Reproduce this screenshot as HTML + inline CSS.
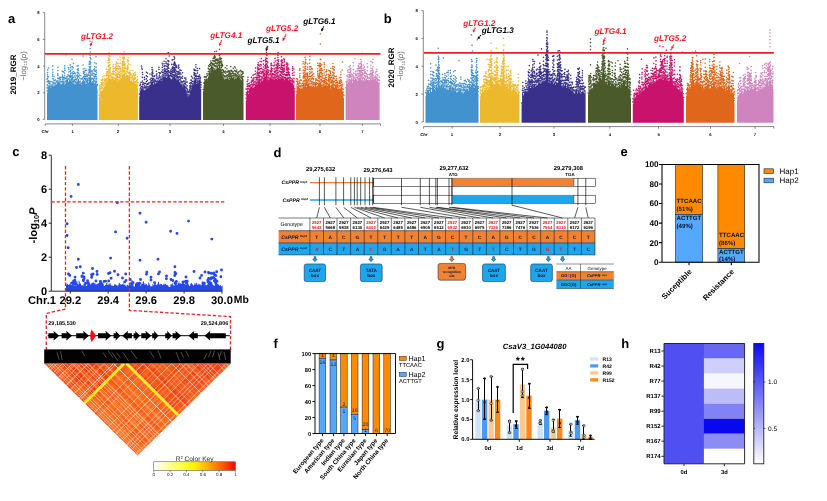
<!DOCTYPE html>
<html lang="en"><head><meta charset="utf-8"><title>Figure</title>
<style>html,body{margin:0;padding:0;background:#fff}svg{display:block;font-family:"Liberation Sans",Arial,Helvetica,sans-serif}text{white-space:pre;text-rendering:geometricPrecision}</style></head>
<body>
<svg width="827" height="501" viewBox="0 0 827 501">
<rect width="827" height="501" fill="#fff"/>
<g>
<path d="M47 120.1V93H47.5V84.5H48V85.6H48.5V86.8H49V82.4H49.5V85.5H50V83.3H50.5V87.6H51V84.5H51.5V87.3H52V86H52.5V83.6H53V81.9H53.5V86.3H54V81.6H54.5V85.6H55V82.4H55.5V85.2H56V84H56.5V84.4H57V82.8H57.5V80.1H58V81.7H58.5V80.3H59V82.3H59.5V80.1H60V82.9H60.5V84.2H61V84.5H61.5V83.3H62V79.5H62.5V83.4H63V78.5H63.5V82.9H64V84.7H64.5V80.5H65V80.5H65.5V83.9H66V80.1H66.5V78.9H67V79.2H67.5V78.1H68V82H68.5V81.2H69V79.4H69.5V77.9H70V80H70.5V80.7H71V78H71.5V81.5H72V83.2H72.5V81H73V78.9H73.5V83H74V81.8H74.5V84.6H75V81H75.5V84.3H76V81.7H76.5V81.8H77V81.5H77.5V80H78V79.1H78.5V78.7H79V80.8H79.5V83.4H80V83.5H80.5V81.4H81V84.9H81.5V82H82V81.3H82.5V80.5H83V80.1H83.5V78.7H84V80.7H84.5V80.7H85V82H85.5V84H86V80.4H86.5V83.4H87V78.7H87.5V77.7H88V81.4H88.5V82.6H89V76.9H89.5V77.4H90V69.1H90.5V75.4H91V77.1H91.5V82.3H92V82H92.5V82.8H93V79.8H93.5V81.9H94V83.8H94.5V80.8H95V77.8H95.5V82.8H96V78.4H96.5V84.5H97V88.8H97.5V120.1Z" fill="#4292d0"/>
<path d="M47.3 90.9h0M47.1 87.9h0M47.3 85.1h0M47.1 81.5h0M47.1 79.2h0M47.8 81.3h0M47.6 78.2h0M47.8 76.6h0M47.6 74.8h0M47.6 72.6h0M47.7 69.9h0M48.2 83h0M48.4 80.8h0M48.4 76.8h0M48.9 85.7h0M48.9 83.1h0M49.1 81.4h0M49.6 83.6h0M50.4 81.6h0M50.9 86.5h0M51.1 81.8h0M51.9 85.8h0M52.2 84.5h0M52.7 82.1h0M52.7 78.7h0M52.6 76.3h0M52.8 74.5h0M52.8 72.3h0M52.7 69.8h0M52.7 65.9h0M53.4 78.8h0M53.6 83.1h0M54.1 80.4h0M54.1 76.5h0M54.7 83.2h0M55.4 80.1h0M55.6 83.8h0M56.3 82.1h0M56.8 81.1h0M57.4 81.8h0M57.8 78h0M57.9 75.6h0M57.8 73.9h0M57.9 70.5h0M58.2 78.6h0M58.9 78.3h0M59.3 80h0M59.3 78.2h0M59.8 78.3h0M60.4 81.8h0M60.2 77.3h0M60.9 81.8h0M60.6 79.6h0M60.8 77.3h0M61.2 82h0M61.9 81.3h0M62.1 77.8h0M62.4 75h0M62.3 71.3h0M62.6 81.8h0M62.8 79.2h0M62.7 76.4h0M63.4 77.5h0M63.3 71.9h0M63.6 81.9h0M64.1 83.2h0M64.2 78.9h0M64.8 77.3h0M64.7 75.2h0M64.6 73.1h0M64.8 70.4h0M64.7 68.4h0M64.8 65.9h0M65.4 78.6h0M65.6 81.2h0M66.3 78.3h0M66.8 76.8h0M67.3 76.7h0M67.8 74.8h0M68.2 79h0M68.6 79.1h0M68.6 75.6h0M68.6 72h0M68.9 69.6h0M68.6 67.7h0M69.4 76.8h0M69.7 75.7h0M70.2 77.7h0M70.4 75.2h0M70.1 71.5h0M70.4 67.8h0M70.3 64.9h0M70.9 79.7h0M70.7 76.9h0M70.8 73.4h0M70.8 70.6h0M70.7 67.2h0M71.2 76.4h0M71.7 78.4h0M72.4 81.9h0M72.1 80.3h0M72.3 78.1h0M72.2 75.8h0M72.1 72.7h0M72.1 69.3h0M72.2 66.5h0M72.8 79h0M72.6 77h0M72.8 73.9h0M73.3 77.4h0M73.4 73.8h0M73.2 71.5h0M73.1 67.6h0M73.4 63.6h0M73.6 81.4h0M74.2 80.6h0M74.9 81.4h0M74.8 79.6h0M74.8 76.1h0M74.6 72.9h0M74.5 72.4h0M75.1 79.7h0M75.4 77.7h0M75.4 73.7h0M75.9 82.3h0M76.1 79.3h0M76.4 76h0M76.6 79.9h0M77.3 78.6h0M77.3 74.9h0M77.3 72.4h0M77.4 69.6h0M77.2 66h0M77.7 77.1h0M78.2 76.3h0M78.1 73h0M78.2 70.6h0M78.2 68.9h0M78.3 65.8h0M78.8 76.2h0M78.7 73.3h0M79.4 78h0M79.4 75.1h0M79.7 82h0M80.3 81.2h0M80.9 78.9h0M80.9 75.8h0M81.2 83.6h0M81.7 78.8h0M82.3 78.8h0M82.6 79h0M83.1 77.3h0M83.4 73.4h0M83.4 71.6h0M83.2 69h0M83.1 65h0M83.9 76.6h0M84.1 78.7h0M84.3 77h0M84.2 75.1h0M84.2 71.9h0M84.9 78.5h0M84.8 74.6h0M84.6 72.4h0M84.9 68.7h0M85.3 79.7h0M85.4 76.6h0M85.1 74.5h0M85.4 70.6h0M85.8 82h0M85.8 80.2h0M85.9 79.1h0M86.1 78.3h0M86.3 75.9h0M86.9 81h0M86.7 78.8h0M86.9 76.6h0M86.8 74.1h0M86.7 70.2h0M87.2 76.8h0M87.7 75.4h0M88.1 80.3h0M88.7 80h0M88.7 78.1h0M88.7 74.7h0M88.8 72.9h0M88.9 69.9h0M89.2 75.2h0M89.4 71.4h0M89.2 69.2h0M89.2 66.7h0M89.2 64.1h0M89.3 62.1h0M89.9 76.1h0M89.7 72.4h0M89.8 70.7h0M89.8 67.8h0M89.8 63.9h0M90.3 67.9h0M90.1 64.2h0M90.1 61h0M90.3 57.6h0M90.1 55.5h0M90.3 52h0M90.8 73.3h0M90.8 70h0M90.7 66.2h0M90.8 62.6h0M90.9 58.9h0M91.3 74.9h0M91.2 71.4h0M91.7 78.9h0M92.1 78.8h0M92.6 81.5h0M92.8 78.8h0M92.6 75h0M92.6 73.1h0M92.6 71h0M93.1 78.2h0M93.7 79.8h0M93.9 76h0M93.8 73.6h0M93.7 69.7h0M94.2 80.9h0M94.6 78.3h0M94.7 76.7h0M94.9 74.2h0M94.8 70.9h0M94.6 68.9h0M94.7 66.5h0M94.8 62.8h0M95.4 76.5h0M95.4 74.9h0M95.4 71.3h0M95.7 81.7h0M96.4 76.8h0M96.4 74.2h0M96.4 72.3h0M96.3 70.2h0M96.1 67.4h0M96.2 63.8h0M96.7 81.8h0M96.6 78.6h0M97.3 85.8h0M97.4 84.5h0M90.2 48.6h0M90.4 44.6h0M90.1 41.3h0M83 56h0M66 54.7h0M72 59.3h0M96 56.7h0M63 54h0M58 67.3h0M48.5 68h0" stroke="#4292d0" stroke-width="1.6" stroke-linecap="round" fill="none"/>
<path d="M98.9 120.1V99.5H99.4V91.9H99.9V91.1H100.4V87.2H100.9V90.9H101.4V86.5H101.9V90.9H102.4V87.9H102.9V85.1H103.4V88H103.9V86.7H104.4V85.7H104.9V85.7H105.4V81.8H105.9V78.1H106.4V78.9H106.9V81.1H107.4V77.9H107.9V75.4H108.4V74.2H108.9V72.3H109.4V77.7H109.9V78.9H110.4V78.2H110.9V75.7H111.4V78.4H111.9V76.1H112.4V76.6H112.9V74.1H113.4V79.1H113.9V79.6H114.4V79.7H114.9V78H115.4V77.7H115.9V78.1H116.4V77.2H116.9V76.1H117.4V81H117.9V78.9H118.4V79.8H118.9V79.5H119.4V78H119.9V74H120.4V79.6H120.9V77.7H121.4V77.7H121.9V74.4H122.4V73.9H122.9V72.2H123.4V73.7H123.9V71.6H124.4V73.4H124.9V73.7H125.4V77.4H125.9V75.5H126.4V73.1H126.9V74.5H127.4V74.9H127.9V75.7H128.4V74.9H128.9V75.5H129.4V75.6H129.9V79.1H130.4V81.1H130.9V76.6H131.4V80.4H131.9V77.1H132.4V82.1H132.9V76.7H133.4V77.8H133.9V80.9H134.4V81.2H134.9V83.4H135.4V81.6H135.9V83.7H136.4V82H136.9V78.6H137.4V87.6H137.9V120.1Z" fill="#ecb92c"/>
<path d="M99.3 98.5h0M99 95h0M99.6 90.3h0M99.7 87.7h0M99.5 85.5h0M100.2 88.8h0M100.7 86h0M101 88.6h0M101 86.4h0M101.1 84.5h0M101.3 82.8h0M101.2 80.1h0M101.6 84.6h0M102.3 87.6h0M102.2 84.4h0M102.1 82.8h0M102.2 80.4h0M102.7 85h0M102.8 83h0M102.7 79.3h0M102.7 76.8h0M103.2 82.9h0M103.5 85.5h0M104.3 85h0M104.1 82.5h0M104.3 80.6h0M104.3 78.7h0M104.2 75.8h0M104.8 82.4h0M105.3 84.1h0M105.7 80.4h0M105.5 79.6h0M106.1 75.6h0M106.5 76h0M106.6 73.9h0M106.6 72h0M106.5 69h0M107 78.6h0M107 75.4h0M107.8 75.3h0M107.6 71.9h0M108.2 73.5h0M108.2 69.7h0M108.1 66.8h0M108.1 63h0M108.4 60.3h0M108.5 71.8h0M108.6 69.9h0M108.6 67.1h0M108.7 65.4h0M108.5 62.5h0M108.6 60.2h0M108.5 58h0M109 69.4h0M109.2 66h0M109 62.2h0M109 58.7h0M109.3 55.8h0M109 52.9h0M109.6 75.8h0M109.5 72.8h0M109.8 71.1h0M109.6 68.8h0M109.8 64.9h0M109.5 62.2h0M109.8 59.9h0M110 76.8h0M110.3 73.1h0M110.2 71h0M110.3 69h0M110.3 67.7h0M110.7 75.2h0M111 73.7h0M111.5 77h0M112.2 74.2h0M112.7 73.5h0M112.7 71.2h0M113 71.9h0M113.1 68.8h0M113.3 66.6h0M113.1 64.8h0M113.8 77.7h0M113.5 73.7h0M113.8 71h0M113.8 68.5h0M114.2 77.8h0M114.2 74.3h0M114.3 71.5h0M114.2 68.2h0M114.7 78.3h0M115.3 75.1h0M115.5 75.6h0M115.7 72.5h0M115.8 69.6h0M115.5 67.5h0M115.6 64.2h0M116.3 77h0M116.2 74h0M116 70.5h0M116.1 68.5h0M116.1 66.8h0M116.2 63.8h0M116.6 75.8h0M116.7 73.8h0M116.8 70.2h0M116.6 68.5h0M116.5 66h0M116.5 62.1h0M117.1 74.8h0M117.6 79.7h0M117.6 77.4h0M117.5 75.6h0M117.8 71.6h0M117.5 68.2h0M117.7 66h0M117.6 63.8h0M118 76.5h0M118.2 73.9h0M118.1 72.2h0M118.3 68.9h0M118.3 65.9h0M118.1 63.2h0M118.1 59.5h0M118.5 77.6h0M119.3 77.5h0M119.3 74.2h0M119.6 76.2h0M119.5 74.6h0M119.6 72.3h0M119.7 68.5h0M119.6 66.3h0M120.3 71.3h0M120.1 69.7h0M120 67.1h0M120.1 63.4h0M120.2 60h0M120 57h0M120.6 78.6h0M120.7 76h0M120.7 74.1h0M120.7 71.8h0M120.5 68.6h0M121.1 75.8h0M121.5 76.7h0M121.7 73.5h0M121.8 70h0M122.2 71.8h0M122.3 67.9h0M122.2 65.7h0M122.1 63.9h0M122.5 72.3h0M122.6 69.8h0M122.7 67.8h0M122.5 65.6h0M122.6 63.2h0M122.7 61.2h0M122.7 57.9h0M123 70.3h0M123.2 67.5h0M123.1 64.8h0M123 62.5h0M123.3 60.1h0M123.1 57.1h0M123 53.9h0M123.8 71.4h0M123.7 68h0M123.6 64.9h0M123.6 62.3h0M124.2 70.4h0M124.1 68h0M124 64.1h0M124 62h0M124 58.8h0M124.2 57.2h0M124 54.6h0M124.2 51.8h0M124.6 70.1h0M124.8 67.7h0M124.7 65.3h0M124.7 62h0M124.8 58.1h0M125.1 71.9h0M125.2 68.5h0M125 66.3h0M125 63.9h0M125.7 76.2h0M126 73.4h0M126.8 70.9h0M126.7 68.4h0M127.3 71.7h0M127.2 68.1h0M127.5 72h0M127.7 69.5h0M127.5 67.3h0M127.7 65.7h0M127.8 61.8h0M127.7 59.9h0M128 72.4h0M128 69.1h0M128.1 67.4h0M128.3 64h0M128.1 62.1h0M128.2 60.5h0M128.1 57.7h0M128.6 73.3h0M129.2 73.6h0M129.8 74.4h0M129.6 72.2h0M130.2 77.8h0M130 75.6h0M130.1 72.8h0M130 70.6h0M130 64.7h0M130.5 77.8h0M130.6 74.1h0M131.2 74.3h0M131.8 77.4h0M132 75.7h0M132.6 79.3h0M132.5 76.5h0M133.3 73.8h0M133.1 70.5h0M133.5 74.5h0M134.3 79.3h0M134 75.4h0M134.6 78.3h0M134.6 75.2h0M134.8 72.9h0M135.2 81.9h0M135.2 79h0M135 77h0M135.1 75.1h0M135 72.4h0M135.5 78.3h0M135.6 74.6h0M136.3 81.8h0M136.6 80.6h0M137.3 76.8h0M137.7 86.1h0M137.8 82.4h0M137.7 79.3h0M108.5 54h0M110 56.7h0M123.3 54h0" stroke="#ecb92c" stroke-width="1.6" stroke-linecap="round" fill="none"/>
<path d="M139.2 120.1V96.6H139.7V87.9H140.2V90.5H140.7V84.1H141.2V88H141.7V89.1H142.2V85.4H142.7V85.4H143.2V87H143.7V90H144.2V89.5H144.7V90.6H145.2V86H145.7V89.5H146.2V83.3H146.7V86.2H147.2V85.4H147.7V88.5H148.2V86.9H148.7V85.9H149.2V87.2H149.7V82.6H150.2V84.7H150.7V80.2H151.2V81.7H151.7V81.6H152.2V80.5H152.7V81.7H153.2V84.6H153.7V83.6H154.2V78.5H154.7V78.5H155.2V83.5H155.7V83.2H156.2V81.1H156.7V78.1H157.2V82.5H157.7V80H158.2V80.9H158.7V75.8H159.2V79.9H159.7V76H160.2V76H160.7V81H161.2V75H161.7V80.9H162.2V74.6H162.7V76.1H163.2V76.5H163.7V74.5H164.2V74.9H164.7V77.3H165.2V74.6H165.7V75.1H166.2V78H166.7V75.2H167.2V76.8H167.7V73H168.2V73.6H168.7V74.5H169.2V74.4H169.7V77.8H170.2V78.6H170.7V72.7H171.2V79.2H171.7V79.2H172.2V73.9H172.7V76H173.2V75.2H173.7V76.9H174.2V74.1H174.7V73.6H175.2V78H175.7V78.4H176.2V73.5H176.7V80.2H177.2V77.8H177.7V78.7H178.2V79.4H178.7V79.2H179.2V81.9H179.7V81.4H180.2V81.7H180.7V84.3H181.2V80.8H181.7V84.5H182.2V83.1H182.7V87.2H183.2V83.5H183.7V86H184.2V85.1H184.7V85H185.2V85.7H185.7V89.8H186.2V90.5H186.7V93.4H187.2V92.3H187.7V96.4H188.2V93.4H188.7V95.5H189.2V94.3H189.7V91.7H190.2V88.6H190.7V90.1H191.2V88.6H191.7V85.4H192.2V84H192.7V84.7H193.2V83.7H193.7V77.9H194.2V80.2H194.7V77.7H195.2V78.6H195.7V77.4H196.2V83.9H196.7V83.5H197.2V79.4H197.7V81.1H198.2V82.5H198.7V79.5H199.2V78.2H199.7V80.1H200.2V78.3H200.7V88.9H201.2V120.1Z" fill="#38308a"/>
<path d="M139.4 94h0M140 85.5h0M140.5 88.1h0M140.3 84.3h0M141 82.4h0M141.6 86.8h0M142.1 86.6h0M142.6 84.3h0M142.4 81h0M142.4 77.4h0M142.6 74.5h0M142.4 72.5h0M142.3 69.3h0M143.1 82.6h0M143.3 84.2h0M144.1 87h0M144.6 87.1h0M144.6 85.3h0M144.5 83.2h0M144.5 79.5h0M144.5 77.4h0M144.9 88.1h0M145.4 83.4h0M145.9 87.1h0M146.4 81.5h0M146.3 78.9h0M146.4 75.8h0M146.4 72.2h0M147 84.5h0M147.6 83.8h0M147.4 80.5h0M147.4 76.7h0M147.5 73.3h0M148.1 86.5h0M148 84.2h0M148.4 83.8h0M149 82.9h0M149.4 86h0M150.1 79.5h0M149.9 74h0M150.5 82.1h0M151.1 78.3h0M151.4 80.6h0M151.9 80.2h0M151.9 78.3h0M151.8 74.9h0M152 72.9h0M152 69.8h0M152.1 67.6h0M152.6 79.5h0M152.6 75.6h0M152.5 71.9h0M153 80.1h0M153 78.2h0M152.8 76.3h0M152.9 73.4h0M152.8 70h0M153.4 82.3h0M153.3 78.7h0M153.9 81.4h0M154.3 76.5h0M154.8 75.8h0M155.5 80.3h0M155.8 81.6h0M156.6 78h0M156.5 75.1h0M156.4 71.3h0M156.9 76.2h0M156.9 73.7h0M157.5 81.4h0M157.9 78.2h0M158.3 78.8h0M158.9 72.5h0M158.9 69.5h0M159 67.2h0M159.3 77.2h0M159.4 75.3h0M159.6 73.1h0M159.8 73.5h0M160.6 73.1h0M161 79.9h0M161.6 71.8h0M162 79h0M162.6 72.6h0M162.4 70.1h0M162.3 67.4h0M162.5 65.1h0M162.3 63.3h0M162.9 74.8h0M163.4 75.1h0M163.8 72.4h0M163.9 69.8h0M164.1 66.5h0M164 63.8h0M164.1 61.2h0M164.4 73.5h0M164.4 71.5h0M164.5 68.5h0M164.5 65.9h0M164.9 74h0M164.8 70.7h0M165.6 73.5h0M165.5 71h0M165.9 72h0M165.8 69.2h0M165.8 65.8h0M166.1 63.4h0M166 61.8h0M166 58.8h0M166.3 75.1h0M166.3 71.6h0M167.1 72.9h0M167 69.1h0M167.1 66.6h0M167.3 75.2h0M167.5 73.6h0M167.4 71.3h0M167.3 69.1h0M167.4 66.4h0M167.4 64.1h0M168 70.6h0M168 67.2h0M168.1 64h0M167.9 60.5h0M167.9 53.1h0M168.6 70.9h0M168.5 68.1h0M168.3 65.7h0M168.3 61.8h0M168.8 72.3h0M168.9 68.3h0M168.8 64.6h0M168.8 61.4h0M169.2 56h0M169.3 72.2h0M169.8 75.7h0M169.9 72.4h0M170.5 75.4h0M170.4 73.4h0M170.5 71h0M171.1 69.5h0M171.5 76.6h0M171.6 73.5h0M171.5 71.7h0M171.8 75.9h0M172.1 74.2h0M172 71h0M172.1 68h0M171.8 64.4h0M172.2 59.9h0M172.3 72.1h0M172.4 68.7h0M173.1 74.5h0M172.8 72.5h0M172.9 70.3h0M172.9 66.8h0M173.3 72.2h0M173.4 70h0M173.5 67.6h0M173.6 64.4h0M173.9 75.5h0M173.9 71.5h0M174.1 69h0M173.9 65.1h0M174.1 63.1h0M173.9 59.6h0M174.6 72.1h0M174.4 70.4h0M174.3 67.9h0M174.3 64.1h0M174.6 62h0M174.6 58.1h0M174.8 72.2h0M175.1 69h0M175.1 65.6h0M174.9 62.9h0M175.4 76.7h0M175.4 74.9h0M175.3 72.9h0M175.5 70h0M175.6 67.1h0M175.6 64.2h0M176 75.3h0M175.9 73.3h0M175.9 70.3h0M176.3 71.5h0M176.6 67.6h0M176.6 65.9h0M176.8 77.5h0M177.1 75.8h0M177.3 76.5h0M177.3 74.1h0M177.5 71.9h0M178.1 76.9h0M177.9 73.9h0M178.6 77.9h0M178.6 74.2h0M178.5 72.2h0M178.4 68.3h0M178.5 66.2h0M178.8 77.5h0M178.9 74.3h0M178.9 71.3h0M179 67.5h0M178.8 65h0M179.3 79.8h0M179.4 77h0M179.6 73.9h0M180.1 79.9h0M179.9 76.3h0M180 72.6h0M180 69.9h0M180.5 78.7h0M181.1 81.4h0M181 77.6h0M181 74.1h0M181.1 70.5h0M181.3 77.6h0M182.1 82.1h0M182.6 81.9h0M182.4 78.2h0M182.5 76.2h0M182.6 72.8h0M183.1 86.2h0M183.6 81.1h0M183.8 85h0M183.8 81.5h0M184.4 83.4h0M184.5 81.3h0M184.6 78.1h0M185.1 83.4h0M185.4 84h0M185.9 87.6h0M185.8 84.2h0M186 82.1h0M185.9 79.9h0M185.9 78.1h0M186.4 88h0M186.9 92.1h0M187.1 88.9h0M187 85.9h0M187.1 82.1h0M187.3 90.1h0M188 94.8h0M187.9 91.5h0M188.4 91.4h0M188.8 92.4h0M189.1 91.9h0M189.5 92h0M189.5 89.5h0M189.8 90.4h0M189.8 87.7h0M189.9 85.9h0M189.8 83.2h0M190.6 86.9h0M190.4 85h0M190.6 82.9h0M191.1 88.5h0M190.9 85.2h0M190.9 82.8h0M190.9 80.1h0M191.4 86.6h0M191.4 82.9h0M191.6 80.4h0M191.6 76.4h0M192 83.8h0M192.3 81.5h0M192.5 78.1h0M192.9 83.7h0M193.6 81.8h0M194.1 75h0M194 72.5h0M194.1 69.2h0M194.5 77.9h0M194.3 73.9h0M194.4 70.4h0M194.9 75.5h0M195 73.5h0M195 69.7h0M195.4 76.3h0M196.1 75.6h0M195.9 73.8h0M196 70.6h0M195.9 67h0M195.9 64.7h0M196.4 82.6h0M196.6 78.9h0M196.3 76.7h0M196.9 80.7h0M197.3 76.4h0M197.5 73.1h0M197.6 70.7h0M197.4 68.5h0M198 78.8h0M198.6 81.2h0M198.4 78.8h0M198.6 76.2h0M198.8 76.9h0M199.5 76.7h0M199.5 75h0M199.5 68.6h0M200.1 78.3h0M200.5 77.3h0M200.9 87.2h0M201 84.9h0M200.9 82.4h0M168.5 52.7h0M174 56.7h0M141.5 66h0M141.7 68h0" stroke="#38308a" stroke-width="1.6" stroke-linecap="round" fill="none"/>
<path d="M203 120.1V91.2H203.5V85.2H204V79.5H204.5V81.6H205V78.5H205.5V79.9H206V78.9H206.5V77.1H207V78.6H207.5V80.2H208V75H208.5V76.7H209V72H209.5V71.1H210V72.5H210.5V69.8H211V65.9H211.5V64.5H212V65.8H212.5V67.1H213V66.4H213.5V69.7H214V69.2H214.5V68.2H215V67.8H215.5V69.7H216V69.1H216.5V63.1H217V65.9H217.5V63H218V67.3H218.5V67.9H219V64.8H219.5V63.7H220V67H220.5V68.7H221V71.7H221.5V68.4H222V71.6H222.5V75.8H223V72.6H223.5V77.5H224V79.5H224.5V75.2H225V79.1H225.5V75.4H226V78.9H226.5V77.6H227V77.3H227.5V74.4H228V75.7H228.5V79.2H229V76.9H229.5V79.8H230V77.9H230.5V76.2H231V73.6H231.5V75.5H232V74.8H232.5V78H233V74.7H233.5V77.2H234V79.2H234.5V77.2H235V78.6H235.5V76.5H236V78.5H236.5V73.8H237V76.7H237.5V74.3H238V73.9H238.5V75.8H239V74.8H239.5V77.4H240V73.5H240.5V79.3H241V74.6H241.5V80.2H242V77.8H242.5V75.7H243V78.8H243.5V120.1Z" fill="#4a5a2a"/>
<path d="M203.3 89.5h0M203.8 83.1h0M204.3 77.1h0M204.7 79.5h0M204.8 76.6h0M205.1 76.9h0M205.9 76.8h0M206.2 76.9h0M206.9 74h0M207 73.7h0M207.3 75.6h0M207.6 79.3h0M208.2 71.8h0M208.3 68.4h0M208.6 74.1h0M208.8 71.4h0M208.8 69h0M208.6 65.9h0M209.2 69.2h0M209.9 69.6h0M209.9 66.2h0M209.6 64.5h0M210.2 71.1h0M210.8 68.4h0M210.9 65.3h0M210.8 63.6h0M210.9 61.1h0M211.1 62.6h0M211.7 63h0M212.2 63.4h0M212.6 64.9h0M212.9 63.2h0M212.7 60.7h0M213.2 64.2h0M213.3 60.8h0M213.1 58.6h0M213.7 68.3h0M213.8 64.7h0M213.9 61.3h0M213.6 58h0M214.2 66.1h0M214.1 64.3h0M214.3 60.7h0M214.1 56.9h0M214.6 65.7h0M214.8 63.7h0M214.6 61.2h0M214.8 58.2h0M214.7 55.7h0M214.6 51.5h0M215.3 65.9h0M215.1 62h0M215.3 59.5h0M215.3 57h0M215.8 66.8h0M215.6 63h0M215.9 60.5h0M216.2 66.1h0M216.4 63h0M216.3 59.3h0M216.6 59.9h0M217.2 63.5h0M217.3 61.1h0M217.2 59h0M217.6 60h0M218.4 65.7h0M218.1 62.5h0M218.7 64.7h0M218.7 62.3h0M218.8 60h0M219.3 63.4h0M219.1 61.4h0M219.1 58.8h0M219.3 55.4h0M219.9 61.7h0M219.8 58.4h0M219.7 54.8h0M220.1 65.7h0M220.1 62.8h0M220.4 59.7h0M220.1 57.3h0M220.3 54.1h0M220.7 65.4h0M220.8 61.9h0M220.6 59.2h0M221.1 70.6h0M221.3 67.6h0M221.4 63.6h0M221.2 61.3h0M221.4 58.5h0M221.9 66.6h0M221.7 64.9h0M221.8 63.1h0M221.6 61.1h0M222.2 70h0M222.1 66.2h0M222.4 64.6h0M222.8 74.7h0M222.7 72.6h0M222.6 69.6h0M222.7 65.7h0M223.4 70.5h0M223.7 75.4h0M223.6 71.6h0M224.3 76.3h0M224.6 72.3h0M225.1 76.1h0M225.2 73.1h0M225.3 71.1h0M225.2 67.7h0M225.6 73.3h0M226.3 76.8h0M226.6 75.2h0M226.8 71.9h0M226.9 68.8h0M226.9 65.7h0M227.2 75.4h0M227.2 72.2h0M227.9 71.8h0M228.4 74.6h0M228.2 70.7h0M228.6 76.2h0M228.9 73.9h0M228.9 71.8h0M229.2 74.9h0M229.6 78.1h0M229.6 76.2h0M229.8 72.7h0M229.7 71.1h0M230.4 76.1h0M230.4 73.6h0M230.8 75h0M230.6 73.2h0M230.6 70.6h0M230.8 66.6h0M231.2 71.1h0M231.8 73.6h0M231.8 70.3h0M232.1 73.6h0M232.5 71.8h0M232.7 75.7h0M232.7 72.2h0M233.4 73.5h0M233.2 71.7h0M233.3 68.3h0M233.7 75.2h0M234.3 77h0M234.5 70.2h0M234.6 74h0M234.9 70.5h0M234.6 66.7h0M235.2 75.5h0M235.2 73.5h0M235.3 71.4h0M235.4 68h0M235.8 74.5h0M235.7 71.2h0M236.1 76.7h0M236.2 74.9h0M236.7 71.9h0M236.8 70h0M237.4 75.7h0M237.6 73.2h0M238.2 72.2h0M238.9 74.2h0M239.1 71.6h0M239.7 76.1h0M240.4 70.4h0M240.9 77.3h0M241.2 71.9h0M241.7 77.9h0M241.7 75h0M241.7 71.4h0M242.2 76.7h0M242.1 74.4h0M242 71.6h0M242.6 73.5h0M242.9 71.7h0M243.4 76.6h0M243.4 73h0M216.5 51.3h0M219.5 49.3h0" stroke="#4a5a2a" stroke-width="1.6" stroke-linecap="round" fill="none"/>
<path d="M245.8 120.1V100.5H246.3V93.6H246.8V90.6H247.3V90.3H247.8V90.6H248.3V94H248.8V87.9H249.3V89H249.8V87.7H250.3V86.6H250.8V84.6H251.3V87H251.8V83.2H252.3V83.4H252.8V87.9H253.3V87.3H253.8V86H254.3V86.9H254.8V84.4H255.3V80.3H255.8V82H256.3V80H256.8V84.6H257.3V78.5H257.8V78.2H258.3V81.1H258.8V78.5H259.3V78.2H259.8V78.6H260.3V82.6H260.8V80.7H261.3V76H261.8V75.5H262.3V81.2H262.8V79H263.3V79.6H263.8V75.5H264.3V76.2H264.8V76.7H265.3V75.2H265.8V70.3H266.3V67.5H266.8V71.2H267.3V76.2H267.8V80.3H268.3V74H268.8V79.6H269.3V77.7H269.8V76H270.3V77.5H270.8V74.4H271.3V73.7H271.8V78.9H272.3V76.4H272.8V75.1H273.3V76.7H273.8V79.9H274.3V73.5H274.8V74.1H275.3V78.9H275.8V73.6H276.3V79H276.8V75.3H277.3V79.4H277.8V74.3H278.3V75.4H278.8V78.3H279.3V73.4H279.8V79.2H280.3V77.1H280.8V77.8H281.3V75.2H281.8V72.8H282.3V76H282.8V78.8H283.3V75.4H283.8V76.2H284.3V80.2H284.8V76.8H285.3V77H285.8V76.8H286.3V77.8H286.8V78.3H287.3V76.5H287.8V76.4H288.3V80.6H288.8V79.2H289.3V76.8H289.8V79.6H290.3V81.4H290.8V80.6H291.3V83H291.8V80.8H292.3V77.6H292.8V82.9H293.3V85.3H293.8V79.6H294.3V90.2H294.8V120.1Z" fill="#c8126c"/>
<path d="M246.1 98.2h0M246.2 94.6h0M246.1 89.1h0M246.5 92.6h0M247.2 89.3h0M247.1 86.5h0M247.2 84.2h0M247.2 81.6h0M247.4 88.7h0M247.9 88.4h0M248 85.6h0M248.2 83.7h0M247.9 79.9h0M248 77.2h0M248.5 91.9h0M248.7 88.9h0M248.9 86.4h0M249.5 85.6h0M249.4 83.2h0M249.9 86.6h0M250.4 85h0M251.1 82.5h0M251.5 84.4h0M251.4 81.3h0M251.4 77.4h0M252.2 80.1h0M252.7 80.7h0M253.2 85.8h0M253 81.8h0M253.1 78.6h0M253 75.3h0M253.7 84.6h0M253.9 83.8h0M254 82.2h0M253.9 80h0M254 77.9h0M254.2 74.6h0M254.6 84.5h0M254.9 81.8h0M255.7 77.4h0M255.7 73.9h0M255.4 71.2h0M255.6 68.1h0M256.2 79.5h0M256.7 78h0M257 82.7h0M256.9 79.5h0M257 77.1h0M257.1 75.2h0M257.2 72.6h0M257.5 77.5h0M257.5 73.8h0M257.6 71h0M257.6 68.8h0M257.5 67h0M257.7 64.7h0M257.9 77.1h0M258.2 73.7h0M258.2 69.7h0M258.1 67.7h0M258.1 64.6h0M258.2 62.7h0M258.6 80h0M258.4 77.7h0M258.6 75.4h0M258.6 73h0M258.7 69.3h0M258.7 65.5h0M259.2 77.3h0M259.1 75.4h0M258.9 72.6h0M258.9 69.1h0M259.4 75.6h0M259.7 72.7h0M259.4 69.5h0M260 76.3h0M260 73.5h0M260.2 71.2h0M260.2 68.7h0M259.9 66.2h0M260.2 64.6h0M260.2 61.2h0M260.6 80.2h0M260.9 79.4h0M261 76.6h0M261.4 73.7h0M261.6 72.1h0M261.4 68.4h0M261.4 65.1h0M261.7 61.8h0M261.4 58.5h0M262.1 72.4h0M262.3 71.3h0M262.5 78.1h0M263.1 76.5h0M263.1 74.7h0M263 73h0M263 69.4h0M263.6 78.7h0M263.6 75.8h0M263.6 71.9h0M263.4 69.8h0M263.5 67h0M263.4 64.1h0M263.5 60.8h0M263.8 60.6h0M264.2 73.6h0M264.4 75.3h0M264.7 73.5h0M264.5 70.4h0M265.2 74.2h0M264.9 70.6h0M264.9 68.3h0M264.9 65.5h0M265.7 72.1h0M265.7 68.5h0M265.5 66.4h0M265.7 64.7h0M265.7 61.9h0M265.5 59.6h0M266 67.2h0M265.9 64.1h0M266.2 60.9h0M265.9 58h0M266.6 64.6h0M266.5 61h0M266.4 58.3h0M266.6 54.8h0M266.4 52.2h0M267.2 69.9h0M267.2 66.8h0M266.9 63.9h0M267.2 61.6h0M267.1 58.6h0M266.9 55.5h0M267.5 73.8h0M267.6 72.1h0M267.7 69.5h0M267.4 67.4h0M267.4 65.8h0M267.7 62.3h0M268.1 77.2h0M268.1 74.9h0M268.2 72.6h0M268.2 70.4h0M268.2 67.2h0M268.4 72.3h0M268.6 70.6h0M269.2 78.3h0M269.7 74.8h0M270.1 73.6h0M270.7 75h0M270.4 71.7h0M270.5 70.5h0M271.1 72h0M271.1 68.7h0M270.9 65.8h0M271 63.9h0M271.5 71.5h0M271.7 69.5h0M271.4 67.7h0M271.4 65.4h0M271.4 63.3h0M272 76.4h0M272 73.4h0M272.1 70.6h0M272.1 68.5h0M272.2 65.5h0M272.5 74.7h0M273.2 73.7h0M273.5 74.3h0M274.2 77.5h0M274.1 74.8h0M274.1 71.8h0M274.1 68.9h0M273.9 65.9h0M274.1 62.7h0M274.5 71.4h0M275.1 72.7h0M274.9 68.7h0M274.9 65.1h0M275.2 61.1h0M275.1 58.4h0M275.6 77.7h0M275.6 75h0M275.6 71.5h0M275.9 70.6h0M276 67.5h0M276.5 76.6h0M276.5 73.5h0M276.7 70h0M276.7 67.8h0M276.5 64.9h0M277 72.3h0M277 68.6h0M277.1 66h0M277.1 63.1h0M277.2 60.2h0M277.7 78.3h0M277.4 76.1h0M277.5 74.1h0M277.4 70.4h0M277.4 68.4h0M277.5 66.7h0M277.7 63.9h0M278 72.8h0M277.9 70h0M278 66.2h0M278 64.1h0M278 60.6h0M277.9 57.6h0M277.9 55.4h0M278.1 52.6h0M278.5 72.1h0M278.5 68.1h0M278.4 65.3h0M278.6 63.5h0M278.4 61.6h0M278.6 59.8h0M278.9 76.3h0M279.6 71.1h0M279.7 67.5h0M279.7 65.3h0M280.2 77.5h0M280.2 74.9h0M280.4 75.2h0M280.7 72h0M280.5 68.7h0M281.1 75.7h0M281.1 73.7h0M281 71.5h0M281.1 69.3h0M281.1 66.7h0M281.2 64.1h0M280.9 61.1h0M281.4 72.5h0M281.4 69.4h0M281.4 67.2h0M281.7 65.6h0M281.5 61.7h0M281.6 60h0M281.4 56.8h0M282.1 71.3h0M282.1 67.8h0M281.9 64.9h0M281.9 63.2h0M282.1 60.3h0M282.6 73h0M282.7 69.3h0M282.7 65.7h0M282.6 62.5h0M282.4 60.3h0M282.9 76.8h0M283.1 74.5h0M283 70.7h0M283 68.4h0M283.1 65.7h0M283.5 72.1h0M284.1 74.3h0M284 71.4h0M284 69.8h0M284.2 67h0M284.2 65.1h0M284.2 61.2h0M283.9 58.9h0M284.7 77.6h0M284.4 74h0M284.4 71.2h0M284.5 68.7h0M284.5 65.1h0M284.4 61.9h0M284.4 59.7h0M285.2 74.8h0M285.5 75.6h0M285.9 74.3h0M286.6 74.8h0M286.5 72.6h0M286.5 69.9h0M286.4 66.9h0M286.4 64.6h0M286.6 63h0M287 75.8h0M287 72h0M286.9 68.4h0M287.5 74.6h0M287.5 72.2h0M287.5 70.2h0M287.7 68.4h0M287.6 65.9h0M287.7 63.3h0M288 73.2h0M287.9 70.2h0M288 67.7h0M287.9 64.6h0M288.4 78.2h0M288.4 75h0M288.5 71.9h0M288.5 68h0M289.1 77.6h0M289.2 74.4h0M289 72.6h0M289 69.3h0M289.5 75.4h0M290.2 77.4h0M290.4 80.3h0M291.1 78.5h0M291.7 81.1h0M292.2 79.7h0M292.5 75.2h0M292.6 73.2h0M292.6 70.5h0M292.5 68.8h0M292.7 66.9h0M293 80.7h0M293.7 82.1h0M294 78.4h0M294 75.3h0M294 72.2h0M293.9 69h0M294.6 88.7h0M266.3 50h0M266.6 47.3h0M283 40h0M283.3 38.6h0" stroke="#c8126c" stroke-width="1.6" stroke-linecap="round" fill="none"/>
<path d="M296 120.1V94.1H296.5V84H297V85.5H297.5V86.1H298V84.5H298.5V86.9H299V88.1H299.5V85.3H300V88.8H300.5V88H301V82.9H301.5V88.6H302V88.4H302.5V85.5H303V83.4H303.5V83.6H304V86.4H304.5V78H305V78H305.5V82.8H306V86.8H306.5V86.5H307V83.7H307.5V83.1H308V83.7H308.5V82H309V86.1H309.5V81.2H310V82.7H310.5V85.9H311V86.2H311.5V81H312V80.7H312.5V86.8H313V82.4H313.5V86.1H314V87.1H314.5V83.9H315V80.8H315.5V82.7H316V86.4H316.5V86.1H317V86H317.5V84.5H318V81.9H318.5V83.7H319V82.9H319.5V78.5H320V78.5H320.5V82.4H321V86.5H321.5V83.4H322V86.7H322.5V83H323V84H323.5V80.9H324V84.2H324.5V85.5H325V85.3H325.5V84.7H326V82H326.5V81.7H327V85.6H327.5V85.8H328V83.8H328.5V83.7H329V83.5H329.5V82.2H330V85.3H330.5V88.5H331V82.7H331.5V85.3H332V83.3H332.5V83.6H333V86.4H333.5V83.8H334V83.6H334.5V88.1H335V83.1H335.5V85H336V84.5H336.5V86.4H337V88.7H337.5V88.3H338V89.3H338.5V88.4H339V86.4H339.5V88.8H340V88.5H340.5V86.6H341V84.7H341.5V86.7H342V87.8H342.5V91.9H343V93.5H343.5V98H344V120.1Z" fill="#e0661c"/>
<path d="M296.3 91.7h0M296.6 81.3h0M296.7 78.5h0M297.3 83.3h0M297.5 79.5h0M297.6 84.2h0M297.9 82.1h0M297.6 79.3h0M298.1 81.3h0M298.6 85.5h0M298.8 83.8h0M299.2 86.2h0M299.7 82.6h0M299.8 80.8h0M299.8 77.4h0M299.8 75.6h0M299.9 73.5h0M299.8 70.4h0M299.9 68.9h0M300.3 85.8h0M300.1 83.6h0M300.4 80h0M300.6 87h0M301.4 80.2h0M301.9 85.3h0M302.4 85.9h0M302.7 83.4h0M303.4 81.8h0M303.2 78.1h0M303.3 76.4h0M303.4 73.4h0M303.3 70.4h0M303.1 67h0M303.2 63.8h0M303.2 61.7h0M303.9 80.8h0M303.9 77.2h0M303.7 75.8h0M304.2 85.5h0M304.1 83.7h0M304.3 80.7h0M304.1 77.8h0M304.3 74.8h0M304.1 72.5h0M304.2 70.5h0M304.8 76.5h0M304.8 74.4h0M304.9 71h0M304.9 68.1h0M304.9 64.2h0M305.3 76.9h0M305.4 74.3h0M305.3 70.8h0M305.2 68.4h0M305.1 66.6h0M305.2 62.9h0M305.4 61.3h0M305.8 80.8h0M305.9 79.1h0M305.8 76.7h0M305.6 74.9h0M305.9 73.1h0M305.9 69.2h0M305.6 66.4h0M305.8 62.9h0M305.8 59.4h0M306.4 85.2h0M306.4 83.5h0M306.1 81.6h0M306.7 84.6h0M306.8 82.6h0M306.8 80.1h0M306.6 76.6h0M306.7 73.9h0M307.3 82.8h0M307.1 81h0M307.3 78.2h0M307.3 76.1h0M307.6 81.1h0M307.8 78.8h0M307.9 77h0M307.7 74.9h0M307.7 73.1h0M307.6 69.2h0M307.8 67.1h0M307.6 64h0M308.4 81.1h0M308.8 79.7h0M308.8 76.5h0M309.1 83.8h0M309.6 78.8h0M309.7 76.3h0M309.6 73.9h0M309.6 71.8h0M309.7 69.1h0M309.9 66.9h0M309.7 63.2h0M309.7 59.7h0M309.9 56.2h0M310.1 80.7h0M310.9 83.5h0M310.8 80.2h0M310.8 76.8h0M310.8 73h0M310.8 69.8h0M310.9 66.9h0M311.1 83.8h0M311.3 81.7h0M311.3 79.1h0M311.1 76.4h0M311.8 78.6h0M311.9 75.7h0M311.7 72h0M311.8 68.5h0M312.4 77.8h0M312.2 75.7h0M312.3 72h0M312.4 69h0M312.9 84.3h0M312.7 82h0M312.9 78.3h0M312.6 74.3h0M313.2 79.7h0M313.6 84.4h0M313.8 82.6h0M313.6 79h0M313.9 76.2h0M313.8 73.7h0M314.3 84.3h0M314.6 82.8h0M315.4 78.7h0M315.8 80.3h0M316.1 84.7h0M316.3 82.9h0M316.3 79h0M316.8 83.2h0M316.9 80.1h0M317.1 83.8h0M317.7 83.3h0M317.6 80.4h0M317.8 77h0M317.8 75.1h0M317.8 73.2h0M317.7 71.4h0M317.8 68.7h0M317.9 65.5h0M317.7 63.1h0M318.2 80.5h0M318.2 76.9h0M318.6 81h0M318.7 78.3h0M318.7 76h0M319.4 81.5h0M319.4 78.3h0M319.1 76.4h0M319.3 74h0M319.4 70.4h0M319.1 66.7h0M319.2 65.4h0M319.7 77h0M319.9 75h0M319.7 73.1h0M319.6 71h0M319.8 67h0M319.7 63.6h0M320.2 76.2h0M320.4 72.6h0M320.1 69h0M320.3 65h0M320.1 63.3h0M320.4 59.4h0M320.8 79.6h0M320.8 76.8h0M320.9 73h0M320.9 70.5h0M320.7 68.5h0M320.6 66.1h0M320.6 63.5h0M320.9 59.6h0M321.2 85.4h0M321.1 82.4h0M321.3 79.9h0M321.2 76.5h0M321.2 72.5h0M321.1 69.1h0M321.6 80.3h0M321.9 76.6h0M321.9 74.1h0M321.8 70.8h0M321.7 68.3h0M321.9 64.7h0M322.1 85.2h0M322.4 81.4h0M322.2 78.1h0M322.4 75.5h0M322.3 73.7h0M322.2 70.3h0M322.7 81.6h0M323.4 80.7h0M323.6 78.2h0M324.1 82.4h0M324.3 80.6h0M324.4 78.2h0M324.2 75h0M324.1 73.1h0M324.3 69.8h0M324.3 67h0M324.4 64.4h0M324.1 62.7h0M324.9 83.8h0M324.8 82h0M324.7 78.7h0M325.3 83.6h0M325.7 81.6h0M325.8 79.5h0M325.6 77.4h0M325.8 75.6h0M325.9 71.9h0M326.2 80.4h0M326.6 79.9h0M326.6 77.5h0M326.8 74.4h0M326.9 71.3h0M326.6 69.7h0M327.4 83.5h0M327.8 84.1h0M328.2 80.5h0M328.4 78.3h0M328.7 81.8h0M328.6 79.5h0M328.6 76.2h0M328.8 74.3h0M328.9 70.4h0M329.1 81.3h0M329.1 79.4h0M329.2 77h0M329.1 74.8h0M329.6 80.9h0M329.6 77.2h0M329.8 75.2h0M329.9 71.3h0M330.4 82.2h0M330.4 78.8h0M330.2 75.5h0M330.4 72.5h0M330.9 86.4h0M330.6 83h0M330.9 79.7h0M330.9 78.1h0M330.9 75.5h0M330.7 73.8h0M330.6 71.5h0M330.9 68.3h0M331.4 80.8h0M331.4 77.4h0M331.8 82.4h0M332.1 82h0M332.6 80.9h0M332.8 78.9h0M332.6 75.8h0M332.6 72h0M332.9 68.4h0M332.8 66.5h0M332.9 63.6h0M333.4 84.7h0M333.4 83h0M333.3 81.4h0M333.2 77.5h0M333.2 74.5h0M333.4 72.7h0M333.4 69.9h0M333.1 68.2h0M333.7 82h0M334.4 81.8h0M334.1 78.6h0M334.2 75.9h0M334.3 73.2h0M334.2 69.9h0M334.4 67.1h0M334.7 84.9h0M335.3 80.4h0M335.3 76.5h0M335.7 82.7h0M336.4 83h0M336.2 80.2h0M336.4 76.3h0M336.7 85.3h0M336.7 82.6h0M336.8 78.7h0M337.2 86.8h0M337.3 84.2h0M337.1 81.2h0M337.9 85.6h0M337.8 82.2h0M338.2 87.9h0M338.9 86.2h0M338.6 83.6h0M339.2 83.2h0M339.3 80.7h0M339.2 77.8h0M339.9 85.7h0M339.8 82.2h0M340.3 85.6h0M340.4 81.6h0M340.6 83.7h0M340.8 79.9h0M340.8 77.4h0M340.8 74.8h0M340.8 72h0M341.3 82h0M341.3 80.2h0M341.7 85.2h0M341.9 82.2h0M342.2 86h0M342.9 88.7h0M342.6 84.4h0M343.3 92.1h0M343.3 89.2h0M343.8 95.4h0M320.4 34h0M320.4 44h0M305 57.3h0M342.5 62h0M342.2 70h0" stroke="#e0661c" stroke-width="1.6" stroke-linecap="round" fill="none"/>
<path d="M345.6 120.1V88.8H346.1V83.5H346.6V78.4H347.1V83.8H347.6V78.2H348.1V81.8H348.6V82.1H349.1V80.9H349.6V78.8H350.1V79.1H350.6V79.9H351.1V78.1H351.6V77.8H352.1V82.7H352.6V75.9H353.1V77.4H353.6V78.4H354.1V80.3H354.6V75.9H355.1V78.2H355.6V76.2H356.1V78.5H356.6V79.6H357.1V75.1H357.6V81.2H358.1V77.7H358.6V77.7H359.1V77.8H359.6V76.4H360.1V79.1H360.6V75.9H361.1V75.8H361.6V80.3H362.1V81.2H362.6V76.5H363.1V79.5H363.6V80.7H364.1V76.4H364.6V80.5H365.1V79.4H365.6V75.3H366.1V78.6H366.6V78.1H367.1V79.9H367.6V80H368.1V79.3H368.6V80.6H369.1V79.8H369.6V79.9H370.1V79H370.6V75.3H371.1V75.8H371.6V79.9H372.1V76.7H372.6V74.9H373.1V76.8H373.6V79.8H374.1V79.1H374.6V78.8H375.1V78.4H375.6V74.4H376.1V79.9H376.6V80.7H377.1V80.3H377.6V78.5H378.1V82.5H378.6V82.2H379.1V81.7H379.6V120.1Z" fill="#cf84bd"/>
<path d="M345.8 87.7h0M346.3 81.9h0M346.8 75.9h0M347.4 81.8h0M347.9 77.1h0M348 74.8h0M348 72.1h0M347.7 70.4h0M348.4 80h0M348.9 80.7h0M348.9 77.7h0M349.3 79.7h0M349.3 77.1h0M349.5 74.9h0M349.4 72.6h0M349.2 69.6h0M349.2 66.9h0M349.7 75.6h0M350.5 76.9h0M350.3 75.2h0M350.5 71.9h0M350.5 69.1h0M350.3 65.7h0M351 76.9h0M351 74.7h0M350.8 73h0M350.9 70.7h0M350.9 68.2h0M351.2 76.6h0M351.3 74.3h0M351.8 76.3h0M352.4 80.3h0M352.7 74.7h0M353.2 76.1h0M353.4 73.1h0M353.3 69.6h0M353.4 65.8h0M353.4 62.6h0M353.8 77.4h0M354.2 77.8h0M355 73.5h0M355.4 75.1h0M355.3 71.7h0M356 74.6h0M355.7 71.5h0M356.3 75.4h0M356.9 77.4h0M357.3 73.3h0M357.3 71h0M357.2 68.8h0M357.8 78.1h0M358.5 76h0M358.2 74.3h0M358.4 70.6h0M358.4 68.4h0M358.4 65.9h0M358.9 76.2h0M359 73.2h0M359 70.5h0M358.8 66.7h0M359 64.1h0M359.4 75.6h0M359.3 73.4h0M359.5 68.3h0M359.8 75.2h0M359.7 71.4h0M360 67.7h0M360.4 78.1h0M360.5 76h0M360.2 73.1h0M360.2 70.6h0M360.5 66.8h0M360.2 63.5h0M360.7 74.7h0M360.7 71.3h0M361 68.8h0M360.7 66.2h0M360.8 63.1h0M360.8 59.6h0M361.5 74.6h0M361.4 72.2h0M361.5 70.4h0M361.4 66.5h0M361.4 64.6h0M361.3 61.8h0M361.9 77.6h0M361.9 75h0M361.9 72.7h0M362 70.1h0M361.8 67.8h0M361.7 66h0M362.5 80.2h0M362.5 78.4h0M362.2 75.9h0M362.3 72.8h0M362.5 70.3h0M362.8 73.8h0M363.3 78h0M363.3 74.2h0M363.4 70.6h0M363.4 68.2h0M363.3 65h0M363.9 78.1h0M364.3 73.3h0M364.4 70h0M364.5 67.1h0M364.8 79.2h0M364.7 75.6h0M364.8 71.9h0M364.9 69.5h0M365.5 76.4h0M365.4 73h0M365.7 72.3h0M366.2 76.2h0M366.4 73.8h0M367 76.3h0M367.3 76.9h0M367.3 74.5h0M367.5 70.8h0M367.5 66.9h0M367.2 63.7h0M367.7 78.2h0M368.4 78h0M369 77.8h0M369.2 78.1h0M369.2 74.6h0M370 77.9h0M369.8 74.5h0M370.4 76.2h0M370.4 73.4h0M370.5 71h0M371 73.2h0M371 70.6h0M370.9 68.2h0M370.9 65.2h0M371 61.6h0M371.5 74.6h0M371.4 70.7h0M371.8 78.8h0M371.8 76.3h0M372.1 74.4h0M372.3 74.9h0M372.4 72.9h0M372.4 69h0M372.8 72.3h0M372.8 70.5h0M372.9 66.9h0M372.6 62.6h0M373.4 75.3h0M373.5 72h0M373.7 78.5h0M374.3 77.3h0M375 76.7h0M375.4 76.3h0M375.5 73h0M376 71.8h0M376.2 77.9h0M377 79.3h0M377 77h0M376.9 74.5h0M376.9 71.3h0M376.9 69.2h0M377.3 79h0M377.8 75.2h0M378.2 80.1h0M378.8 79.7h0M379.2 80.4h0M379.3 77.3h0M362 53.3h0M355 58.7h0M373 59.3h0" stroke="#cf84bd" stroke-width="1.6" stroke-linecap="round" fill="none"/>
<path d="M45 53.9H380.5" stroke="#ee1c25" stroke-width="1.6" fill="none"/>
<g stroke="#555" stroke-width="0.7" fill="none">
<path d="M44.7 12.7V119.4M44.7 12.7h-1.8M44.7 39.4h-1.8M44.7 66.1h-1.8M44.7 92.8h-1.8M44.7 119.4h-1.8"/>
<path d="M45.2 123.9H380.5M45.2 123.9v2M72.4 123.9v2M118.3 123.9v2M170 123.9v2M223.5 123.9v2M270 123.9v2M320 123.9v2M362.3 123.9v2M380.5 123.9v2"/>
</g>
<text x="38.3" y="14.2" font-size="4.2" font-weight="bold" text-anchor="middle">8</text>
<text x="38.3" y="40.9" font-size="4.2" font-weight="bold" text-anchor="middle">6</text>
<text x="38.3" y="67.6" font-size="4.2" font-weight="bold" text-anchor="middle">4</text>
<text x="38.3" y="94.3" font-size="4.2" font-weight="bold" text-anchor="middle">2</text>
<text x="38.3" y="120.9" font-size="4.2" font-weight="bold" text-anchor="middle">0</text>
<text x="45.1" y="133.3" font-size="4.2" font-weight="bold" text-anchor="middle" font-style="italic">Chr</text>
<text x="72.6" y="133.3" font-size="4.2" font-weight="bold" text-anchor="middle">1</text>
<text x="118" y="133.3" font-size="4.2" font-weight="bold" text-anchor="middle">2</text>
<text x="170" y="133.3" font-size="4.2" font-weight="bold" text-anchor="middle">3</text>
<text x="223.5" y="133.3" font-size="4.2" font-weight="bold" text-anchor="middle">4</text>
<text x="270" y="133.3" font-size="4.2" font-weight="bold" text-anchor="middle">5</text>
<text x="320" y="133.3" font-size="4.2" font-weight="bold" text-anchor="middle">6</text>
<text x="362.3" y="133.3" font-size="4.2" font-weight="bold" text-anchor="middle">7</text>
<text x="15.6" y="74.6" font-size="8" font-weight="bold" text-anchor="middle" transform="rotate(-90 15.6 74.6)">2019_RGR</text>
<text x="26" y="66" font-size="7.8" fill="#666" text-anchor="middle" transform="rotate(-90 26 66)">−log<tspan font-size="4.6" dy="1.4">10</tspan><tspan dy="-1.4">(</tspan><tspan font-style="italic">p</tspan>)</text>
<text x="7.9" y="23" font-size="13" font-weight="bold">a</text>
<text x="97" y="39" font-size="8.2" font-weight="bold" text-anchor="middle" fill="#ee1c25" font-style="italic">gLTG1.2</text>
<path d="M92.2 41.5L91.2 43.9" stroke="#ee1c25" stroke-width="1.3" stroke-dasharray="1.2 0.5" fill="none"/>
<path d="M90.2 46.3L89.8 43.3L92.6 44.5Z" fill="#ee1c25"/>
<text x="226.3" y="37.7" font-size="8.2" font-weight="bold" text-anchor="middle" fill="#ee1c25" font-style="italic">gLTG4.1</text>
<path d="M221.5 40.3L220.2 43.6" stroke="#ee1c25" stroke-width="1.3" stroke-dasharray="1.2 0.5" fill="none"/>
<path d="M219.3 46L218.8 43L221.6 44.1Z" fill="#ee1c25"/>
<text x="263.6" y="43.3" font-size="8.2" font-weight="bold" text-anchor="middle" font-style="italic">gLTG5.1</text>
<path d="M267.8 46.3L266.9 48.6" stroke="#000" stroke-width="1.3" stroke-dasharray="1.2 0.5" fill="none"/>
<path d="M266 51L265.5 48L268.3 49.1Z" fill="#000"/>
<text x="282.2" y="31.3" font-size="8.2" font-weight="bold" text-anchor="middle" fill="#ee1c25" font-style="italic">gLTG5.2</text>
<path d="M286 34.3L284.3 38.1" stroke="#ee1c25" stroke-width="1.3" stroke-dasharray="1.2 0.5" fill="none"/>
<path d="M283.2 40.5L282.9 37.5L285.6 38.7Z" fill="#ee1c25"/>
<text x="319.4" y="23.7" font-size="8.2" font-weight="bold" text-anchor="middle" font-style="italic">gLTG6.1</text>
<path d="M323.7 26.5L322.4 29.2" stroke="#000" stroke-width="1.3" stroke-dasharray="1.2 0.5" fill="none"/>
<path d="M321.3 31.5L321.1 28.5L323.8 29.8Z" fill="#000"/>
</g>
<g>
<path d="M425.5 122.7V95.9H426V92.2H426.5V91.7H427V89.5H427.5V90H428V90.1H428.5V88.8H429V92.9H429.5V91.2H430V87.6H430.5V86.4H431V92H431.5V91.5H432V86.3H432.5V86.4H433V87.4H433.5V86.4H434V89H434.5V89.1H435V87.2H435.5V90.3H436V84.5H436.5V85.1H437V87.8H437.5V80.7H438V75.1H438.5V74.9H439V80.5H439.5V85.4H440V82.4H440.5V88H441V83.6H441.5V84.7H442V83.7H442.5V87.4H443V86.6H443.5V84.5H444V88.3H444.5V82.9H445V86H445.5V88H446V89.5H446.5V84.4H447V89.4H447.5V83.6H448V86.7H448.5V89.9H449V84.7H449.5V87.8H450V86.1H450.5V85.1H451V90.3H451.5V85H452V85.9H452.5V87.1H453V85.5H453.5V87.8H454V89.2H454.5V90.4H455V91H455.5V86.9H456V91.5H456.5V92.6H457V88.1H457.5V92.2H458V86.2H458.5V91.4H459V89.3H459.5V89.8H460V87.9H460.5V88.6H461V87.1H461.5V92.3H462V92.7H462.5V90.3H463V87.9H463.5V93.5H464V90.7H464.5V92H465V89.8H465.5V85.6H466V87.1H466.5V89.3H467V89.1H467.5V88.5H468V90.7H468.5V86H469V85.5H469.5V84.4H470V87.3H470.5V84.7H471V84.9H471.5V77.1H472V77.1H472.5V83.2H473V86.2H473.5V87.5H474V85.9H474.5V87.7H475V83.9H475.5V85.8H476V75.3H476.5V75.3H477V85.8H477.5V83.7H478V93.8H478.5V122.7Z" fill="#4292d0"/>
<path d="M425.6 92.7h0M426.2 90.7h0M426.7 89h0M427.3 86.6h0M427.9 88.1h0M428.1 88.3h0M428.6 86.2h0M428.7 84.1h0M428.6 80.4h0M429.4 90.5h0M429.2 88h0M429.7 88.8h0M430.1 84.5h0M430.9 85h0M430.7 83.2h0M430.9 81.4h0M430.9 78h0M430.9 74.4h0M430.9 71.3h0M430.7 67.8h0M430.7 63.7h0M431.4 88.7h0M431.7 88.5h0M431.9 85.8h0M431.7 83h0M432.3 84.3h0M432.3 80.6h0M432.2 78.3h0M432.8 85.1h0M432.8 82.6h0M432.6 78.8h0M432.6 74.8h0M432.8 71.7h0M433.2 86.4h0M433.1 82.7h0M433.1 78.9h0M433.1 75.5h0M433.2 72.7h0M433.8 84h0M433.9 81.6h0M433.9 79.7h0M433.7 75.9h0M433.8 72.2h0M434.2 85.7h0M434.2 83h0M434.2 79.3h0M434.7 87.6h0M435.3 86h0M435.4 83.2h0M435.4 80.8h0M435.4 78.6h0M435.7 88.6h0M436.3 82.6h0M436.1 80.2h0M436.3 76.2h0M436.4 74.1h0M436.1 70.2h0M436 65.1h0M436.9 82.7h0M436.8 79h0M436.7 75.8h0M436.6 73.8h0M436.6 70h0M437.2 84.7h0M437.3 82.1h0M437.4 78.6h0M437.4 76.1h0M437.6 77.7h0M437.8 75h0M437.8 71.4h0M437.7 69.2h0M437.7 67.4h0M438.3 73.3h0M438.1 70.5h0M438.3 66.8h0M438.3 62.7h0M438.2 59.4h0M438.4 56.2h0M438.7 72.9h0M438.6 71.1h0M438.9 68.5h0M438.8 64.9h0M438.7 61.6h0M438.8 59.5h0M438.8 57.7h0M439.3 79.2h0M439.3 76.7h0M439.3 73.2h0M439.1 70.2h0M439.4 67.6h0M439.2 65.3h0M439.6 82h0M439.8 78.3h0M439.6 74.4h0M440.4 81.1h0M440.6 86.9h0M441.3 81.1h0M441.9 82.1h0M442.4 82.5h0M442.9 86.1h0M442.9 84.4h0M442.8 80.8h0M442.9 77.7h0M442.6 74.4h0M443.2 83.3h0M443.1 79.5h0M443.9 83h0M444.2 85.8h0M444.4 82.9h0M444.3 79.9h0M444.8 81.3h0M444.8 77.6h0M444.9 73.5h0M445.4 82.6h0M445.1 80.7h0M445.4 78.1h0M445.1 75.2h0M445.8 85.1h0M445.8 83h0M445.9 79.7h0M446.2 86.6h0M446.2 83h0M446.2 81.1h0M446.8 82.5h0M446.9 80.4h0M446.6 76.4h0M446.9 72.6h0M447.3 86.4h0M447.6 80.3h0M448.3 84.1h0M448.4 80.9h0M448.3 78.2h0M448.2 75h0M448.1 72.5h0M448.2 70.8h0M448.9 86.6h0M449.1 82.2h0M449.6 86.2h0M450.3 82.6h0M450.4 78.5h0M450.3 76.5h0M450.3 72.9h0M450.3 70.4h0M450.9 83.3h0M450.6 81.4h0M451.1 88.5h0M451.2 85.1h0M451.3 82h0M451.3 79.2h0M451.4 76h0M451.8 83.3h0M452.4 82.9h0M452.9 84.3h0M452.7 80.5h0M453.1 84h0M453.9 85.3h0M453.7 81.6h0M453.6 78.7h0M453.7 75.5h0M453.6 71.8h0M454.4 85.8h0M454.4 83.7h0M454.6 88.7h0M455.3 89.9h0M455.3 87.7h0M455.2 86h0M455.1 82.5h0M455.2 79.8h0M455.3 76.9h0M455.1 70.6h0M455.6 85.5h0M456.2 89.2h0M456.4 86.2h0M456.1 84.5h0M456.1 81.1h0M456.3 78.2h0M456.6 90.2h0M456.9 86.6h0M457.4 85h0M457.8 89.1h0M458.4 84.4h0M458.9 90.3h0M459.1 86h0M459.6 88.6h0M459.6 85.5h0M459.7 83.1h0M460.4 86.8h0M460.7 85.2h0M460.7 83.2h0M460.9 79.3h0M460.9 77.3h0M461.3 85.7h0M461.3 83.8h0M461.9 90.1h0M461.8 87h0M462.4 89.8h0M462.9 87.7h0M462.7 83.8h0M463.2 85.2h0M463.8 90.3h0M463.6 88.1h0M463.9 86.3h0M464.3 89.2h0M464.2 86.7h0M464.1 83.3h0M464.3 80.8h0M464.7 90.2h0M464.6 86.5h0M465.1 87.3h0M465.2 84.1h0M465.3 80.4h0M465.8 84.4h0M466.1 84.6h0M466.4 81.8h0M466.9 86.9h0M467.3 86.2h0M467.8 87.3h0M467.7 85.2h0M467.8 79.6h0M468.4 87.2h0M468.6 84.5h0M468.8 81.2h0M469.1 84.2h0M469.2 80.4h0M469.9 82.5h0M470.2 84.6h0M470.8 82h0M470.8 78.2h0M471.2 82.4h0M471.2 78.2h0M471.4 74.6h0M471.3 72h0M471.2 69.7h0M471.3 67h0M471.7 74.9h0M471.8 71h0M471.8 67.7h0M471.7 65h0M471.7 61.6h0M471.5 59.5h0M472.1 75.7h0M472.2 72.9h0M472.2 70.5h0M472.1 67h0M472.2 65.3h0M472.3 61.3h0M472.6 80.1h0M472.9 77.9h0M472.9 75.3h0M472.9 73.4h0M472.7 70.2h0M473.2 84.9h0M473.1 83h0M473.1 80.6h0M473.6 85.9h0M473.7 82.8h0M473.9 81h0M473.6 76.9h0M474.2 84.2h0M474.1 81.4h0M474.4 79.2h0M474.2 75.6h0M474.9 85.9h0M475.4 81h0M475.2 78.9h0M475.1 76.8h0M475.9 83.2h0M475.7 80.7h0M475.6 78h0M475.7 76.3h0M475.6 72.3h0M476.3 73.1h0M476.1 70.2h0M476.1 66.3h0M476.4 62.4h0M476.4 58.5h0M476.7 72.2h0M476.6 69.1h0M476.9 67.3h0M476.7 64.8h0M476.8 60.6h0M476.8 58.5h0M477.3 83.3h0M477.4 79.9h0M477.4 77.8h0M477.1 74.9h0M477.4 72.4h0M477.8 80.9h0M477.9 78.3h0M477.6 75.4h0M477.6 71.6h0M478.3 91.7h0M478.3 88.4h0M478.1 86.6h0M471.5 34.9h0M472 45.4h0M472.5 51h0M438.3 48.2h0M438.6 52.3h0M477.3 39.8h0M459 60.7h0M443.5 57.9h0" stroke="#4292d0" stroke-width="1.6" stroke-linecap="round" fill="none"/>
<path d="M480 122.7V100H480.5V88.3H481V93.2H481.5V93.2H482V88.3H482.5V89.1H483V91.5H483.5V87.3H484V89.9H484.5V87.9H485V89.9H485.5V87.4H486V87.3H486.5V86.8H487V90.3H487.5V84.4H488V87.8H488.5V82.9H489V87.5H489.5V88.7H490V76.8H490.5V73.9H491V73.6H491.5V76.5H492V81.1H492.5V81.6H493V84.2H493.5V83.7H494V83.6H494.5V84.8H495V82.3H495.5V83.5H496V81.1H496.5V72H497V72H497.5V80.4H498V83.4H498.5V81.8H499V83.7H499.5V83.3H500V84.9H500.5V85.7H501V79.2H501.5V82.6H502V79H502.5V74H503V71.2H503.5V71.2H504V74.1H504.5V83.9H505V84.5H505.5V85H506V86.8H506.5V82.1H507V82.9H507.5V84H508V83.8H508.5V88.8H509V84.9H509.5V85.8H510V84.8H510.5V86.6H511V90.7H511.5V88.9H512V90H512.5V88.5H513V87.3H513.5V87.1H514V89.9H514.5V86.9H515V91H515.5V88.1H516V92.1H516.5V90.1H517V86.7H517.5V93.4H518V87.9H518.5V93.2H519V94.4H519.5V122.7Z" fill="#ecb92c"/>
<path d="M480.4 99h0M480.3 96.9h0M480.4 93.1h0M480.1 90h0M480.2 87.6h0M480.6 87.1h0M481.2 90.9h0M481.2 86.9h0M481.6 90.6h0M482.3 86.5h0M482.7 86.2h0M483.1 89.1h0M483.1 87.3h0M483.1 85.1h0M483.6 85.2h0M483.9 81.7h0M483.7 79.6h0M483.8 76.3h0M484.1 86.8h0M484.4 84.2h0M484.1 82.1h0M484.7 85.3h0M484.9 82.5h0M484.7 79.6h0M485.1 88.6h0M485.1 85.9h0M485.1 82.8h0M485.2 79.8h0M485.2 75.7h0M485.8 85.8h0M485.6 82.8h0M485.6 79h0M485.8 76.6h0M485.9 73.8h0M485.8 71.7h0M486.1 86.1h0M486.3 83.9h0M486.4 82.2h0M486.3 80.4h0M486.2 76.7h0M486.1 73h0M486.9 83.9h0M486.6 81.5h0M486.8 79.4h0M486.7 76.5h0M487.2 87.8h0M487.2 84h0M487.4 80.9h0M487.6 82.5h0M488.4 84.9h0M488.2 81.3h0M488.1 77.4h0M488.2 75h0M488.1 71.7h0M488.4 69.9h0M488.2 64.3h0M488.8 80.7h0M489.4 85.1h0M489.1 82.1h0M489.1 80.2h0M489.4 76.1h0M489.2 73.7h0M489.3 69.6h0M489.3 67.1h0M489.3 65h0M489 59.7h0M489.7 87.4h0M489.7 83.5h0M489.7 81.1h0M489.8 77.2h0M489.8 74.3h0M490.4 73.8h0M490.1 70.5h0M490.4 66.8h0M490.1 64.9h0M490.1 62.6h0M490.3 60.6h0M490.8 70.5h0M490.6 67.5h0M490.6 65.1h0M490.8 61.1h0M490.7 59.1h0M490.8 56.3h0M490.7 52.2h0M491.3 70.7h0M491.4 67.2h0M491.2 64.6h0M491.3 61.4h0M491.2 58.2h0M491.3 55.3h0M491.2 52.7h0M491.1 50.8h0M491.8 73.3h0M491.8 69.3h0M491.9 65.2h0M491.6 63.3h0M491.7 59.2h0M492.3 79.3h0M492.1 75.8h0M492.1 72.2h0M492.9 78.4h0M493.2 82.7h0M493.1 79.8h0M493.1 76.7h0M493.1 73.7h0M493.9 80.3h0M494.4 80.2h0M494.3 78.5h0M494.4 75h0M494.2 71h0M494.9 81.9h0M494.9 79.4h0M494.7 77.7h0M494.7 75.3h0M494.6 71.1h0M494.8 67.1h0M494.7 62.9h0M495.3 80.7h0M495.1 78.5h0M495.1 75.1h0M495.1 71.1h0M495.2 67.1h0M495.7 82h0M495.9 77.8h0M495.9 75.2h0M496.2 79.3h0M496.3 77.1h0M496.2 74.8h0M496.2 72.8h0M496.2 69.2h0M496.1 65.1h0M496.3 61.8h0M496.9 70.4h0M496.8 67.8h0M496.9 65.2h0M496.7 62.1h0M496.6 60h0M496.9 57.7h0M497.2 70.7h0M497.2 68.8h0M497.4 66.3h0M497.3 62.1h0M497.3 58.4h0M497.8 78.1h0M497.9 75h0M497.6 72.7h0M497.9 70.3h0M497.9 67.3h0M498.3 81.1h0M498.2 78.3h0M498.7 80.2h0M499.1 80.9h0M499.7 80.9h0M500.1 82.4h0M500.3 78.7h0M500.1 76.4h0M500.9 83.9h0M500.6 81.8h0M500.7 80.1h0M500.9 79.1h0M501.1 75.8h0M501.3 73.8h0M501.3 72h0M501.4 68.2h0M501.3 66.2h0M501.8 81.3h0M501.6 79.4h0M501.7 75.6h0M501.8 72.9h0M501.6 70h0M502.3 76.3h0M502.3 73.3h0M502.3 70.9h0M502.8 72.7h0M502.6 69.5h0M502.6 66.9h0M502.8 63.9h0M502.7 61.5h0M503.2 69.3h0M503.4 67.1h0M503.1 63.2h0M503.2 60.4h0M503.3 58.1h0M503.2 54.3h0M503.3 50.2h0M503.6 69.7h0M503.9 67.1h0M503.7 64.9h0M503.6 61.7h0M503.9 59.1h0M503.8 55.4h0M503.6 52.2h0M503.7 49.9h0M503.8 45.1h0M504.1 71h0M504.1 68.6h0M504.4 66.2h0M504.4 63.3h0M504.2 60.5h0M504.1 57.2h0M504.6 81.3h0M504.7 78.4h0M504.6 75.7h0M504.6 72h0M505.1 82.3h0M505.6 84h0M506.3 84.7h0M506.4 81.6h0M506.3 77.5h0M506.3 74h0M506.2 70.3h0M506.2 67h0M506.8 78.6h0M506.7 76.4h0M506.7 74.5h0M506.6 70.8h0M507.1 80.8h0M507.6 80.8h0M508.2 80.3h0M508.1 77.1h0M508.4 73.8h0M508.2 70.2h0M508.1 66.2h0M508.9 85.6h0M508.6 82.6h0M508.6 79.6h0M509.1 83.2h0M509.4 79.2h0M509.2 76.6h0M509.6 84.9h0M509.9 81.1h0M509.8 78h0M509.7 75.2h0M510.2 82.7h0M510.4 79.1h0M510.3 75h0M510.1 71.8h0M510.3 72h0M510.6 83.9h0M510.8 81.4h0M510.8 78.9h0M510.8 75.6h0M510.9 73.1h0M510.8 70.8h0M511.1 88.7h0M511.1 85.5h0M511.1 82.5h0M511.4 79.1h0M511.6 86.6h0M512.1 87h0M512.6 86.1h0M512.9 84h0M512.9 81.7h0M513.2 84.6h0M513.9 85.8h0M514.1 86.5h0M514.9 84.5h0M515.1 88.9h0M515.3 85.1h0M515.7 86h0M516.3 89.4h0M516.7 87.4h0M517.2 85.1h0M517.7 90.8h0M517.6 87.3h0M517.6 85.5h0M518.4 85.1h0M518.3 81h0M518.4 77.6h0M518.2 74.3h0M518.9 92.1h0M519.3 92.4h0M491 43.3h0M503.5 38.4h0M496.5 48.2h0M487 59.3h0" stroke="#ecb92c" stroke-width="1.6" stroke-linecap="round" fill="none"/>
<path d="M521.6 122.7V104.4H522.1V92.7H522.6V91.4H523.1V95.6H523.6V94H524.1V89.4H524.6V91.6H525.1V90.9H525.6V89.1H526.1V90.6H526.6V91.8H527.1V86.4H527.6V91.2H528.1V86.2H528.6V85.3H529.1V85.5H529.6V84.5H530.1V87.9H530.6V87.9H531.1V86.1H531.6V86.3H532.1V86.9H532.6V82.2H533.1V87.7H533.6V84.1H534.1V84.5H534.6V81.4H535.1V86.8H535.6V85.3H536.1V79.6H536.6V85.7H537.1V85.2H537.6V83.6H538.1V78.7H538.6V82.9H539.1V82.4H539.6V79.3H540.1V80.5H540.6V84.1H541.1V80.1H541.6V82.6H542.1V81.1H542.6V77.4H543.1V78.1H543.6V81.4H544.1V81.1H544.6V77.5H545.1V80.2H545.6V68.8H546.1V68.7H546.6V68.5H547.1V68.4H547.6V68.5H548.1V73H548.6V82.3H549.1V76.7H549.6V83.1H550.1V83.3H550.6V79.1H551.1V81.1H551.6V77.6H552.1V78.9H552.6V81.4H553.1V84H553.6V80.6H554.1V82.7H554.6V83.1H555.1V85H555.6V79H556.1V82.2H556.6V82.4H557.1V82.6H557.6V82.8H558.1V77.7H558.6V73.2H559.1V71.8H559.6V72H560.1V75H560.6V80H561.1V85.6H561.6V85.3H562.1V86H562.6V87.3H563.1V83.8H563.6V81.4H564.1V86.1H564.6V84.6H565.1V81.7H565.6V82.1H566.1V87.4H566.6V88H567.1V84.4H567.6V83.1H568.1V88.3H568.6V83.2H569.1V88H569.6V88.9H570.1V86.9H570.6V90.3H571.1V89.2H571.6V90.6H572.1V90.6H572.6V89.1H573.1V92.8H573.6V89.1H574.1V92.4H574.6V93.8H575.1V89.8H575.6V91H576.1V88.3H576.6V89.2H577.1V93.4H577.6V89.2H578.1V90.3H578.6V84.1H579.1V86.3H579.6V92.4H580.1V93.6H580.6V89.6H581.1V93.6H581.6V92H582.1V90.2H582.6V91.5H583.1V88.7H583.6V92.2H584.1V89.4H584.6V93.4H585.1V90.5H585.6V122.7Z" fill="#38308a"/>
<path d="M521.7 103h0M522.3 90.2h0M523 90.4h0M522.9 88.2h0M522.8 86.1h0M522.9 82.5h0M523.3 92.4h0M523.9 92.2h0M524.4 87.7h0M525 89.6h0M525.3 89.8h0M526 85.9h0M525.8 83.5h0M525.8 81h0M526.3 89.3h0M527 89.4h0M526.8 87.2h0M527.2 83.1h0M527.9 89.2h0M527.7 85.1h0M528.2 85h0M528.2 81.6h0M528.3 78.3h0M528.3 75h0M528.2 71.8h0M528.9 84.1h0M529 81.9h0M528.7 79.9h0M528.9 76h0M528.7 72.8h0M529.2 83.1h0M529.3 80.1h0M529.4 76.4h0M529.5 72.6h0M529.2 69.7h0M529.3 65.6h0M529.9 81.5h0M530.3 84.8h0M530.5 82.7h0M530.9 86.5h0M530.7 84.6h0M530.7 81.1h0M530.7 77.6h0M530.7 75.1h0M531.2 83h0M531.2 79.8h0M531.5 77.3h0M531.2 75h0M531.2 70.9h0M532 85h0M531.7 81.6h0M531.8 79.5h0M532 75.8h0M532 73.7h0M531.7 70.5h0M532.2 85.7h0M532.4 82.7h0M532.4 80.4h0M532.3 76.5h0M532.2 74.6h0M532.4 72.7h0M532.2 68.9h0M532.7 80.8h0M532.8 77h0M532.7 75.2h0M532.9 71.8h0M533 69.7h0M532.7 67.2h0M532.9 64.9h0M533 61.3h0M532.9 59.5h0M533.5 86.5h0M533.3 84.7h0M533.2 82h0M533.2 77.9h0M533.3 76.1h0M534 81.9h0M534.3 82.2h0M534.5 78.6h0M534.2 75.2h0M534.2 73.2h0M534.2 71.4h0M534.3 67.3h0M534.3 63.8h0M534.5 61.6h0M534.9 79.3h0M534.7 76.1h0M534.7 72.3h0M535.5 84.6h0M535.3 80.9h0M535.4 78.4h0M535.3 76.1h0M535.9 82.1h0M536.5 77h0M536.2 74.2h0M536.4 70.1h0M536.8 82.5h0M536.9 80.6h0M536.9 76.8h0M536.8 73.3h0M537.4 82.1h0M537.4 79.1h0M537.2 75.4h0M537.2 73.2h0M537.3 69.1h0M537.8 80.7h0M538.5 75.4h0M538.8 81.7h0M538.8 79h0M539 76h0M538.8 72.7h0M539 69.8h0M539.2 80.5h0M539.2 78.5h0M539.5 75h0M539.2 71.9h0M539.2 69.3h0M539.4 67.4h0M539.8 76.5h0M540 73.9h0M539.9 72.2h0M539.8 69.8h0M539.7 67.5h0M539.8 63.4h0M540.5 78.1h0M540.3 74.2h0M540.2 71.1h0M540.5 69h0M540.4 66.7h0M540.8 80.8h0M540.9 76.9h0M540.8 72.9h0M540.7 71.2h0M540.7 69.3h0M540.8 66h0M541.4 78.9h0M541.2 77h0M541.4 73.4h0M542 79.1h0M541.7 75.2h0M541.8 72.6h0M542.2 79.4h0M542.3 77.6h0M542.8 75.8h0M543.3 75.1h0M543.2 72.1h0M543.2 68.6h0M543.3 64.5h0M543.5 61.3h0M543.5 57.3h0M544 79.6h0M544 76.4h0M543.8 74.4h0M543.8 71.4h0M543.8 68.4h0M543.8 65.8h0M544.4 79h0M544.7 74.5h0M544.7 69.9h0M545.4 78.1h0M545.4 74.8h0M545.3 71.2h0M545.3 69.1h0M545.3 65.4h0M545.9 66h0M545.7 63.3h0M545.9 59.5h0M545.7 55.4h0M546.4 65.6h0M546.5 63.2h0M546.4 61h0M546.4 57.8h0M546.2 53.9h0M546.5 50.1h0M546.5 46.4h0M546.5 43.2h0M546.7 66.5h0M546.9 64.8h0M546.7 63h0M546.7 58.9h0M546.9 56.4h0M547 54.6h0M546.7 51.7h0M546.8 49.8h0M546.9 46.5h0M546.7 44.1h0M546.7 40.6h0M546.8 37.8h0M547 34.7h0M547 31h0M547.5 66.4h0M547.5 63.5h0M547.4 60.6h0M547.2 58.4h0M547.4 55.4h0M547.5 52.4h0M547.3 48.6h0M547.3 46.7h0M547.5 44.7h0M547.4 42.3h0M547.3 38.8h0M547.7 65.8h0M547.8 63.5h0M548 59.5h0M547.7 55.9h0M547.8 52.8h0M547.9 50.9h0M547.8 47.1h0M547.8 44h0M548.3 71.3h0M548.2 67.1h0M548.2 64.2h0M548.5 60.2h0M548.3 57.2h0M548.9 80.4h0M549 78.2h0M548.7 75h0M548.7 72.4h0M548.8 69.5h0M549.4 74.8h0M549.8 81.4h0M549.9 78.1h0M549.7 74.1h0M550 71.6h0M550.3 81.9h0M550.2 79h0M550.8 75.7h0M551 75.1h0M551.2 78.3h0M551.9 74.5h0M552.2 77.9h0M552.2 75.2h0M552.9 80h0M552.8 77h0M553 73.4h0M552.7 69.6h0M552.8 67h0M552.9 63.1h0M552.9 60.5h0M552.7 56.4h0M553.3 80.9h0M554 79.2h0M553.9 75.3h0M553.7 73.4h0M553.7 71.2h0M553.7 67.6h0M553.7 64.9h0M553.8 61.1h0M553.9 59.3h0M553.8 55.9h0M554.3 79.7h0M554.9 82h0M555 78.3h0M554.8 74.1h0M554.7 70.9h0M555.5 82.9h0M555.7 75.7h0M556.5 79.1h0M556.7 80.6h0M556.9 77.3h0M557.4 80.2h0M557.2 78.5h0M557.5 75.9h0M557.5 74.2h0M557.3 71h0M557.5 67.4h0M557.2 63.8h0M557.3 60h0M557.3 56.2h0M557.7 79.8h0M557.7 76.7h0M557.8 73.2h0M557.7 69.8h0M557.9 67.1h0M557.8 65h0M558.4 75.5h0M558.5 73.8h0M558.4 72h0M558.3 69.3h0M558.2 67.4h0M558.2 63.7h0M558.8 71.4h0M558.7 69.6h0M558.8 66.5h0M558.8 64.8h0M558.8 62.5h0M558.8 59.4h0M559 55.6h0M559.2 69.8h0M559.5 67.1h0M559.3 62.9h0M559.2 60.1h0M559.5 57.2h0M559.5 54.9h0M559.4 50.7h0M559.8 69.4h0M560 67.1h0M559.9 65.1h0M559.7 63h0M560 59.1h0M559.8 55.9h0M560.2 73.3h0M560.4 70h0M560.2 65.9h0M560.5 62.1h0M560.4 58.2h0M560.9 76.7h0M560.8 73.9h0M560.8 70.8h0M561 68.1h0M560.8 64.7h0M561.5 83.7h0M561.2 81.5h0M561.5 77.3h0M561.4 75h0M561.4 71.1h0M561.9 83.4h0M561.7 80.9h0M562 79h0M561.9 76.3h0M562.3 83.7h0M562.3 80.8h0M562.2 77h0M562.2 74.6h0M562.3 70.7h0M562.8 86h0M563.4 80.5h0M563.9 80.2h0M563.7 76.6h0M563.9 73.6h0M564.2 83.2h0M564.7 82.8h0M564.8 80.6h0M564.9 76.8h0M564.8 74.6h0M564.7 72.5h0M565 69.4h0M565.2 80h0M566 80.4h0M565.7 78.1h0M566.3 84h0M566.9 86.7h0M566.7 83.1h0M566.8 79.6h0M566.8 76.9h0M567 74.7h0M566.9 71.5h0M567.2 83.3h0M567.4 80h0M567.5 77.4h0M567.3 75.6h0M568 80.4h0M567.8 78.5h0M568 75.8h0M568 71.7h0M568.5 87.2h0M568.4 84.8h0M568.2 80.8h0M568.4 77.3h0M568.5 73.9h0M568.4 70.2h0M568.8 80h0M568.7 77.9h0M569 74.1h0M569.2 85.7h0M569.2 82.3h0M570 87.9h0M570.3 84.7h0M571 88.9h0M571 85.6h0M570.9 82h0M570.9 78.7h0M570.7 75.4h0M571.3 87.3h0M571.9 89h0M572.4 87.7h0M572.2 84.1h0M572.2 82.4h0M572.7 87.9h0M573.2 89.7h0M573.7 87.1h0M574.2 90.9h0M574.8 90.4h0M575.3 87.2h0M576 90h0M576.3 87h0M576.3 84.2h0M576.2 81.4h0M576.5 77.6h0M576.9 86h0M576.7 84.3h0M577 82.3h0M576.8 79.6h0M577.3 90.2h0M577.3 86.3h0M577.5 83.9h0M577.5 81.7h0M577.9 88.2h0M577.7 86.4h0M578 84.2h0M577.9 82.3h0M577.9 78.9h0M577.8 76h0M577.8 72.8h0M577.7 68.7h0M578.2 86.9h0M578.4 84.9h0M578.5 82.4h0M578.4 79h0M578.2 74.9h0M578.5 69.5h0M579 81.9h0M578.8 80.2h0M578.8 76.6h0M578.7 72.6h0M578.9 68.7h0M579.2 83h0M579.2 79.7h0M579.5 77.2h0M579.4 73.7h0M579.5 71.7h0M579.4 68.1h0M580 90.3h0M579.9 87.6h0M579.7 83.4h0M579.7 80.8h0M579.7 76.8h0M580.3 91.3h0M580.2 89.2h0M580.4 86.1h0M580.3 83.5h0M580.2 80.9h0M580.4 77.7h0M580.7 88.2h0M581.5 92.6h0M581.4 89h0M581.4 86.8h0M581.7 89.4h0M582 87h0M581.8 83.6h0M582 79.7h0M581.9 77.7h0M582.5 88.6h0M582.4 86h0M582.3 83.7h0M582.3 80.5h0M582.5 77.3h0M582.3 75.3h0M582.4 73h0M582.5 70.7h0M582.8 89h0M583.5 86.3h0M583.5 83.1h0M583.8 88.9h0M583.8 86.1h0M584.5 87.6h0M584.7 90.8h0M584.7 90.7h0M585.4 87.1h0M547 32.2h0M541.5 48.9h0M558 51h0M560.5 52.3h0M538 55.1h0" stroke="#38308a" stroke-width="1.6" stroke-linecap="round" fill="none"/>
<path d="M588 122.7V94.6H588.5V87.8H589V85.7H589.5V89.5H590V85.7H590.5V89.5H591V85.2H591.5V88.6H592V88.2H592.5V87.5H593V82.6H593.5V82.9H594V82.9H594.5V82.2H595V82.1H595.5V83.4H596V83.6H596.5V81.4H597V81H597.5V80.4H598V77.9H598.5V81.9H599V77H599.5V74.5H600V78H600.5V73.8H601V77.7H601.5V79.4H602V73.2H602.5V67.2H603V67.1H603.5V67.4H604V67.8H604.5V73.9H605V80.4H605.5V82.3H606V77.4H606.5V81.7H607V80H607.5V84.4H608V80.4H608.5V76.1H609V76.1H609.5V80.7H610V80.8H610.5V85.9H611V83.6H611.5V79.9H612V80.9H612.5V83.6H613V84.6H613.5V82.9H614V82.9H614.5V86H615V82.5H615.5V84.2H616V87.4H616.5V82.4H617V83.7H617.5V86.9H618V86H618.5V87.8H619V84.4H619.5V84.3H620V81.9H620.5V87.2H621V83.8H621.5V81H622V83H622.5V84.7H623V80.5H623.5V80H624V79.7H624.5V80.7H625V85.9H625.5V79.7H626V85.8H626.5V80.5H627V72.7H627.5V73.2H628V81.2H628.5V88.4H629V83.9H629.5V89H630V87.1H630.5V97.7H631V122.7Z" fill="#4a5a2a"/>
<path d="M588.2 93.1h0M588.8 86.7h0M588.8 84.7h0M588.8 81.9h0M588.6 80h0M588.7 78h0M588.7 75.7h0M589.4 83.5h0M589.4 80.1h0M589.4 77.5h0M589.3 75.6h0M589.9 87.4h0M589.7 84.1h0M589.7 80.2h0M589.9 76.8h0M590.1 83.6h0M590.3 80.9h0M590.2 78.9h0M590.3 75.6h0M590.9 86.2h0M590.7 82.5h0M590.6 80.7h0M590.8 76.9h0M590.8 73.5h0M591.2 84h0M591.1 81.1h0M591.4 77.3h0M591.8 85.8h0M592.1 85.4h0M592.4 79.3h0M592.7 84h0M593.3 80.8h0M593.4 77.5h0M593.6 80.7h0M593.7 78.8h0M593.6 75.5h0M594.1 79.9h0M594.7 79.4h0M594.8 75.5h0M595.1 79.6h0M595.9 81.7h0M595.8 78.7h0M595.6 75.4h0M595.8 72h0M596.4 81.6h0M596.2 79.8h0M596.1 76.6h0M596.4 73.8h0M596.2 70.8h0M596.2 68.4h0M596.6 78.4h0M596.7 76.6h0M596.6 73.8h0M596.7 70.9h0M597.1 78.8h0M597.1 74.7h0M597.4 70.6h0M597.2 67.7h0M597.2 64.9h0M597.9 77.2h0M597.8 74.8h0M597.6 72.2h0M597.6 68.5h0M597.9 66.1h0M597.7 62h0M598.4 75h0M598.4 71.8h0M598.2 69.6h0M598.8 79.5h0M598.9 75.8h0M598.6 73.9h0M598.6 69.9h0M598.8 67.4h0M599.3 75.6h0M599.4 73.4h0M599.4 70.2h0M599.8 71.2h0M600.1 76.5h0M600.9 72.5h0M601.1 74.6h0M601.2 70.5h0M601.6 76.7h0M601.8 72.9h0M601.9 69.3h0M601.8 67.1h0M601.9 64.1h0M602.3 69.8h0M602.1 67.7h0M602.1 64.2h0M602.1 61.8h0M602.4 58h0M602.1 55.6h0M602.8 65.9h0M602.9 63h0M602.9 60.1h0M602.6 56.2h0M602.8 54.1h0M602.9 50h0M603.1 64.3h0M603.3 61.2h0M603.2 58.8h0M603.4 57h0M603.4 53h0M603.2 50.8h0M603.3 48h0M603.1 44.2h0M603.6 66.1h0M603.9 63.2h0M603.7 60.4h0M603.9 58.2h0M603.8 55.9h0M603.7 53.1h0M603.9 49.7h0M603.7 47.5h0M603.9 43.5h0M604.4 64.9h0M604.3 62.8h0M604.2 60.7h0M604.3 58.3h0M604.4 56.2h0M604.2 53.4h0M604.3 50.6h0M604.9 71.2h0M604.7 68.6h0M604.7 65.7h0M604.6 63h0M604.7 60.6h0M604.6 56.9h0M605.2 77.2h0M605.1 75.1h0M605.1 71.3h0M605.2 67.4h0M605.1 63.3h0M605.7 79.5h0M605.8 76.1h0M605.6 73.4h0M606.4 75.5h0M606.9 79.4h0M607.2 78.6h0M607.4 74.5h0M607.9 82.5h0M607.9 80.2h0M607.6 76.8h0M607.9 74.6h0M607.6 70.7h0M607.9 68.5h0M608.4 78.1h0M608.4 76.2h0M608.2 73.3h0M608.4 69.3h0M608.3 65.7h0M608.3 61.7h0M608.8 73.9h0M608.7 71.2h0M608.6 68.4h0M608.8 64.5h0M608.6 60.5h0M609.2 73.5h0M609.2 71.7h0M609.1 68.5h0M609.1 66.3h0M609.2 63.9h0M609.2 61.6h0M609.9 78.1h0M609.9 74.6h0M609.9 71.4h0M609.8 69.3h0M609.7 65.3h0M610.2 78.1h0M610.4 73.9h0M610.6 83.9h0M610.8 82.1h0M610.7 79.6h0M611.1 81.7h0M611.7 78.7h0M612.3 78.9h0M612.3 75.4h0M612.2 72.6h0M612.4 70.5h0M612.1 66.6h0M612.4 63h0M612.7 81.9h0M613.3 81.9h0M613.6 79.7h0M614.2 80h0M614.3 76.7h0M614.1 73.2h0M614.9 84h0M614.6 80h0M614.7 77.1h0M614.7 74h0M615.3 79.3h0M615.3 75.5h0M615.1 73.2h0M615.3 69.9h0M615.3 66.1h0M615.4 63h0M615.7 81.9h0M615.7 77.9h0M616.4 84.6h0M616.6 79h0M617.4 80.8h0M617.9 84.3h0M618.2 83h0M618.1 79h0M618.9 86.7h0M618.7 84.2h0M618.9 80.7h0M618.6 77h0M619.1 82.7h0M619.4 79.9h0M619.8 83.1h0M619.6 79.2h0M619.7 76.2h0M620.3 80.4h0M620.2 77.7h0M620.4 74.9h0M620.3 71.3h0M620.2 69.4h0M620.2 67.7h0M620.1 64.4h0M620.8 85.7h0M620.7 83h0M620.6 80h0M620.7 78.1h0M620.6 75.2h0M621.1 80.9h0M621.8 79.5h0M621.9 75.9h0M621.7 72.4h0M621.8 69.2h0M622.4 81.3h0M622.8 83.4h0M622.7 79.7h0M622.9 77.7h0M622.6 74.3h0M623.1 78.2h0M623.1 74.1h0M623.6 76.9h0M623.9 73.9h0M623.7 71.6h0M623.7 68.4h0M624.2 76.4h0M624.9 77.6h0M624.7 74.2h0M624.7 70.3h0M624.6 66.6h0M624.8 63.3h0M624.7 61.4h0M625.2 82.5h0M625.3 80.2h0M625.3 76.9h0M625.3 73.9h0M625.3 69.9h0M625.3 66.2h0M625.4 63.5h0M625.6 77.5h0M625.9 74.7h0M625.7 72.5h0M625.9 70.4h0M625.7 67.3h0M626.1 83.8h0M626.3 81.7h0M626.2 78.4h0M626.2 75h0M626.9 79.4h0M626.6 77.2h0M626.8 75.2h0M626.7 72.4h0M626.8 70.6h0M626.8 66.8h0M627.4 70.2h0M627.2 66.7h0M627.1 63.2h0M627.2 60h0M627.3 57.6h0M627.1 53.4h0M627.8 70.3h0M627.6 67.2h0M627.8 64.3h0M627.6 60.3h0M627.7 58.1h0M627.7 54h0M628.2 79.2h0M628.2 76.4h0M628.3 73.6h0M628.3 71.9h0M628.2 70.2h0M628.2 67.6h0M628.3 64.4h0M628.8 86.2h0M628.7 82.1h0M628.9 79.8h0M628.9 77.8h0M629.3 82.1h0M629.2 78.9h0M629.1 75.2h0M629.8 87.6h0M629.9 83.8h0M629.8 81.7h0M630.1 85.1h0M630.4 82.8h0M630.2 78.9h0M630.7 94.8h0M630.6 91.7h0M590.5 49.6h0M590.5 46.1h0M590.5 42.6h0M590.5 39.1h0M590.5 64.9h0M603.5 41.9h0M606 48.2h0M627.5 48.9h0M618 60.7h0M611 62.1h0" stroke="#4a5a2a" stroke-width="1.6" stroke-linecap="round" fill="none"/>
<path d="M632.8 122.7V103.9H633.3V93.5H633.8V98.6H634.3V95.5H634.8V96.3H635.3V97.6H635.8V93.3H636.3V91.6H636.8V94.1H637.3V92.2H637.8V94.9H638.3V89.7H638.8V88.3H639.3V88.6H639.8V93.5H640.3V90.7H640.8V92.3H641.3V90.5H641.8V87.3H642.3V87.8H642.8V91.2H643.3V86.3H643.8V90H644.3V86.4H644.8V84.1H645.3V83.7H645.8V83.9H646.3V86.2H646.8V85.2H647.3V87.4H647.8V85.1H648.3V85.1H648.8V82.3H649.3V84.3H649.8V81.2H650.3V81.6H650.8V82.7H651.3V79.9H651.8V84.1H652.3V80.3H652.8V78.9H653.3V78.2H653.8V82.9H654.3V81.1H654.8V81.3H655.3V81.5H655.8V75.9H656.3V78H656.8V80.4H657.3V78H657.8V79.5H658.3V75.6H658.8V78.5H659.3V78.6H659.8V77.5H660.3V75.5H660.8V78.5H661.3V73.4H661.8V73.9H662.3V74.2H662.8V79.9H663.3V75.6H663.8V76.4H664.3V74.8H664.8V77.6H665.3V76.1H665.8V76.8H666.3V78.8H666.8V80.6H667.3V76.7H667.8V79.2H668.3V81.1H668.8V76.9H669.3V80.5H669.8V75.3H670.3V69.7H670.8V68.3H671.3V70.8H671.8V77H672.3V78.5H672.8V82.8H673.3V85H673.8V85.7H674.3V80.7H674.8V83.1H675.3V80.9H675.8V84.8H676.3V83.7H676.8V88.5H677.3V84.6H677.8V89.2H678.3V88.8H678.8V89.9H679.3V88.2H679.8V84.6H680.3V89.1H680.8V91.5H681.3V89.2H681.8V88.8H682.3V90.2H682.8V95H683.3V98.9H683.8V122.7Z" fill="#c8126c"/>
<path d="M632.9 101.9h0M632.9 98.8h0M633.6 90.2h0M634.2 95.6h0M634.4 93.7h0M634.9 93h0M635.5 94.4h0M636 90.2h0M636.4 89h0M636.9 93.1h0M637.7 90.3h0M638 93.5h0M638.5 88.4h0M638.6 86h0M638.6 82h0M639 86.6h0M639.7 86.5h0M639.5 82.9h0M639.5 80.7h0M639.7 77.9h0M639.6 74.6h0M640.1 91.9h0M640.1 88.7h0M640.3 86.3h0M640.6 88.1h0M640.7 87.7h0M640.9 90.9h0M641.7 89.4h0M642.1 84.4h0M642 82.3h0M641.9 79.1h0M641.9 77.3h0M642 74.3h0M642.1 72.5h0M642.1 68.8h0M642.4 84.8h0M643 88.5h0M643.2 85.2h0M643 82.6h0M642.8 82.6h0M643.6 84.6h0M644.1 87.2h0M644.6 83.8h0M645 81.9h0M645.2 80h0M645 76.9h0M645 74.9h0M644.9 71.5h0M645.2 69.8h0M645.4 82.6h0M645.6 78.9h0M645.5 75.8h0M645.4 73.1h0M646 81.2h0M646.7 83.9h0M646.7 81.9h0M646.5 78.4h0M646.7 74.5h0M646.6 70.5h0M646.4 67.8h0M646.5 65.3h0M647.2 83.8h0M647.1 80.8h0M647.1 78.5h0M647 74.7h0M647 71.5h0M647.1 68h0M646.9 65.6h0M647.6 84h0M647.7 81.8h0M647.4 79.2h0M647.5 75.1h0M647.4 71.1h0M647.5 67.3h0M648.1 83.3h0M648 80h0M648.5 82.1h0M648.5 79.4h0M648.7 77.4h0M648.6 73.7h0M649 80.1h0M649.1 77.6h0M649.5 83.3h0M649.7 80h0M649.6 77.6h0M650.1 77.9h0M650.7 79h0M651.1 80h0M651.2 76.4h0M651.2 73.2h0M651.1 70.2h0M651.6 77.2h0M652 82.6h0M652.4 78.8h0M652.5 76.6h0M652.5 73.5h0M652.7 70.8h0M652.4 68.2h0M653.1 76.7h0M653 74.7h0M653.7 76.4h0M653.7 73.7h0M653.9 81.5h0M654 78.7h0M653.9 76.9h0M654.1 75.2h0M654.2 72.7h0M654 68.9h0M653.8 63.5h0M654.7 78.8h0M654.5 75.1h0M654.5 72.6h0M654.5 68.6h0M655.2 78h0M655.2 74.8h0M654.9 72h0M655 68.3h0M655.7 78.3h0M655.5 76.5h0M655.4 72.5h0M655.5 68.4h0M655.6 66.6h0M656.1 74.7h0M656 71.4h0M656.2 68.5h0M655.9 64.5h0M656 60.9h0M655.9 57.1h0M656.4 76.2h0M656.7 73.1h0M656.6 69.9h0M657.1 77.6h0M656.9 70.4h0M657.6 77h0M658.2 77.4h0M658.2 74.9h0M658.2 70.8h0M658.5 74.4h0M659 76.3h0M659.2 73.1h0M659.1 71.1h0M659.2 69.2h0M659.4 77h0M659.5 74.7h0M659.6 71.9h0M659.7 69.7h0M660.1 75.6h0M660.2 72.5h0M660.1 70.8h0M660.4 72.3h0M660.4 68.7h0M660.5 65.6h0M660.6 61.4h0M660.6 59.3h0M660.5 55.7h0M660.5 54h0M661.1 76h0M660.9 72h0M660.9 70.2h0M661.1 67.7h0M661.2 64.3h0M661.4 70.3h0M661.7 68.6h0M661.6 65.1h0M661.5 62.9h0M661.9 72.4h0M661.9 68.4h0M661.9 66.7h0M662.1 63.8h0M661.9 61.8h0M662.7 72.1h0M662.7 68.9h0M662.5 67.2h0M662.7 65h0M662.4 63.2h0M662.7 60.6h0M663.2 77.8h0M663.2 75.6h0M663 72.2h0M662.9 69h0M663.2 65.8h0M662.9 61.7h0M663.2 59.5h0M663.4 73.6h0M663.5 71.9h0M663.7 67.8h0M664.1 73.9h0M664.1 69.8h0M664 66.6h0M664.7 73h0M664.7 69.4h0M664.6 66.2h0M664.5 63.1h0M664.7 60.9h0M664.4 58.9h0M664.7 55.7h0M664.7 53.2h0M664.9 75.9h0M664.9 72.4h0M664.9 70.1h0M665.2 66.1h0M665.1 63.5h0M664.9 60.2h0M665 58.5h0M665.4 74.9h0M665.6 71.4h0M666 75.2h0M666.4 77.4h0M667.1 79.1h0M667 76.4h0M667.1 72.2h0M667 69h0M667 66.1h0M667.2 63.4h0M667.2 61.1h0M667.1 57.5h0M667.2 56.3h0M667.6 75h0M667.9 76.2h0M668.5 78.9h0M669.2 75.1h0M669.2 73.2h0M669 69.5h0M669.4 78.6h0M669.6 75.7h0M669.6 72.9h0M669.5 69.7h0M669.4 67.5h0M669.5 65.6h0M669.9 73.1h0M670 69h0M670.1 65.1h0M670.1 62.6h0M670 59.2h0M669.8 56.9h0M670.7 67.1h0M670.6 63.5h0M670.4 60.8h0M670.5 58.3h0M670.4 56.1h0M670.7 53.6h0M671 66.2h0M670.9 63.7h0M671 60.6h0M671.1 58.4h0M670.9 56.3h0M671.1 52.9h0M671.1 49.7h0M671.6 69.1h0M671.7 65.2h0M671.6 63.1h0M671.5 60.2h0M671.7 56.2h0M672.1 75.2h0M671.9 73.4h0M672.1 69.4h0M672.2 67.5h0M671.9 64.9h0M671.9 62.8h0M672.2 60.2h0M672.5 75.2h0M672.7 72h0M672.7 70.3h0M672.9 81.6h0M673.1 78.6h0M673.1 74.7h0M673.7 82.6h0M674.1 82.9h0M674.4 77.9h0M674.7 74.4h0M674.4 70.3h0M674.4 66.1h0M674.5 62.7h0M674.5 59.8h0M675 82h0M675.7 79.5h0M676.2 81.4h0M676.7 80.4h0M677.2 87.1h0M677.1 84.6h0M677 82.3h0M677.2 80.3h0M677.4 83h0M677.5 78.9h0M677.3 74.3h0M677.9 86.2h0M678.6 86.9h0M678.6 84h0M679.1 87.2h0M679.2 85.1h0M678.9 81.6h0M679 79.8h0M679.7 85.2h0M679.5 82.3h0M679.4 79.7h0M679.6 77.9h0M679.6 74.6h0M679.7 70.4h0M680.1 82.5h0M680.1 78.4h0M679.9 74.9h0M680 70.7h0M680 66.9h0M680.7 85.9h0M680.7 84.1h0M680.5 81h0M680.7 77.1h0M680.5 75.4h0M681.1 88.9h0M681 85h0M680.9 81.1h0M681.7 87.5h0M681.4 84.1h0M681.6 81.3h0M681.5 79.4h0M682 85.4h0M682.7 88.9h0M683.2 93.7h0M683.6 97.6h0M660 46.1h0M663 46.8h0M666.5 50.3h0M661 56.5h0M641.5 59.3h0M682.5 52.3h0M654 57.9h0" stroke="#c8126c" stroke-width="1.6" stroke-linecap="round" fill="none"/>
<path d="M686 122.7V96.1H686.5V92.2H687V86.8H687.5V86.8H688V85.6H688.5V88.6H689V87.1H689.5V86.9H690V88.8H690.5V86.2H691V81.4H691.5V79.2H692V73.6H692.5V73.5H693V78.7H693.5V80.1H694V82.1H694.5V85.3H695V82.4H695.5V81.2H696V79.8H696.5V81.3H697V81.4H697.5V81.1H698V83.3H698.5V81.5H699V84.1H699.5V82.4H700V81.8H700.5V84H701V86.7H701.5V84.3H702V83.1H702.5V85H703V84.8H703.5V88.2H704V86.6H704.5V88.4H705V81.9H705.5V86.6H706V82.3H706.5V86.2H707V83.8H707.5V84.4H708V83.7H708.5V82.9H709V88.5H709.5V82.7H710V88.2H710.5V87.9H711V85.9H711.5V84.2H712V86.4H712.5V85.8H713V81.7H713.5V75.8H714V75.8H714.5V83.7H715V87.3H715.5V85.3H716V84.2H716.5V88.5H717V87.1H717.5V86.3H718V84.8H718.5V86.6H719V85.4H719.5V85.1H720V86.5H720.5V85.9H721V86.2H721.5V84.2H722V84.2H722.5V88H723V85.4H723.5V88.7H724V85.6H724.5V85.6H725V90.8H725.5V87.5H726V87.5H726.5V85.6H727V90.1H727.5V85.2H728V85.5H728.5V82.4H729V82.5H729.5V86.6H730V89.7H730.5V93.5H731V88.5H731.5V89.8H732V90.1H732.5V92.9H733V91.4H733.5V94.6H734V102.5H734.5V122.7Z" fill="#e0661c"/>
<path d="M686.1 93.6h0M686.7 89.4h0M687.4 83.5h0M687.6 85.4h0M688.1 83.9h0M688.7 85.4h0M689.4 86h0M689.7 85.5h0M690.4 87.8h0M690.2 84.8h0M690.3 81.9h0M690.3 79.4h0M690.3 76h0M690.9 84.7h0M690.6 80.9h0M690.8 77.6h0M690.6 74.7h0M690.7 72.6h0M690.7 70.5h0M690.7 68.3h0M691.4 79.2h0M691.1 77.4h0M691.3 73.2h0M691.4 70.3h0M691.1 67.8h0M691.4 65.4h0M691.4 62.5h0M691.6 75.9h0M691.9 73.8h0M691.9 71.5h0M691.6 68.4h0M691.9 66.4h0M691.8 63.3h0M692.3 71.5h0M692.4 69.8h0M692.2 68h0M692.4 66h0M692.1 63.1h0M692.3 60.1h0M692.3 57.6h0M692.9 70.1h0M692.9 66.4h0M692.6 64.2h0M692.9 61.7h0M692.9 57.9h0M693.2 77.3h0M693.4 73.6h0M693.2 71.3h0M693.4 67.9h0M693.1 64.1h0M693.6 77.5h0M693.7 75.1h0M693.9 71.4h0M694.3 80.5h0M694.4 77.6h0M694.9 84h0M695.4 79.4h0M695.3 76.1h0M695.1 74h0M695.2 70.3h0M695.6 79.1h0M695.6 76.6h0M695.6 72.8h0M696.3 76.6h0M696.4 73.1h0M696.2 69.1h0M696.8 79.6h0M696.7 75.6h0M696.9 71.6h0M696.7 68.9h0M696.9 66.1h0M696.6 64.4h0M696.9 60.8h0M696.5 55.8h0M697.4 80.2h0M697.2 77.2h0M697.2 74.5h0M697.4 71.1h0M697.4 67.1h0M697.1 65h0M697.1 61.1h0M697.7 78.7h0M697.9 76.2h0M697.7 72.2h0M697.6 68.6h0M697.8 64.8h0M697.8 61.6h0M698.1 80.3h0M698.1 77.2h0M698.1 74h0M698.2 70h0M698.8 78.7h0M699.1 82.3h0M699.3 79.9h0M699.9 79.4h0M700.1 78.6h0M700.4 74.5h0M700.3 70.3h0M700.2 68.2h0M700.7 81.6h0M700.7 78.6h0M700.7 75.6h0M700.6 71.6h0M700.9 68.7h0M700.9 65h0M700.7 62.6h0M700.6 60.7h0M701.1 85.2h0M701.1 82.1h0M701.2 79.6h0M701.1 77.8h0M701.3 75.8h0M701.2 73.5h0M701.3 69.3h0M701.8 81.7h0M701.9 76.8h0M702.1 82.1h0M702.8 82.4h0M703.4 81.6h0M703.7 85h0M703.7 81.1h0M703.9 77.6h0M703.8 74.4h0M703.9 70.9h0M704.3 84.8h0M704.3 81.3h0M704.9 87.3h0M704.8 84.4h0M704.8 81.8h0M704.6 78.5h0M705.3 79.5h0M705.1 77.2h0M705.1 74.8h0M705.4 71h0M705.3 67.3h0M705.1 63.3h0M705.2 59.1h0M705.8 84.2h0M705.6 80.1h0M705.6 76.9h0M705.7 73.6h0M705.6 71.7h0M706.4 79.7h0M706.1 76.4h0M706.1 74h0M706.3 71.1h0M706.7 83.6h0M706.9 80.4h0M706.8 78.6h0M706.9 74.9h0M706.6 71.7h0M707.3 81.7h0M707.2 79.8h0M707.1 77.6h0M707.9 82.5h0M707.8 79.4h0M708.4 82h0M708.6 80.9h0M709.1 85.5h0M709.1 81.8h0M709.3 77.8h0M709.3 75.5h0M709.1 72.1h0M709.6 81.5h0M709.7 78.7h0M709.9 76.5h0M709.6 74.4h0M709.8 71.1h0M709.6 67.9h0M709.6 65.5h0M709.6 61.8h0M709.8 59.6h0M710.2 85.7h0M710.2 82.3h0M710.7 85.6h0M710.7 83.3h0M710.7 79.2h0M710.7 75.9h0M710.9 73.5h0M710.9 70.3h0M710.6 68.2h0M711.1 84.7h0M711.1 82.9h0M711.2 78.8h0M711.4 75h0M711.4 71.9h0M711.6 81.9h0M712.3 84.4h0M712.2 81.2h0M712.4 78.9h0M712.2 76.9h0M712.4 73h0M712.1 70.9h0M712.1 68.5h0M712.2 65.4h0M712.4 61.8h0M712.8 83.9h0M712.9 80.6h0M712.8 77.7h0M713.3 79.4h0M713.2 76.9h0M713.4 74.8h0M713.2 72.1h0M713.3 68.5h0M713.2 66.8h0M713.7 72.3h0M713.8 69.7h0M713.7 67.8h0M713.7 64.2h0M713.7 61.2h0M713.8 57.6h0M714.4 74.7h0M714.3 71.8h0M714.3 67.9h0M714.1 64.7h0M714.4 60.7h0M714.1 57.2h0M714.7 82.5h0M714.8 78.7h0M714.8 75.1h0M714.9 72.9h0M714.8 70.9h0M714.9 66.9h0M715.2 84h0M715.4 80.1h0M715.1 78.1h0M715.4 74.4h0M715.7 82.9h0M716.1 80.9h0M716.6 86.3h0M716.7 83.1h0M716.6 80.3h0M716.6 77.6h0M716.9 75.6h0M716.6 72.8h0M716.8 69.2h0M716.9 66.4h0M717.2 85.3h0M717.1 81.2h0M717.3 77.8h0M717.9 83.8h0M718.1 82.8h0M718.1 80.1h0M718.4 77h0M718.1 73.7h0M718.7 84.7h0M718.6 81.5h0M718.9 77.5h0M719.4 83.3h0M719.6 83.4h0M719.6 80.1h0M719.7 77.8h0M719.9 74.8h0M719.9 71h0M719.8 67.8h0M719.7 65.4h0M719.9 62h0M720.3 84.1h0M720.2 82.2h0M720.1 79.5h0M720.3 77.7h0M720.4 75.6h0M720.4 73.8h0M720.1 71.5h0M720.8 83.1h0M720.7 80h0M720.9 75.9h0M720.8 72.9h0M721.2 84.1h0M721.4 81.5h0M721.4 78.3h0M721.2 74.9h0M721.4 72.5h0M721.1 68.6h0M721.7 81h0M721.9 79.3h0M721.6 76.6h0M721.9 74.5h0M721.9 70.4h0M721.9 67.2h0M722.3 82.4h0M722.1 78.9h0M722.2 75.8h0M722.2 72.1h0M722.2 68.5h0M722.9 85.9h0M722.8 82.4h0M722.8 79.7h0M722.7 76.7h0M722.9 73.3h0M723.3 84.1h0M723.4 81h0M723.4 78.7h0M723.2 76.4h0M723.7 86.7h0M723.7 82.8h0M724.3 83.5h0M724.3 80h0M724.9 82.9h0M724.6 80.1h0M724.6 76.2h0M725.2 89.3h0M725.3 85.8h0M725.8 84.5h0M726.3 86.3h0M726.7 83.5h0M726.8 81.1h0M726.9 79.4h0M726.6 77.3h0M726.6 73.2h0M726.8 70.2h0M727.4 87.9h0M727.6 82.3h0M727.6 78.7h0M728.4 82.2h0M728.3 78.7h0M728.2 75.5h0M728.2 73.2h0M728.4 69.3h0M728.1 66.1h0M728.7 80h0M728.8 78h0M728.7 75h0M728.9 71.9h0M728.9 69.8h0M728.8 67.2h0M729.1 79.5h0M729.4 76.4h0M729.4 74.5h0M729.4 71.7h0M729.3 67.8h0M729.8 83.1h0M729.9 81.4h0M729.8 79.1h0M729.6 77.3h0M729.6 74.8h0M730.4 86.3h0M730.1 82.9h0M730.7 91.9h0M730.9 89.9h0M731.3 85.8h0M731.7 86.6h0M731.9 83.7h0M731.9 80.4h0M731.9 76.4h0M732.3 87.9h0M732.6 89.5h0M733.3 88.6h0M733.3 85.6h0M733.1 83.5h0M733.2 80.9h0M733.1 77.1h0M733.5 72.5h0M733.9 93.1h0M734.1 100.5h0M734.4 98.3h0M734.4 94.8h0M734.4 91.6h0M734.1 89h0M692.5 52.3h0M695.5 51h0M714 54.4h0M703 59.3h0" stroke="#e0661c" stroke-width="1.6" stroke-linecap="round" fill="none"/>
<path d="M737 122.7V100.1H737.5V91.3H738V95.1H738.5V95.5H739V92.5H739.5V94.2H740V93.1H740.5V92.8H741V91H741.5V91.7H742V93.7H742.5V92.3H743V88.2H743.5V92.5H744V88.9H744.5V86.8H745V89.5H745.5V89H746V90.3H746.5V90.6H747V86.3H747.5V86.6H748V86.8H748.5V89.4H749V84.8H749.5V90.5H750V87.7H750.5V88.9H751V86.4H751.5V84.9H752V89.1H752.5V87.7H753V86.9H753.5V89.3H754V85.4H754.5V86.7H755V87H755.5V85.7H756V91.1H756.5V86.8H757V90.6H757.5V90.8H758V87.6H758.5V84.8H759V84.7H759.5V90.6H760V89.6H760.5V86H761V86.8H761.5V88.8H762V89.2H762.5V85.3H763V83.3H763.5V87.2H764V82.4H764.5V86.9H765V81.6H765.5V86.8H766V80.9H766.5V83.3H767V82.1H767.5V79.1H768V81.1H768.5V85.5H769V80.7H769.5V76.1H770V76.1H770.5V80.7H771V81.6H771.5V84.4H772V84.4H772.5V84.8H773V90.9H773.5V122.7Z" fill="#cf84bd"/>
<path d="M737.4 98.2h0M737.6 90.1h0M738.2 93.3h0M738.1 89.7h0M738.4 87.1h0M738.3 84.8h0M738.6 93.4h0M738.6 89.8h0M738.6 87.1h0M738.6 83.3h0M739.4 89.4h0M739.8 91h0M739.6 88.5h0M739.8 85.2h0M739.8 81.4h0M739.6 77.8h0M740.1 91.7h0M740.6 90.8h0M740.8 87.6h0M740.8 83.6h0M740.7 80.6h0M740.8 77.7h0M741.3 89.1h0M741.2 86.5h0M741.8 89.9h0M742.4 91.9h0M742.8 89.2h0M742.9 86.2h0M743.3 85.1h0M743.1 81.9h0M743.2 78.8h0M743.4 75.3h0M743.9 89.2h0M743.8 85.8h0M743.8 83.8h0M743.8 80.1h0M744.2 86h0M744.1 84.2h0M744.2 80.3h0M744.3 77.8h0M744.8 84.5h0M744.7 82.3h0M744.8 79h0M745.2 86.2h0M745.4 82.1h0M745.3 78.4h0M745.2 76.4h0M745.1 74.2h0M745.7 87.2h0M746.2 88.8h0M746.1 87.3h0M746.8 87.3h0M747.2 83.8h0M747.2 80.9h0M747.4 78.9h0M747.4 75.4h0M747.4 72.7h0M747.3 69.4h0M747.2 67.2h0M747.9 84h0M748.4 83.4h0M748.3 79.9h0M748.4 76.2h0M748.3 72.3h0M748.3 68.6h0M748.6 87.4h0M748.6 83.9h0M748.7 80.5h0M748.8 78.4h0M748.9 76.5h0M748.9 74.3h0M749.2 82.7h0M749.1 79.8h0M749.3 77.1h0M749.4 73.2h0M749.8 88.2h0M749.9 85.8h0M749.7 83.7h0M749.7 81.9h0M749.8 79.6h0M749.7 77.8h0M749.8 75.9h0M749.9 74.2h0M750.2 86.5h0M750.3 82.5h0M750.3 80.2h0M750.3 77h0M750.1 75.2h0M750.7 85.8h0M750.9 83.8h0M750.6 79.7h0M750.9 75.8h0M751.3 83.9h0M751.4 80.6h0M751.3 78.8h0M751.2 76.8h0M751.1 73.4h0M751.1 70.4h0M751.2 66.5h0M751.9 83.4h0M752.1 87.5h0M752.4 85.5h0M752.2 83.5h0M752.7 85.4h0M753.1 85.1h0M753.7 86.3h0M754.1 82.2h0M754.9 84.2h0M754.6 81.4h0M754.8 78.8h0M755.1 85.1h0M755.4 82.1h0M755.1 82.1h0M755.9 82.6h0M755.7 80.2h0M755.8 77.1h0M755.6 72.5h0M756.4 89h0M756.1 85.7h0M756.1 82.8h0M756.1 80.8h0M756.4 77h0M756.2 75.6h0M756.8 84.5h0M757.4 88.9h0M757.9 87.5h0M758.3 84.6h0M758.7 83.4h0M758.7 80.9h0M759.3 82.4h0M759.9 89.6h0M759.6 85.6h0M759.9 81.5h0M760.4 87.6h0M760.4 85.4h0M760.2 82.8h0M760.2 79.4h0M760.3 76.1h0M760.8 82.8h0M760.8 80.4h0M760.8 76.9h0M761.3 85.7h0M761.4 83.3h0M761.2 80.4h0M761.3 76.9h0M761.3 74.1h0M761.1 73.1h0M761.6 85.4h0M761.9 83.6h0M761.6 80.7h0M761.7 77h0M762.3 88h0M762.4 83.9h0M762.3 79.7h0M762.6 83.4h0M762.8 81.7h0M762.9 79h0M762.8 75h0M762.6 72.5h0M762.9 68.4h0M762.6 65.6h0M763.4 82.3h0M763.7 84h0M764.2 80.9h0M764.8 84.4h0M764.6 80.3h0M764.6 76.4h0M764.7 72.7h0M764.6 71h0M764.8 67.5h0M764.7 64.4h0M765.1 80.6h0M765.2 78.6h0M765.9 85.7h0M766 79.4h0M766.4 79.7h0M766.2 76h0M766.4 72.5h0M766.1 68.8h0M766.3 65.8h0M766.1 63.4h0M766.9 81.6h0M766.7 79.1h0M767.4 80.9h0M767.8 76.3h0M767.8 74.2h0M767.8 71.1h0M767.6 69.4h0M767.7 67.3h0M767.9 64h0M768.3 78.5h0M768.1 74.7h0M768.3 71h0M768.3 68.1h0M768.4 64.9h0M768.7 83.1h0M768.6 79.2h0M768.8 75.4h0M768.6 73.5h0M768.6 71.5h0M768.9 69.8h0M768.7 68h0M768.7 64.8h0M769.4 77.8h0M769.1 74.8h0M769.2 71.7h0M769.1 68.8h0M769.1 66.7h0M769.1 63.1h0M769.8 73.9h0M769.9 69.8h0M769.7 67.3h0M769.6 63.8h0M770.1 75h0M770.2 71.9h0M770.1 70.2h0M770.3 66.1h0M770.4 62.1h0M770.7 78.9h0M770.6 74.7h0M770.6 72.7h0M770.7 69.2h0M770.6 65.2h0M771.1 78.8h0M771.1 75.1h0M771.2 73.1h0M771.2 70.5h0M771.8 80.9h0M771.6 76.9h0M772.4 82.2h0M772.6 82.9h0M772.8 80.3h0M772.7 76.7h0M772.8 73.9h0M772.9 72h0M772.7 68.9h0M772.8 66.6h0M773.1 89.8h0M770 46.8h0M770 43.3h0M770 39.8h0M770 36.3h0M770 32.8h0M770 30.1h0M749.5 56.5h0M739.5 63.5h0" stroke="#cf84bd" stroke-width="1.6" stroke-linecap="round" fill="none"/>
<path d="M424 52.9H773.8" stroke="#ee1c25" stroke-width="1.6" fill="none"/>
<g stroke="#555" stroke-width="0.7" fill="none">
<path d="M423.3 10.6V122M423.3 10.6h-1.8M423.3 38.4h-1.8M423.3 66.3h-1.8M423.3 94.1h-1.8M423.3 122h-1.8"/>
<path d="M423.6 126.6H773.8M423.6 126.6v2M452.2 126.6v2M500 126.6v2M554 126.6v2M609.8 126.6v2M658.6 126.6v2M710.5 126.6v2M755 126.6v2M773.8 126.6v2"/>
</g>
<text x="416.6" y="12.1" font-size="4.2" font-weight="bold" text-anchor="middle">8</text>
<text x="416.6" y="39.9" font-size="4.2" font-weight="bold" text-anchor="middle">6</text>
<text x="416.6" y="67.8" font-size="4.2" font-weight="bold" text-anchor="middle">4</text>
<text x="416.6" y="95.6" font-size="4.2" font-weight="bold" text-anchor="middle">2</text>
<text x="416.6" y="123.5" font-size="4.2" font-weight="bold" text-anchor="middle">0</text>
<text x="423.8" y="136.3" font-size="4.2" font-weight="bold" text-anchor="middle" font-style="italic">Chr</text>
<text x="452" y="136.3" font-size="4.2" font-weight="bold" text-anchor="middle">1</text>
<text x="500" y="136.3" font-size="4.2" font-weight="bold" text-anchor="middle">2</text>
<text x="554" y="136.3" font-size="4.2" font-weight="bold" text-anchor="middle">3</text>
<text x="609.8" y="136.3" font-size="4.2" font-weight="bold" text-anchor="middle">4</text>
<text x="658.6" y="136.3" font-size="4.2" font-weight="bold" text-anchor="middle">5</text>
<text x="710.5" y="136.3" font-size="4.2" font-weight="bold" text-anchor="middle">6</text>
<text x="755" y="136.3" font-size="4.2" font-weight="bold" text-anchor="middle">7</text>
<text x="393.6" y="67.4" font-size="8" font-weight="bold" text-anchor="middle" transform="rotate(-90 393.6 67.4)">2020_RGR</text>
<text x="403.2" y="66" font-size="7.8" fill="#666" text-anchor="middle" transform="rotate(-90 403.2 66)">−log<tspan font-size="4.6" dy="1.4">10</tspan><tspan dy="-1.4">(</tspan><tspan font-style="italic">p</tspan>)</text>
<text x="383.7" y="23" font-size="13" font-weight="bold">b</text>
<text x="479.3" y="25.7" font-size="8.2" font-weight="bold" text-anchor="middle" fill="#ee1c25" font-style="italic">gLTG1.2</text>
<path d="M475.2 27.6L474.1 30" stroke="#ee1c25" stroke-width="1.3" stroke-dasharray="1.2 0.5" fill="none"/>
<path d="M473 32.4L472.7 29.4L475.4 30.7Z" fill="#ee1c25"/>
<text x="497.8" y="32.7" font-size="8.2" font-weight="bold" text-anchor="middle" font-style="italic">gLTG1.3</text>
<path d="M480.8 35.2L479.2 37.3" stroke="#000" stroke-width="1.3" stroke-dasharray="1.2 0.5" fill="none"/>
<path d="M477.6 39.3L478 36.3L480.4 38.2Z" fill="#000"/>
<text x="610.5" y="34.2" font-size="8.2" font-weight="bold" text-anchor="middle" fill="#ee1c25" font-style="italic">gLTG4.1</text>
<path d="M605.2 37.6L604.2 39.8" stroke="#ee1c25" stroke-width="1.3" stroke-dasharray="1.2 0.5" fill="none"/>
<path d="M603.2 42.2L602.9 39.2L605.6 40.4Z" fill="#ee1c25"/>
<text x="670.2" y="41.3" font-size="8.2" font-weight="bold" text-anchor="middle" fill="#ee1c25" font-style="italic">gLTG5.2</text>
<path d="M673.7 44.6L672.6 46.9" stroke="#ee1c25" stroke-width="1.3" stroke-dasharray="1.2 0.5" fill="none"/>
<path d="M671.5 49.3L671.2 46.3L674 47.6Z" fill="#ee1c25"/>
</g>
<g>
<path d="M66 291.2V284.7h0.6V282.8h0.6V283.9h0.6V284.7h0.6V284.8h0.6V284.4h0.6V284h0.6V282.4h0.6V285h0.6V284.9h0.6V285.3h0.6V281.5h0.6V282.1h0.6V284.2h0.6V285.8h0.6V285.2h0.6V284.5h0.6V285.5h0.6V280.9h0.6V284h0.6V284.7h0.6V280.4h0.6V281.6h0.6V283.9h0.6V283.1h0.6V285.5h0.6V284.9h0.6V285.2h0.6V286h0.6V283.4h0.6V281.8h0.6V283.5h0.6V283.4h0.6V285.8h0.6V286h0.6V284.6h0.6V283.2h0.6V283.2h0.6V281.7h0.6V283h0.6V284.2h0.6V284.4h0.6V283.3h0.6V283.2h0.6V282.5h0.6V282.6h0.6V282.7h0.6V283.8h0.6V283.1h0.6V284.4h0.6V284.3h0.6V284.4h0.6V283.6h0.6V283.8h0.6V283.1h0.6V282.5h0.6V280.4h0.6V282.4h0.6V280.5h0.6V282.1h0.6V282.3h0.6V282.9h0.6V284.3h0.6V285.9h0.6V285.8h0.6V284.8h0.6V285h0.6V282.9h0.6V281.9h0.6V284.9h0.6V284.7h0.6V283.5h0.6V283.6h0.6V284.8h0.6V283.3h0.6V285.3h0.6V285.7h0.6V285.4h0.6V285.9h0.6V286.1h0.6V283.9h0.6V285h0.6V284.3h0.6V284.7h0.6V285.6h0.6V285.2h0.6V286.3h0.6V284.7h0.6V282.7h0.6V283.3h0.6V284.5h0.6V283.9h0.6V284.7h0.6V284.5h0.6V283.8h0.6V283h0.6V284.9h0.6V284.5h0.6V285h0.6V285.7h0.6V286.5h0.6V284.9h0.6V284.7h0.6V285.4h0.6V285.8h0.6V285.9h0.6V285.5h0.6V281.8h0.6V282.6h0.6V280.1h0.6V280.3h0.6V283.5h0.6V285.7h0.6V286.8h0.6V286.3h0.6V283.5h0.6V283.2h0.6V282.9h0.6V282.9h0.6V284.2h0.6V284h0.6V283.9h0.6V281.4h0.6V284.6h0.6V286h0.6V284.6h0.6V282.5h0.6V284.1h0.6V281.9h0.6V280.9h0.6V283.3h0.6V285.1h0.6V283.5h0.6V284.4h0.6V284h0.6V285.1h0.6V285.9h0.6V282.6h0.6V283.5h0.6V284.7h0.6V285.7h0.6V286.4h0.6V286.2h0.6V286.6h0.6V284.1h0.6V285.3h0.6V284.3h0.6V284.2h0.6V283.1h0.6V284.4h0.6V284.8h0.6V285.2h0.6V283.9h0.6V282.3h0.6V281.4h0.6V283.8h0.6V285.2h0.6V283.8h0.6V284h0.6V284h0.6V285.3h0.6V284.8h0.6V284.6h0.6V283.6h0.6V284.5h0.6V283.7h0.6V284.2h0.6V284.9h0.6V284.5h0.6V285.4h0.6V285.8h0.6V286.9h0.6V286.8h0.6V286.9h0.6V284.5h0.6V284.2h0.6V284.4h0.6V283h0.6V284.7h0.6V285.4h0.6V285.4h0.6V285.2h0.6V284.2h0.6V283.7h0.6V284.8h0.6V285.1h0.6V283.4h0.6V282.8h0.6V281.4h0.6V283.4h0.6V283.3h0.6V283.4h0.6V284h0.6V281.3h0.6V282.5h0.6V282.8h0.6V283.4h0.6V284.1h0.6V283.7h0.6V285h0.6V285.1h0.6V281.8h0.6V282.6h0.6V283.8h0.6V284.8h0.6V286h0.6V285.9h0.6V284h0.6V283.2h0.6V283.1h0.6V284h0.6V285.1h0.6V285.7h0.6V284.9h0.6V283.3h0.6V284.6h0.6V283.1h0.6V282.8h0.6V283.8h0.6V284.9h0.6V284.5h0.6V283.6h0.6V284.6h0.6V283.9h0.6V285.2h0.6V285.3h0.6V281.6h0.6V281.6h0.6V282.3h0.6V283.1h0.6V284.3h0.6V283.7h0.6V284.7h0.6V285.2h0.6V285.3h0.6V284.4h0.6V284.8h0.6V283.3h0.6V283.8h0.6V285.3h0.6V282.2h0.6V282.3h0.6V282.1h0.6V282.5h0.6V284.4h0.6V284.9h0.6V285.4h0.6V286.1h0.6V284.2h0.6V280.6h0.6V282h0.6V283h0.6V284.1h0.6V284h0.6V284.8h0.6V286.1h0.6V285h0.6V284.9h0.6V285.9h0.6V286.6h0.6V285.8h0.6V291.2Z" fill="#2547ee"/>
<path d="M78.3 184.5h0M71.1 196.4h0M117.4 202.8h0M67.1 223.7h0M67.1 235.5h0M68.2 247.7h0M115.6 231.9h0M127.1 238.2h0M140 213.2h0M146.1 222.2h0M170.6 231.2h0M177 233.4h0M188.5 221.1h0M211.8 239.1h0M78.3 259.2h0M110.6 258.1h0M140 260.3h0M158 259.2h0M174.9 266.7h0M76.5 267.5h0M80.3 266.8h0M92.5 268.5h0M97 271.5h0M97.2 274.5h0M92 275.5h0M108.5 273.5h0M114.5 271.2h0M118 274.8h0M122.5 278h0M68.5 274h0M146.5 274.2h0M159.5 272h0M166.5 276h0M175 272.5h0M194 271.5h0M205 272h0M208.5 272.5h0M130.2 279.5h0M133 283h0M96 281h0M104 281.5h0M84 277h0M221.5 270h0M186 277h0M200 278h0M151 280h0M213.5 277.5h0M171 279.5h0M105.6 281.1h0M126 280.4h0M75.2 283h0M217 281.2h0M139.7 283.5h0M110 272.7h0M172.8 280.5h0M75.2 281.7h0M186.9 281.3h0M158.4 273.9h0M166.4 278.7h0M72.6 283.5h0M185.5 281.5h0M201.6 275.4h0M208 281.8h0M220.9 276.7h0M204.3 283.3h0M187.3 281.4h0M216.7 271.8h0M100.4 281.4h0M108.7 280.9h0M111.1 278.3h0M86 283.2h0M137.5 283.5h0M125.7 274h0M203.3 283.1h0M69.8 275.4h0M215 279.3h0M88 282.9h0M208.7 273.1h0M71.8 283.1h0M133.1 282.7h0M183.1 281.9h0M186.4 283.3h0M146.8 272.2h0M175.1 283.5h0M84.1 278.6h0M124.7 281.9h0M140.6 279.5h0M215.7 282.9h0M154.6 282.7h0M151 277.2h0M87.6 280.8h0M175.7 283.5h0M185.8 281.5h0M75 277.1h0M75.9 283.7h0M75 283.9h0M74.7 280.3h0M73.6 280.9h0M81.9 276.6h0M83.3 280h0M82.1 275.9h0M83.3 273.1h0M83.5 280.8h0M211 273.3h0M210.7 279.1h0M212.7 278.1h0M211.7 273.4h0M211.4 277.8h0M210 282.8h0M208.6 278.5h0M209.2 281.9h0M208.9 283.7h0M207.8 280.3h0M213.9 272.9h0M214.3 281.1h0M215.9 275.6h0M214.3 274.5h0M215.4 279.8h0M176.4 281.5h0M175.3 274h0M175.8 273.7h0M175 282.8h0M174.7 275.6h0M93.2 284.3h0M91.6 274.6h0M93 274h0M91.6 277.4h0M91.9 275.8h0" stroke="#2547ee" stroke-width="2.9" stroke-linecap="round" fill="none"/>
<g stroke="#222" stroke-width="0.95" fill="none">
<path d="M51.3 155.2V291.2H222M51.3 155.2h-2.6M51.3 189.2h-2.6M51.3 223.2h-2.6M51.3 257.2h-2.6M51.3 291.2h-2.6M70.3 291.2v2.4M108.2 291.2v2.4M146.1 291.2v2.4M184.1 291.2v2.4M222 291.2v2.4"/>
</g>
<text x="47" y="159.1" font-size="11" font-weight="bold" text-anchor="end">8</text>
<text x="47" y="193.1" font-size="11" font-weight="bold" text-anchor="end">6</text>
<text x="47" y="227.1" font-size="11" font-weight="bold" text-anchor="end">4</text>
<text x="47" y="261.1" font-size="11" font-weight="bold" text-anchor="end">2</text>
<text x="47" y="295.1" font-size="11" font-weight="bold" text-anchor="end">0</text>
<text x="28" y="304.2" font-size="11.2" font-weight="bold">Chr.1</text>
<text x="70.3" y="304.2" font-size="11.2" font-weight="bold" text-anchor="middle">29.2</text>
<text x="108.2" y="304.2" font-size="11.2" font-weight="bold" text-anchor="middle">29.4</text>
<text x="146.1" y="304.2" font-size="11.2" font-weight="bold" text-anchor="middle">29.6</text>
<text x="184.1" y="304.2" font-size="11.2" font-weight="bold" text-anchor="middle">29.8</text>
<text x="222" y="304.2" font-size="11.2" font-weight="bold" text-anchor="middle">30.0</text>
<text x="233.8" y="302.6" font-size="10.4" font-weight="bold">Mb</text>
<text x="36.6" y="225.5" font-size="11.2" font-weight="bold" text-anchor="middle" transform="rotate(-90 36.6 225.5)">-log<tspan font-size="7.2" dy="2.2">10</tspan><tspan dy="-2.2" font-style="italic">P</tspan></text>
<text x="12.3" y="156.3" font-size="13" font-weight="bold">c</text>
<g stroke="#e8232a" stroke-width="1.3" stroke-dasharray="3.4 1.9" fill="none">
<path d="M65.5 166V309L46.3 313.4V350"/>
<path d="M129.4 166V310.4L230.5 316.6V350"/>
<path d="M51.3 201.8H224.5"/>
</g>
<path d="M47.7 335.7H229.8" stroke="#000" stroke-width="1" fill="none"/>
<path d="M48.4 333.2H54L53.4 330.7L59.3 335.7L53.4 340.7L54 338.2H48.4Z" fill="#000"/>
<path d="M61.6 333.2H66.7L66.1 330.7L72 335.7L66.1 340.7L66.7 338.2H61.6Z" fill="#000"/>
<path d="M76.2 333.2H83.7L83.1 330.7L89 335.7L83.1 340.7L83.7 338.2H76.2Z" fill="#000"/>
<path d="M90.4 333.09999999999997L91.6 329.4L96.2 335.7L91.6 342.0L90.4 338.3Z" fill="#ff0a0a"/>
<path d="M98 333.2H106L105.4 330.7L111.3 335.7L105.4 340.7L106 338.2H98Z" fill="#000"/>
<path d="M113.6 333.2H116L115.4 330.7L120.4 335.7L115.4 340.7L116 338.2H113.6Z" fill="#000"/>
<path d="M131.9 333.2H127.5L128.1 330.7L122.2 335.7L128.1 340.7L127.5 338.2H131.9Z" fill="#000"/>
<path d="M133.6 333.2H135.6L135 330.7L140 335.7L135 340.7L135.6 338.2H133.6Z" fill="#000"/>
<path d="M141.3 333.2H146L145.4 330.7L151.3 335.7L145.4 340.7L146 338.2H141.3Z" fill="#000"/>
<path d="M152.2 333.2H154.4L153.8 330.7L158.6 335.7L153.8 340.7L154.4 338.2H152.2Z" fill="#000"/>
<path d="M165.2 333.2H167.5L166.9 330.7L171.9 335.7L166.9 340.7L167.5 338.2H165.2Z" fill="#000"/>
<path d="M172.6 333.2H175.9L175.3 330.7L181.2 335.7L175.3 340.7L175.9 338.2H172.6Z" fill="#000"/>
<path d="M197.8 333.2H193.8L194.4 330.7L188.5 335.7L194.4 340.7L193.8 338.2H197.8Z" fill="#000"/>
<path d="M225.8 333.2H209.8L210.4 330.7L204.5 335.7L210.4 340.7L209.8 338.2H225.8Z" fill="#000"/>
<text x="48.3" y="325.3" font-size="5.5" font-weight="bold">29,185,530</text>
<text x="228.3" y="325.3" font-size="5.5" font-weight="bold" text-anchor="end">29,524,806</text>
<rect x="44.2" y="349.4" width="186.5" height="14.2" fill="#000"/>
<path d="M57 352.3L59.2 359.8M60.5 351.2L62.3 360M82 350.8L84.6 356.1M103 352.6L106.5 357.9M108 350.7L113 357.5M112 352.4L118 361M116.5 352.7L120.5 357.9M123 352.4L128.5 360.8M131 350.9L137 358.9M150 351.3L154 357.5M158 350.5L161.2 358.5M176 352L179.5 360.7M181 351.9L183.6 357.5M186 351.1L189 357.2M207 353.3L204 359.2M211 350.8L208.5 357.2M214.5 350.7L212.5 357.4M218 352.4L220 360M221.5 351L219.5 356.6M224 352L225.6 359.7" stroke="#ddd" stroke-width="0.35" fill="none"/>
<defs><clipPath id="tri"><path d="M44.4 363.6H230.6L137.5 455.3Z"/></clipPath><linearGradient id="ldg" x1="0" y1="0" x2="0" y2="1"><stop offset="0" stop-color="#f0451a"/><stop offset="0.5" stop-color="#f65a1c"/><stop offset="1" stop-color="#f35018"/></linearGradient><linearGradient id="key" x1="0" y1="0" x2="1" y2="0"><stop offset="0" stop-color="#ffffff"/><stop offset="0.15" stop-color="#ffffb4"/><stop offset="0.35" stop-color="#ffff3c"/><stop offset="0.5" stop-color="#fff000"/><stop offset="0.65" stop-color="#ffb400"/><stop offset="0.82" stop-color="#ff6400"/><stop offset="1" stop-color="#f00800"/></linearGradient></defs>
<g clip-path="url(#tri)">
<rect x="44.4" y="363.6" width="186.2" height="95" fill="url(#ldg)"/>
<path d="M127.7 363.6l100 100" stroke="#fb7426" stroke-width="1.2" stroke-opacity="0.5" fill="none"/>
<path d="M94.3 363.6l-100 100M94.3 363.6l100 100" stroke="#ee4012" stroke-width="0.8" stroke-opacity="0.5" fill="none"/>
<path d="M122.5 363.6l-100 100M122.5 363.6l100 100" stroke="#ff6a20" stroke-width="1.2" stroke-opacity="0.5" fill="none"/>
<path d="M92.7 363.6l-100 100M92.7 363.6l100 100" stroke="#ff6a20" stroke-width="1.2" stroke-opacity="0.5" fill="none"/>
<path d="M60.5 363.6l-100 100M60.5 363.6l100 100" stroke="#ff7a28" stroke-width="0.5" stroke-opacity="0.5" fill="none"/>
<path d="M162.1 363.6l-100 100" stroke="#fb7426" stroke-width="0.8" stroke-opacity="0.5" fill="none"/>
<path d="M115.9 363.6l-100 100" stroke="#ff6a20" stroke-width="1.2" stroke-opacity="0.5" fill="none"/>
<path d="M208.7 363.6l-100 100M208.7 363.6l100 100" stroke="#ff6a20" stroke-width="0.5" stroke-opacity="0.5" fill="none"/>
<path d="M230.4 363.6l-100 100M230.4 363.6l100 100" stroke="#ee4012" stroke-width="0.5" stroke-opacity="0.5" fill="none"/>
<path d="M51.7 363.6l-100 100M51.7 363.6l100 100" stroke="#ff7a28" stroke-width="1.8" stroke-opacity="0.5" fill="none"/>
<path d="M86.5 363.6l-100 100M86.5 363.6l100 100" stroke="#ff7a28" stroke-width="1.2" stroke-opacity="0.5" fill="none"/>
<path d="M104.6 363.6l-100 100M104.6 363.6l100 100" stroke="#ff6a20" stroke-width="0.5" stroke-opacity="0.5" fill="none"/>
<path d="M187.5 363.6l-100 100" stroke="#ff7a28" stroke-width="0.5" stroke-opacity="0.5" fill="none"/>
<path d="M145.5 363.6l-100 100M145.5 363.6l100 100" stroke="#ee4012" stroke-width="0.5" stroke-opacity="0.5" fill="none"/>
<path d="M225.6 363.6l-100 100M225.6 363.6l100 100" stroke="#ee4012" stroke-width="0.5" stroke-opacity="0.5" fill="none"/>
<path d="M215.4 363.6l100 100" stroke="#ee4012" stroke-width="0.8" stroke-opacity="0.5" fill="none"/>
<path d="M195.4 363.6l-100 100M195.4 363.6l100 100" stroke="#fb7426" stroke-width="0.5" stroke-opacity="0.5" fill="none"/>
<path d="M219.2 363.6l-100 100" stroke="#ee4012" stroke-width="1.2" stroke-opacity="0.5" fill="none"/>
<path d="M151.3 363.6l-100 100M151.3 363.6l100 100" stroke="#fb7426" stroke-width="1.2" stroke-opacity="0.5" fill="none"/>
<path d="M92.1 363.6l-100 100M92.1 363.6l100 100" stroke="#ee4012" stroke-width="1.8" stroke-opacity="0.5" fill="none"/>
<path d="M69.4 363.6l-100 100M69.4 363.6l100 100" stroke="#e8360f" stroke-width="1.8" stroke-opacity="0.5" fill="none"/>
<path d="M63.5 363.6l-100 100M63.5 363.6l100 100" stroke="#e8360f" stroke-width="0.8" stroke-opacity="0.5" fill="none"/>
<path d="M178.3 363.6l100 100" stroke="#ff6a20" stroke-width="1.8" stroke-opacity="0.5" fill="none"/>
<path d="M174.5 363.6l-100 100M174.5 363.6l100 100" stroke="#ff7a28" stroke-width="1.2" stroke-opacity="0.5" fill="none"/>
<path d="M110.7 363.6l-100 100M110.7 363.6l100 100" stroke="#ff7a28" stroke-width="0.5" stroke-opacity="0.5" fill="none"/>
<path d="M152 363.6l100 100" stroke="#ee4012" stroke-width="1.8" stroke-opacity="0.5" fill="none"/>
<path d="M156.8 363.6l-100 100M156.8 363.6l100 100" stroke="#fb7426" stroke-width="1.2" stroke-opacity="0.5" fill="none"/>
<path d="M142 363.6l-100 100M142 363.6l100 100" stroke="#ff6a20" stroke-width="1.8" stroke-opacity="0.5" fill="none"/>
<path d="M98.4 363.6l-100 100" stroke="#e8360f" stroke-width="0.5" stroke-opacity="0.5" fill="none"/>
<path d="M102.6 363.6l-100 100" stroke="#ee4012" stroke-width="1.2" stroke-opacity="0.5" fill="none"/>
<path d="M170.2 363.6l-100 100M170.2 363.6l100 100" stroke="#ff6a20" stroke-width="1.2" stroke-opacity="0.5" fill="none"/>
<path d="M192.6 363.6l-100 100M192.6 363.6l100 100" stroke="#e8360f" stroke-width="1.8" stroke-opacity="0.5" fill="none"/>
<path d="M134.3 363.6l-100 100M134.3 363.6l100 100" stroke="#ee4012" stroke-width="1.2" stroke-opacity="0.5" fill="none"/>
<path d="M133.5 363.6l-100 100M133.5 363.6l100 100" stroke="#ff7a28" stroke-width="0.8" stroke-opacity="0.5" fill="none"/>
<path d="M138.9 363.6l-100 100M138.9 363.6l100 100" stroke="#ee4012" stroke-width="0.5" stroke-opacity="0.5" fill="none"/>
<path d="M87 363.6l-100 100M87 363.6l100 100" stroke="#ff6a20" stroke-width="0.5" stroke-opacity="0.5" fill="none"/>
<path d="M56.9 363.6l-100 100M56.9 363.6l100 100" stroke="#fb7426" stroke-width="1.2" stroke-opacity="0.5" fill="none"/>
<path d="M181.3 363.6l-100 100M181.3 363.6l100 100" stroke="#ff6a20" stroke-width="1.8" stroke-opacity="0.5" fill="none"/>
<path d="M210.5 363.6l-100 100M210.5 363.6l100 100" stroke="#fb7426" stroke-width="0.5" stroke-opacity="0.5" fill="none"/>
<path d="M47.1 363.6l-100 100" stroke="#e8360f" stroke-width="0.5" stroke-opacity="0.5" fill="none"/>
<path d="M211.8 363.6l-100 100M211.8 363.6l100 100" stroke="#ee4012" stroke-width="1.8" stroke-opacity="0.5" fill="none"/>
<path d="M187.6 363.6l100 100" stroke="#fb7426" stroke-width="1.8" stroke-opacity="0.5" fill="none"/>
<path d="M177.7 363.6l-100 100" stroke="#fb7426" stroke-width="0.8" stroke-opacity="0.5" fill="none"/>
<path d="M228.6 363.6l-100 100M228.6 363.6l100 100" stroke="#e8360f" stroke-width="0.5" stroke-opacity="0.5" fill="none"/>
<path d="M143.8 363.6l-100 100M143.8 363.6l100 100" stroke="#ff7a28" stroke-width="0.8" stroke-opacity="0.5" fill="none"/>
<path d="M124.2 363.6l-100 100M124.2 363.6l100 100" stroke="#ff6a20" stroke-width="0.8" stroke-opacity="0.5" fill="none"/>
<path d="M75.3 363.6l-100 100M75.3 363.6l100 100" stroke="#ff7a28" stroke-width="1.8" stroke-opacity="0.5" fill="none"/>
<path d="M119.4 363.6l-100 100M119.4 363.6l100 100" stroke="#ee4012" stroke-width="0.8" stroke-opacity="0.5" fill="none"/>
<path d="M129.3 363.6l-100 100" stroke="#e8360f" stroke-width="1.2" stroke-opacity="0.5" fill="none"/>
<path d="M215.2 363.6l-100 100M215.2 363.6l100 100" stroke="#ee4012" stroke-width="1.8" stroke-opacity="0.5" fill="none"/>
<path d="" stroke="#ff7a28" stroke-width="0.8" stroke-opacity="0.5" fill="none"/>
<path d="M74.4 363.6l-100 100M74.4 363.6l100 100" stroke="#ff7a28" stroke-width="1.8" stroke-opacity="0.5" fill="none"/>
<path d="M98 363.6l-100 100" stroke="#ff7a28" stroke-width="0.8" stroke-opacity="0.5" fill="none"/>
<path d="" stroke="#fb7426" stroke-width="1.8" stroke-opacity="0.5" fill="none"/>
<path d="M105.1 363.6l-100 100M105.1 363.6l100 100" stroke="#ff7a28" stroke-width="1.8" stroke-opacity="0.5" fill="none"/>
<path d="M55.3 363.6l-100 100M55.3 363.6l100 100" stroke="#fb7426" stroke-width="1.2" stroke-opacity="0.5" fill="none"/>
<path d="M194 363.6l-100 100M194 363.6l100 100" stroke="#ee4012" stroke-width="1.2" stroke-opacity="0.5" fill="none"/>
<path d="M76.2 363.6l100 100" stroke="#ee4012" stroke-width="1.8" stroke-opacity="0.5" fill="none"/>
<path d="M133.8 363.6l-100 100M133.8 363.6l100 100" stroke="#ff7a28" stroke-width="0.5" stroke-opacity="0.5" fill="none"/>
<path d="M59.9 363.6l-100 100M59.9 363.6l100 100" stroke="#fb7426" stroke-width="1.2" stroke-opacity="0.5" fill="none"/>
<path d="M120.2 363.6l100 100" stroke="#ff6a20" stroke-width="1.2" stroke-opacity="0.5" fill="none"/>
<path d="M102 363.6l-100 100" stroke="#ff7a28" stroke-width="0.5" stroke-opacity="0.5" fill="none"/>
<path d="M171.3 363.6l-100 100" stroke="#ff7a28" stroke-width="0.5" stroke-opacity="0.5" fill="none"/>
<path d="M84.7 363.6l-100 100M84.7 363.6l100 100" stroke="#ff6a20" stroke-width="0.8" stroke-opacity="0.5" fill="none"/>
<path d="" stroke="#fb7426" stroke-width="0.8" stroke-opacity="0.5" fill="none"/>
<path d="M154.3 363.6l-100 100M154.3 363.6l100 100" stroke="#ff7a28" stroke-width="1.8" stroke-opacity="0.5" fill="none"/>
<path d="" stroke="#ee4012" stroke-width="0.5" stroke-opacity="0.5" fill="none"/>
<path d="M110.7 363.6l-100 100" stroke="#ff7a28" stroke-width="1.8" stroke-opacity="0.5" fill="none"/>
<path d="M136.9 363.6l-100 100" stroke="#ff7a28" stroke-width="1.8" stroke-opacity="0.5" fill="none"/>
<path d="M155.2 363.6l-100 100" stroke="#ff6a20" stroke-width="1.2" stroke-opacity="0.5" fill="none"/>
<path d="M138 363.6l100 100" stroke="#ff6a20" stroke-width="0.5" stroke-opacity="0.5" fill="none"/>
<path d="M128.5 363.6l100 100" stroke="#e8360f" stroke-width="1.8" stroke-opacity="0.5" fill="none"/>
<path d="M56.2 363.6l-100 100M56.2 363.6l100 100" stroke="#ff6a20" stroke-width="0.5" stroke-opacity="0.5" fill="none"/>
<path d="M156.7 363.6l-100 100M156.7 363.6l100 100" stroke="#fb7426" stroke-width="0.5" stroke-opacity="0.5" fill="none"/>
<path d="M181.1 363.6l-100 100M181.1 363.6l100 100" stroke="#ff7a28" stroke-width="0.5" stroke-opacity="0.5" fill="none"/>
<path d="M53.3 363.6l-100 100M53.3 363.6l100 100" stroke="#ff7a28" stroke-width="1.2" stroke-opacity="0.5" fill="none"/>
<path d="M166.6 363.6l-100 100M166.6 363.6l100 100" stroke="#ff7a28" stroke-width="1.8" stroke-opacity="0.5" fill="none"/>
<path d="M106.3 363.6l100 100" stroke="#fb7426" stroke-width="1.8" stroke-opacity="0.5" fill="none"/>
<path d="M202.2 363.6l-100 100M202.2 363.6l100 100" stroke="#e8360f" stroke-width="1.2" stroke-opacity="0.5" fill="none"/>
<path d="M160.8 363.6l100 100" stroke="#ff7a28" stroke-width="1.8" stroke-opacity="0.5" fill="none"/>
<path d="M190.3 363.6l-100 100M190.3 363.6l100 100" stroke="#ff7a28" stroke-width="1.8" stroke-opacity="0.5" fill="none"/>
<path d="M93.7 363.6l-100 100M93.7 363.6l100 100" stroke="#e8360f" stroke-width="1.8" stroke-opacity="0.5" fill="none"/>
<path d="M227.6 363.6l-100 100M227.6 363.6l100 100" stroke="#ff7a28" stroke-width="1.8" stroke-opacity="0.5" fill="none"/>
<path d="M73.4 363.6l-100 100M73.4 363.6l100 100" stroke="#fb7426" stroke-width="1.8" stroke-opacity="0.5" fill="none"/>
<path d="M80.5 363.6l-100 100M80.5 363.6l100 100" stroke="#e8360f" stroke-width="1.8" stroke-opacity="0.5" fill="none"/>
<path d="M152.6 363.6l100 100" stroke="#fb7426" stroke-width="0.5" stroke-opacity="0.5" fill="none"/>
<path d="M101.5 363.6l-100 100M101.5 363.6l100 100" stroke="#ff6a20" stroke-width="1.2" stroke-opacity="0.5" fill="none"/>
<path d="M218.3 363.6l-100 100M218.3 363.6l100 100" stroke="#ff7a28" stroke-width="0.8" stroke-opacity="0.5" fill="none"/>
<path d="M142.4 363.6l100 100" stroke="#ff7a28" stroke-width="0.8" stroke-opacity="0.5" fill="none"/>
<path d="M102.9 363.6l-100 100M102.9 363.6l100 100" stroke="#ff6a20" stroke-width="1.8" stroke-opacity="0.5" fill="none"/>
<path d="M185.7 363.6l-100 100" stroke="#ff7a28" stroke-width="1.2" stroke-opacity="0.5" fill="none"/>
<path d="M162.5 363.6l-100 100M162.5 363.6l100 100" stroke="#fb7426" stroke-width="1.2" stroke-opacity="0.5" fill="none"/>
<path d="M75.9 363.6l-100 100M75.9 363.6l100 100" stroke="#ff6a20" stroke-width="1.2" stroke-opacity="0.5" fill="none"/>
<path d="M178.4 363.6l-100 100M178.4 363.6l100 100" stroke="#ee4012" stroke-width="0.5" stroke-opacity="0.5" fill="none"/>
<path d="M87.6 363.6l-100 100M87.6 363.6l100 100" stroke="#ff7a28" stroke-width="0.8" stroke-opacity="0.5" fill="none"/>
<path d="M97 363.6l-100 100M97 363.6l100 100" stroke="#ff7a28" stroke-width="1.2" stroke-opacity="0.5" fill="none"/>
<path d="M182.4 363.6l-100 100" stroke="#e8360f" stroke-width="1.2" stroke-opacity="0.5" fill="none"/>
<path d="M135.1 363.6l-100 100M135.1 363.6l100 100" stroke="#ff7a28" stroke-width="1.2" stroke-opacity="0.5" fill="none"/>
<path d="M94.3 363.6l-100 100M94.3 363.6l100 100" stroke="#e8360f" stroke-width="1.2" stroke-opacity="0.5" fill="none"/>
<path d="M154.6 363.6l100 100" stroke="#e8360f" stroke-width="0.8" stroke-opacity="0.5" fill="none"/>
<path d="M61 363.6l-100 100M61 363.6l100 100" stroke="#e8360f" stroke-width="0.8" stroke-opacity="0.5" fill="none"/>
<path d="M84.9 363.6l-100 100M84.9 363.6l100 100" stroke="#e8360f" stroke-width="0.8" stroke-opacity="0.5" fill="none"/>
<path d="M157.2 363.6l-100 100M157.2 363.6l100 100" stroke="#fb7426" stroke-width="1.8" stroke-opacity="0.5" fill="none"/>
<path d="M101.4 363.6l-100 100M101.4 363.6l100 100" stroke="#ff6a20" stroke-width="0.5" stroke-opacity="0.5" fill="none"/>
<path d="M193.5 363.6l-100 100" stroke="#ff7a28" stroke-width="1.2" stroke-opacity="0.5" fill="none"/>
<path d="M229 363.6l-100 100M229 363.6l100 100" stroke="#ff7a28" stroke-width="1.2" stroke-opacity="0.5" fill="none"/>
<path d="M74.1 363.6l-100 100M74.1 363.6l100 100" stroke="#ff6a20" stroke-width="1.8" stroke-opacity="0.5" fill="none"/>
<path d="M156.3 363.6l-100 100M156.3 363.6l100 100" stroke="#ff6a20" stroke-width="0.8" stroke-opacity="0.5" fill="none"/>
<path d="M161.9 363.6l100 100" stroke="#ff7a28" stroke-width="0.5" stroke-opacity="0.5" fill="none"/>
<path d="M146.1 363.6l-100 100M146.1 363.6l100 100" stroke="#e8360f" stroke-width="1.2" stroke-opacity="0.5" fill="none"/>
<path d="M124.5 363.6L86 402.1L137.5 455.3L177 414.1L126.5 363.6Z" fill="#ff8a2a" fill-opacity="0.35"/>
<path d="M47.5 363.6l-100 100M47.5 363.6l100 100" stroke="#fff" stroke-width="0.5" stroke-opacity="0.75" fill="none"/>
<path d="M50 363.6l-100 100M50 363.6l100 100" stroke="#fff" stroke-width="0.4" stroke-opacity="1.0" fill="none"/>
<path d="M53.5 363.6l-100 100M53.5 363.6l100 100" stroke="#fff" stroke-width="0.5" stroke-opacity="0.9" fill="none"/>
<path d="M57 363.6l-100 100M57 363.6l100 100" stroke="#fff" stroke-width="0.5" stroke-opacity="0.9" fill="none"/>
<path d="" stroke="#fff" stroke-width="0.6" stroke-opacity="1.0" fill="none"/>
<path d="M66 363.6l-100 100M66 363.6l100 100" stroke="#fff" stroke-width="0.4" stroke-opacity="0.9" fill="none"/>
<path d="M72.2 363.6l-100 100M72.2 363.6l100 100" stroke="#fff" stroke-width="0.6" stroke-opacity="1.0" fill="none"/>
<path d="M76.5 363.6l-100 100M76.5 363.6l100 100" stroke="#fff" stroke-width="0.4" stroke-opacity="0.9" fill="none"/>
<path d="M80.9 363.6l-100 100M80.9 363.6l100 100" stroke="#fff" stroke-width="0.6" stroke-opacity="1.0" fill="none"/>
<path d="M84.5 363.6l100 100" stroke="#fff" stroke-width="0.6" stroke-opacity="1.0" fill="none"/>
<path d="M88.1 363.6l-100 100M88.1 363.6l100 100" stroke="#fff" stroke-width="0.6" stroke-opacity="1.0" fill="none"/>
<path d="M96.1 363.6l-100 100M96.1 363.6l100 100" stroke="#fff" stroke-width="0.4" stroke-opacity="0.9" fill="none"/>
<path d="M104.1 363.6l-100 100M104.1 363.6l100 100" stroke="#fff" stroke-width="0.6" stroke-opacity="0.75" fill="none"/>
<path d="M143.3 363.6l-100 100M143.3 363.6l100 100" stroke="#fff" stroke-width="0.5" stroke-opacity="0.9" fill="none"/>
<path d="M151.3 363.6l-100 100M151.3 363.6l100 100" stroke="#fff" stroke-width="0.4" stroke-opacity="0.9" fill="none"/>
<path d="M162.9 363.6l-100 100M162.9 363.6l100 100" stroke="#fff" stroke-width="0.4" stroke-opacity="0.75" fill="none"/>
<path d="M171.6 363.6l-100 100M171.6 363.6l100 100" stroke="#fff" stroke-width="0.5" stroke-opacity="1.0" fill="none"/>
<path d="M180.3 363.6l-100 100M180.3 363.6l100 100" stroke="#fff" stroke-width="0.6" stroke-opacity="0.75" fill="none"/>
<path d="M186.1 363.6l-100 100M186.1 363.6l100 100" stroke="#fff" stroke-width="0.6" stroke-opacity="1.0" fill="none"/>
<path d="M192 363.6l-100 100M192 363.6l100 100" stroke="#fff" stroke-width="0.4" stroke-opacity="0.75" fill="none"/>
<path d="M197 363.6l-100 100M197 363.6l100 100" stroke="#fff" stroke-width="0.4" stroke-opacity="0.75" fill="none"/>
<path d="M203 363.6l100 100" stroke="#fff" stroke-width="0.5" stroke-opacity="1.0" fill="none"/>
<path d="M208 363.6l-100 100M208 363.6l100 100" stroke="#fff" stroke-width="0.5" stroke-opacity="1.0" fill="none"/>
<path d="M213 363.6l-100 100" stroke="#fff" stroke-width="0.6" stroke-opacity="0.9" fill="none"/>
<path d="M217.5 363.6l-100 100M217.5 363.6l100 100" stroke="#fff" stroke-width="0.5" stroke-opacity="0.75" fill="none"/>
<path d="M222 363.6l100 100" stroke="#fff" stroke-width="0.4" stroke-opacity="0.9" fill="none"/>
<path d="M226 363.6l-100 100M226 363.6l100 100" stroke="#fff" stroke-width="0.6" stroke-opacity="0.9" fill="none"/>
<path d="M113.5 363.6l-100 100M113.5 363.6l100 100" stroke="#fff" stroke-width="0.8" stroke-opacity="1.0" fill="none"/>
<path d="M116.5 363.6l-100 100" stroke="#ffd9a0" stroke-width="0.7" stroke-opacity="0.8" fill="none"/>
<path d="M62.5 363.6l-100 100M62.5 363.6l100 100" stroke="#ffe9a0" stroke-width="0.8" stroke-opacity="0.9" fill="none"/>
<path d="M199.5 363.6l-100 100M199.5 363.6l100 100" stroke="#ffe08a" stroke-width="0.7" stroke-opacity="0.8" fill="none"/>
<path d="M124.3 363.6l-100 100" stroke="#fff01e" stroke-width="2.5" fill="none"/>
<path d="M126.4 363.6l100 100" stroke="#fff01e" stroke-width="2.5" fill="none"/>
<path d="M122.4 363.6l-100 100M128.4 363.6l100 100" stroke="#fff" stroke-width="0.5" fill="none"/>
</g>
<rect x="153.8" y="461.8" width="81.6" height="8.6" fill="url(#key)" stroke="#444" stroke-width="0.5"/>
<text x="194.6" y="461.2" font-size="6.6" text-anchor="middle" fill="#222">R<tspan font-size="4.2" dy="-2.6">2</tspan><tspan dy="2.6"> Color Key</tspan></text>
<text x="153.8" y="476.4" font-size="4.5" text-anchor="middle" fill="#222">0</text>
<text x="170.1" y="476.4" font-size="4.5" text-anchor="middle" fill="#222">0.2</text>
<text x="186.4" y="476.4" font-size="4.5" text-anchor="middle" fill="#222">0.4</text>
<text x="202.8" y="476.4" font-size="4.5" text-anchor="middle" fill="#222">0.6</text>
<text x="219.1" y="476.4" font-size="4.5" text-anchor="middle" fill="#222">0.8</text>
<text x="235.4" y="476.4" font-size="4.5" text-anchor="middle" fill="#222">1</text>
<path d="M153.8 470.4v2M170.1 470.4v2M186.4 470.4v2M202.8 470.4v2M219.1 470.4v2M235.4 470.4v2" stroke="#000" stroke-width="0.4" fill="none"/>
</g>
<g>
<text x="273.6" y="156.5" font-size="13" font-weight="bold">d</text>
<text x="320.6" y="170.6" font-size="5.85" font-weight="bold" text-anchor="middle">29,275,632</text>
<text x="378" y="171.5" font-size="5.85" font-weight="bold" text-anchor="middle">29,276,643</text>
<text x="454" y="170.2" font-size="5.85" font-weight="bold" text-anchor="middle">29,277,632</text>
<text x="453.3" y="175.8" font-size="4.4" font-weight="bold" text-anchor="middle">ATG</text>
<text x="568.3" y="170.2" font-size="5.85" font-weight="bold" text-anchor="middle">29,279,308</text>
<text x="570" y="175.8" font-size="4.4" font-weight="bold" text-anchor="middle">TGA</text>
<text x="281.6" y="184.4" font-size="5.2" font-weight="bold" font-style="italic" text-anchor="start" fill="#000">CsPPR <tspan font-size="2.9" dy="-1.6">Hap1</tspan></text>
<text x="282.4" y="201.8" font-size="5.2" font-weight="bold" font-style="italic" text-anchor="start" fill="#000">CsPPR <tspan font-size="2.9" dy="-1.6">Hap2</tspan></text>
<path d="M310 182.7H374" stroke="#f08232" stroke-width="1.3"/>
<path d="M310 200H374" stroke="#1ca7ec" stroke-width="1.7"/>
<rect x="373.6" y="178.2" width="222.0" height="8.2" fill="#fff" stroke="#000" stroke-width="0.5"/>
<rect x="373.6" y="195.2" width="222.0" height="8.3" fill="#fff" stroke="#000" stroke-width="0.5"/>
<rect x="452.4" y="178.5" width="121.2" height="7.6" fill="#f08232"/>
<rect x="452.4" y="195.5" width="121.2" height="7.7" fill="#1ca7ec"/>
<path d="M373.6 178.2V203.5M452.2 178.2V203.5M573.8 178.2V186.4M573.8 195.2V203.5" stroke="#000" stroke-width="0.5" fill="none"/>
<path d="M319.4 177.3V205.2M319.4 207.3L316.7 218M324.4 177.3V205.2M324.4 207.3L330.3 218M335.9 177.3V205.2M335.9 207.3L343.8 218M343.6 177.3V205.2M343.6 207.3L357.4 218M350.8 177.3V205.2M350.8 207.3L371 218M354.4 177.3V205.2M354.4 207.3L384.6 218M357.2 177.3V205.2M357.2 207.3L398.1 218M360.7 177.3V205.2M360.7 207.3L411.7 218M365 177.3V205.2M365 207.3L425.3 218M369.6 177.3V205.2M369.6 207.3L438.9 218M372.6 177.3V205.2M372.6 207.3L452.4 218M401.5 178.2V205.2M401.5 207.3L466 218M420.3 178.2V205.2M420.3 207.3L479.6 218M429.4 178.2V205.2M429.4 207.3L493.2 218M435.8 178.2V205.2M435.8 207.3L506.7 218M437.4 178.2V205.2M437.4 207.3L520.3 218M449 178.2V205.2M449 207.3L533.9 218M451.8 178.2V205.2M451.8 207.3L547.5 218M512 178.2V205.2L562.5 218M577.9 178.2V205.2M577.9 207.3L574.6 218M585.8 178.2V205.2M585.8 207.3L588.2 218" stroke="#000" stroke-width="0.65" fill="none"/>
<rect x="278.6" y="230.7" width="316.4" height="12.2" fill="#f08232"/>
<rect x="278.6" y="242.9" width="316.4" height="12" fill="#1ca7ec"/>
<path d="M278.6 218H595M278.6 230.7H595M278.6 242.9H595M278.6 254.9H595M309.9 218V254.9M323.5 218V254.9M337 218V254.9M350.6 218V254.9M364.2 218V254.9M377.8 218V254.9M391.3 218V254.9M404.9 218V254.9M418.5 218V254.9M432.1 218V254.9M445.6 218V254.9M459.2 218V254.9M472.8 218V254.9M486.4 218V254.9M499.9 218V254.9M513.5 218V254.9M527.1 218V254.9M540.7 218V254.9M554.2 218V254.9M567.8 218V254.9M581.4 218V254.9M595 218V254.9" stroke="#222" stroke-width="0.6" fill="none"/>
<text x="291.7" y="226.4" font-size="5.2" text-anchor="middle">Genotype</text>
<text x="281.2" y="238.6" font-size="5.2" font-weight="bold" font-style="italic" text-anchor="start" fill="#06183c">CsPPR <tspan font-size="2.9" dy="-1.6">Hap1</tspan></text>
<text x="281.2" y="250.7" font-size="5.2" font-weight="bold" font-style="italic" text-anchor="start" fill="#06183c">CsPPR <tspan font-size="2.9" dy="-1.6">Hap2</tspan></text>
<text x="316.7" y="223.8" font-size="4.3" font-weight="bold" text-anchor="middle" fill="#f01414">2927</text>
<text x="316.7" y="229" font-size="4.3" font-weight="bold" text-anchor="middle" fill="#f01414">5643</text>
<text x="316.7" y="238.6" font-size="4.8" font-weight="bold" text-anchor="middle" fill="#06183c">T</text>
<text x="316.7" y="250.7" font-size="4.8" font-weight="bold" text-anchor="middle" fill="#f01414">A</text>
<text x="330.3" y="223.8" font-size="4.3" font-weight="bold" text-anchor="middle">2927</text>
<text x="330.3" y="229" font-size="4.3" font-weight="bold" text-anchor="middle">5668</text>
<text x="330.3" y="238.6" font-size="4.8" font-weight="bold" text-anchor="middle" fill="#06183c">A</text>
<text x="330.3" y="250.7" font-size="4.8" font-weight="bold" text-anchor="middle" fill="#06183c">C</text>
<text x="343.8" y="223.8" font-size="4.3" font-weight="bold" text-anchor="middle">2927</text>
<text x="343.8" y="229" font-size="4.3" font-weight="bold" text-anchor="middle">5838</text>
<text x="343.8" y="238.6" font-size="4.8" font-weight="bold" text-anchor="middle" fill="#06183c">C</text>
<text x="343.8" y="250.7" font-size="4.8" font-weight="bold" text-anchor="middle" fill="#06183c">T</text>
<text x="357.4" y="223.8" font-size="4.3" font-weight="bold" text-anchor="middle">2927</text>
<text x="357.4" y="229" font-size="4.3" font-weight="bold" text-anchor="middle">6130</text>
<text x="357.4" y="238.6" font-size="4.8" font-weight="bold" text-anchor="middle" fill="#06183c">G</text>
<text x="357.4" y="250.7" font-size="4.8" font-weight="bold" text-anchor="middle" fill="#06183c">A</text>
<text x="371" y="223.8" font-size="4.3" font-weight="bold" text-anchor="middle" fill="#f01414">2927</text>
<text x="371" y="229" font-size="4.3" font-weight="bold" text-anchor="middle" fill="#f01414">6402</text>
<text x="371" y="238.6" font-size="4.8" font-weight="bold" text-anchor="middle" fill="#06183c">T</text>
<text x="371" y="250.7" font-size="4.8" font-weight="bold" text-anchor="middle" fill="#f01414">C</text>
<text x="384.6" y="223.8" font-size="4.3" font-weight="bold" text-anchor="middle">2927</text>
<text x="384.6" y="229" font-size="4.3" font-weight="bold" text-anchor="middle">6425</text>
<text x="384.6" y="238.6" font-size="4.8" font-weight="bold" text-anchor="middle" fill="#06183c">T</text>
<text x="384.6" y="250.7" font-size="4.8" font-weight="bold" text-anchor="middle" fill="#06183c">G</text>
<text x="398.1" y="223.8" font-size="4.3" font-weight="bold" text-anchor="middle">2927</text>
<text x="398.1" y="229" font-size="4.3" font-weight="bold" text-anchor="middle">6485</text>
<text x="398.1" y="238.6" font-size="4.8" font-weight="bold" text-anchor="middle" fill="#06183c">T</text>
<text x="398.1" y="250.7" font-size="4.8" font-weight="bold" text-anchor="middle" fill="#06183c">A</text>
<text x="411.7" y="223.8" font-size="4.3" font-weight="bold" text-anchor="middle">2927</text>
<text x="411.7" y="229" font-size="4.3" font-weight="bold" text-anchor="middle">6486</text>
<text x="411.7" y="238.6" font-size="4.8" font-weight="bold" text-anchor="middle" fill="#06183c">T</text>
<text x="411.7" y="250.7" font-size="4.8" font-weight="bold" text-anchor="middle" fill="#06183c">A</text>
<text x="425.3" y="223.8" font-size="4.3" font-weight="bold" text-anchor="middle">2927</text>
<text x="425.3" y="229" font-size="4.3" font-weight="bold" text-anchor="middle">6505</text>
<text x="425.3" y="238.6" font-size="4.8" font-weight="bold" text-anchor="middle" fill="#06183c">A</text>
<text x="425.3" y="250.7" font-size="4.8" font-weight="bold" text-anchor="middle" fill="#06183c">T</text>
<text x="438.9" y="223.8" font-size="4.3" font-weight="bold" text-anchor="middle">2927</text>
<text x="438.9" y="229" font-size="4.3" font-weight="bold" text-anchor="middle">6512</text>
<text x="438.9" y="238.6" font-size="4.8" font-weight="bold" text-anchor="middle" fill="#06183c">G</text>
<text x="438.9" y="250.7" font-size="4.8" font-weight="bold" text-anchor="middle" fill="#06183c">A</text>
<text x="452.4" y="223.8" font-size="4.3" font-weight="bold" text-anchor="middle" fill="#f01414">2927</text>
<text x="452.4" y="229" font-size="4.3" font-weight="bold" text-anchor="middle" fill="#f01414">6532</text>
<text x="452.4" y="238.6" font-size="4.8" font-weight="bold" text-anchor="middle" fill="#06183c">C</text>
<text x="452.4" y="250.7" font-size="4.8" font-weight="bold" text-anchor="middle" fill="#f01414">T</text>
<text x="466" y="223.8" font-size="4.3" font-weight="bold" text-anchor="middle">2927</text>
<text x="466" y="229" font-size="4.3" font-weight="bold" text-anchor="middle">6930</text>
<text x="466" y="238.6" font-size="4.8" font-weight="bold" text-anchor="middle" fill="#06183c">T</text>
<text x="466" y="250.7" font-size="4.8" font-weight="bold" text-anchor="middle" fill="#06183c">G</text>
<text x="479.6" y="223.8" font-size="4.3" font-weight="bold" text-anchor="middle">2927</text>
<text x="479.6" y="229" font-size="4.3" font-weight="bold" text-anchor="middle">6975</text>
<text x="479.6" y="238.6" font-size="4.8" font-weight="bold" text-anchor="middle" fill="#06183c">C</text>
<text x="479.6" y="250.7" font-size="4.8" font-weight="bold" text-anchor="middle" fill="#06183c">T</text>
<text x="493.2" y="223.8" font-size="4.3" font-weight="bold" text-anchor="middle" fill="#f01414">2927</text>
<text x="493.2" y="229" font-size="4.3" font-weight="bold" text-anchor="middle" fill="#f01414">7326</text>
<text x="493.2" y="238.6" font-size="4.8" font-weight="bold" text-anchor="middle" fill="#06183c">A</text>
<text x="493.2" y="250.7" font-size="4.8" font-weight="bold" text-anchor="middle" fill="#f01414">T</text>
<text x="506.7" y="223.8" font-size="4.3" font-weight="bold" text-anchor="middle">2927</text>
<text x="506.7" y="229" font-size="4.3" font-weight="bold" text-anchor="middle">7386</text>
<text x="506.7" y="238.6" font-size="4.8" font-weight="bold" text-anchor="middle" fill="#06183c">G</text>
<text x="506.7" y="250.7" font-size="4.8" font-weight="bold" text-anchor="middle" fill="#06183c">C</text>
<text x="520.3" y="223.8" font-size="4.3" font-weight="bold" text-anchor="middle">2927</text>
<text x="520.3" y="229" font-size="4.3" font-weight="bold" text-anchor="middle">7476</text>
<text x="520.3" y="238.6" font-size="4.8" font-weight="bold" text-anchor="middle" fill="#06183c">C</text>
<text x="520.3" y="250.7" font-size="4.8" font-weight="bold" text-anchor="middle" fill="#06183c">T</text>
<text x="533.9" y="223.8" font-size="4.3" font-weight="bold" text-anchor="middle">2927</text>
<text x="533.9" y="229" font-size="4.3" font-weight="bold" text-anchor="middle">7536</text>
<text x="533.9" y="238.6" font-size="4.8" font-weight="bold" text-anchor="middle" fill="#06183c">C</text>
<text x="533.9" y="250.7" font-size="4.8" font-weight="bold" text-anchor="middle" fill="#06183c">G</text>
<text x="547.5" y="223.8" font-size="4.3" font-weight="bold" text-anchor="middle" fill="#f01414">2927</text>
<text x="547.5" y="229" font-size="4.3" font-weight="bold" text-anchor="middle" fill="#f01414">7564</text>
<text x="547.5" y="238.6" font-size="4.8" font-weight="bold" text-anchor="middle" fill="#06183c">A</text>
<text x="547.5" y="250.7" font-size="4.8" font-weight="bold" text-anchor="middle" fill="#f01414">G</text>
<text x="561" y="223.8" font-size="4.3" font-weight="bold" text-anchor="middle" fill="#f01414">2927</text>
<text x="561" y="229" font-size="4.3" font-weight="bold" text-anchor="middle" fill="#f01414">8310</text>
<text x="561" y="238.6" font-size="4.8" font-weight="bold" text-anchor="middle" fill="#06183c">C</text>
<text x="561" y="250.7" font-size="4.8" font-weight="bold" text-anchor="middle" fill="#f01414">T</text>
<text x="574.6" y="223.8" font-size="4.3" font-weight="bold" text-anchor="middle">2927</text>
<text x="574.6" y="229" font-size="4.3" font-weight="bold" text-anchor="middle">9172</text>
<text x="574.6" y="238.6" font-size="4.8" font-weight="bold" text-anchor="middle" fill="#06183c">C</text>
<text x="574.6" y="250.7" font-size="4.8" font-weight="bold" text-anchor="middle" fill="#06183c">T</text>
<text x="588.2" y="223.8" font-size="4.3" font-weight="bold" text-anchor="middle">2927</text>
<text x="588.2" y="229" font-size="4.3" font-weight="bold" text-anchor="middle">9199</text>
<text x="588.2" y="238.6" font-size="4.8" font-weight="bold" text-anchor="middle" fill="#06183c">T</text>
<text x="588.2" y="250.7" font-size="4.8" font-weight="bold" text-anchor="middle" fill="#06183c">C</text>
<path d="M314 256.6h1.8v2.4h1.4l-2.3 2.8l-2.3 -2.8h1.4z" fill="#1ca7ec" stroke="#06183c" stroke-width="0.4" stroke-linejoin="round"/>
<rect x="304.2" y="263.9" width="21.4" height="17.7" rx="2.2" fill="#1ca7ec" stroke="#06183c" stroke-width="0.5"/>
<text x="314.9" y="271.8" font-size="4.6" font-weight="bold" text-anchor="middle" fill="#06183c">CAAT</text>
<text x="314.9" y="277" font-size="4.6" font-weight="bold" text-anchor="middle" fill="#06183c">box</text>
<path d="M370.1 256.6h1.8v2.4h1.4l-2.3 2.8l-2.3 -2.8h1.4z" fill="#1ca7ec" stroke="#06183c" stroke-width="0.4" stroke-linejoin="round"/>
<rect x="360.4" y="263.9" width="21.8" height="17.7" rx="2.2" fill="#1ca7ec" stroke="#06183c" stroke-width="0.5"/>
<text x="371.3" y="271.8" font-size="4.6" font-weight="bold" text-anchor="middle" fill="#06183c">TATA</text>
<text x="371.3" y="277" font-size="4.6" font-weight="bold" text-anchor="middle" fill="#06183c">box</text>
<path d="M450.9 256.6h1.8v2.4h1.4l-2.3 2.8l-2.3 -2.8h1.4z" fill="#f08232" stroke="#06183c" stroke-width="0.4" stroke-linejoin="round"/>
<rect x="438" y="263.4" width="27.6" height="16.8" rx="2.2" fill="#f08232" stroke="#06183c" stroke-width="0.5"/>
<text x="451.8" y="269.3" font-size="3.3" font-weight="bold" text-anchor="middle" fill="#06183c">MYB</text>
<text x="451.8" y="273" font-size="3.3" font-weight="bold" text-anchor="middle" fill="#06183c">recognition</text>
<text x="451.8" y="276.7" font-size="3.3" font-weight="bold" text-anchor="middle" fill="#06183c">site</text>
<path d="M492.7 256.6h1.8v2.4h1.4l-2.3 2.8l-2.3 -2.8h1.4z" fill="#1ca7ec" stroke="#06183c" stroke-width="0.4" stroke-linejoin="round"/>
<rect x="482.5" y="263.9" width="22.9" height="17.7" rx="2.2" fill="#1ca7ec" stroke="#06183c" stroke-width="0.5"/>
<text x="493.9" y="271.8" font-size="4.6" font-weight="bold" text-anchor="middle" fill="#06183c">CAAT</text>
<text x="493.9" y="277" font-size="4.6" font-weight="bold" text-anchor="middle" fill="#06183c">box</text>
<path d="M547.4 256.6h1.8v2.4h1.4l-2.3 2.8l-2.3 -2.8h1.4z" fill="#1ca7ec" stroke="#06183c" stroke-width="0.4" stroke-linejoin="round"/>
<rect x="530.7" y="263.9" width="21.7" height="17.7" rx="2.2" fill="#1ca7ec" stroke="#06183c" stroke-width="0.5"/>
<text x="541.5" y="271.8" font-size="4.6" font-weight="bold" text-anchor="middle" fill="#06183c">CAAT</text>
<text x="541.5" y="277" font-size="4.6" font-weight="bold" text-anchor="middle" fill="#06183c">box</text>
<path d="M561.7 256.6h1.8v2.4h1.4l-2.3 2.8l-2.3 -2.8h1.4z" fill="#1ca7ec" stroke="#06183c" stroke-width="0.4" stroke-linejoin="round"/>
<rect x="556.4" y="271.7" width="57.4" height="8.4" fill="#f08232"/>
<rect x="556.4" y="280.1" width="57.4" height="8.5" fill="#1ca7ec"/>
<path d="M556.4 264H613.8M556.4 271.7H613.8M556.4 280.1H613.8M556.4 288.6H613.8M580.5 264V288.6" stroke="#222" stroke-width="0.5" fill="none"/>
<text x="568.5" y="269.5" font-size="4.4" text-anchor="middle">AA</text>
<text x="597.1" y="269.5" font-size="4.4" text-anchor="middle">Genotype</text>
<text x="568.5" y="277.4" font-size="4.2" font-weight="bold" text-anchor="middle" fill="#06183c">GG<tspan fill="#f01414">T</tspan>(G)</text>
<text x="568.5" y="285.9" font-size="4.2" font-weight="bold" text-anchor="middle" fill="#06183c">GGC(G)</text>
<text x="597.1" y="277.4" font-size="4.1" font-weight="bold" font-style="italic" text-anchor="middle" fill="#06183c">CsPPR <tspan font-size="2.3" dy="-1.2">Hap1</tspan></text>
<text x="597.1" y="285.9" font-size="4.1" font-weight="bold" font-style="italic" text-anchor="middle" fill="#06183c">CsPPR <tspan font-size="2.3" dy="-1.2">Hap2</tspan></text>
</g>
<g>
<text x="620.6" y="156.2" font-size="13" font-weight="bold">e</text>
<rect x="675.5" y="164.4" width="27.1" height="49.9" fill="#ff8a00" stroke="#222" stroke-width="0.6"/>
<rect x="675.5" y="214.3" width="27.1" height="47.9" fill="#55a8ff" stroke="#222" stroke-width="0.6"/>
<rect x="717.9" y="164.4" width="26.8" height="84.1" fill="#ff8a00" stroke="#222" stroke-width="0.6"/>
<rect x="717.9" y="248.5" width="26.8" height="13.7" fill="#55a8ff" stroke="#222" stroke-width="0.6"/>
<path d="M662 164.4H759V262.2H662ZM662 262.2h-3M662 242.6h-3M662 223.1h-3M662 203.5h-3M662 184h-3M662 164.4h-3M689 262.2v3M731.3 262.2v3" stroke="#000" stroke-width="1.05" fill="none"/>
<text x="658.6" y="265.1" font-size="8.2" font-weight="bold" text-anchor="end">0</text>
<text x="658.6" y="245.5" font-size="8.2" font-weight="bold" text-anchor="end">20</text>
<text x="658.6" y="226" font-size="8.2" font-weight="bold" text-anchor="end">40</text>
<text x="658.6" y="206.4" font-size="8.2" font-weight="bold" text-anchor="end">60</text>
<text x="658.6" y="186.9" font-size="8.2" font-weight="bold" text-anchor="end">80</text>
<text x="658.6" y="167.3" font-size="8.2" font-weight="bold" text-anchor="end">100</text>
<text x="676.6" y="203" font-size="6.1" font-weight="bold" fill="#0a1020">TTCAAC</text>
<text x="676.6" y="210.6" font-size="6.1" font-weight="bold" fill="#0a1020">(51%)</text>
<text x="676.6" y="220.3" font-size="6.1" font-weight="bold" fill="#0a1020">ACTTGT</text>
<text x="676.6" y="227.8" font-size="6.1" font-weight="bold" fill="#0a1020">(49%)</text>
<text x="719.1" y="237.4" font-size="6.1" font-weight="bold" fill="#0a1020">TTCAAC</text>
<text x="719.1" y="244.9" font-size="6.1" font-weight="bold" fill="#0a1020">(86%)</text>
<text x="719.1" y="254.3" font-size="6.1" font-weight="bold" fill="#0a1020">ACTTGT</text>
<text x="719.1" y="261.3" font-size="6.1" font-weight="bold" fill="#0a1020">(14%)</text>
<text x="692.3" y="272.3" font-size="7.7" font-weight="bold" text-anchor="end" transform="rotate(-45 692.3 272.3)">Suceptible</text>
<text x="734.6" y="272.3" font-size="7.7" font-weight="bold" text-anchor="end" transform="rotate(-45 734.6 272.3)">Resistance</text>
<rect x="764" y="168.8" width="9.4" height="4.6" fill="#ff8a00" stroke="#222" stroke-width="0.6"/>
<rect x="764" y="178.2" width="9.4" height="4.6" fill="#55a8ff" stroke="#222" stroke-width="0.6"/>
<text x="779.6" y="174" font-size="8">Hap1</text>
<text x="779.6" y="183.4" font-size="8">Hap2</text>
</g>
<g>
<text x="273.5" y="348.3" font-size="13" font-weight="bold">f</text>
<rect x="319.1" y="353.6" width="6.7" height="4.8" fill="#ff8a00" stroke="#222" stroke-width="0.5"/>
<rect x="319.1" y="358.4" width="6.7" height="75.1" fill="#55a8ff" stroke="#222" stroke-width="0.5"/>
<rect x="330" y="353.6" width="6.7" height="6.4" fill="#ff8a00" stroke="#222" stroke-width="0.5"/>
<rect x="330" y="360" width="6.7" height="73.5" fill="#55a8ff" stroke="#222" stroke-width="0.5"/>
<rect x="340.5" y="353.6" width="6.7" height="53.5" fill="#ff8a00" stroke="#222" stroke-width="0.5"/>
<rect x="340.5" y="407.1" width="6.7" height="26.4" fill="#55a8ff" stroke="#222" stroke-width="0.5"/>
<rect x="351.3" y="353.6" width="6.7" height="60.7" fill="#ff8a00" stroke="#222" stroke-width="0.5"/>
<rect x="351.3" y="414.3" width="6.7" height="19.2" fill="#55a8ff" stroke="#222" stroke-width="0.5"/>
<rect x="362.1" y="353.6" width="6.7" height="75.9" fill="#ff8a00" stroke="#222" stroke-width="0.5"/>
<rect x="362.1" y="429.5" width="6.7" height="4" fill="#55a8ff" stroke="#222" stroke-width="0.5"/>
<rect x="373" y="353.6" width="6.7" height="79.9" fill="#ff8a00" stroke="#222" stroke-width="0.5"/>
<rect x="383.8" y="353.6" width="6.7" height="79.9" fill="#ff8a00" stroke="#222" stroke-width="0.5"/>
<path d="M315 353.6H395.5V433.5H315ZM315 433.5h-2.6M315 417.5h-2.6M315 401.5h-2.6M315 385.6h-2.6M315 369.6h-2.6M315 353.6h-2.6M322.5 433.5v2.6M333.4 433.5v2.6M343.9 433.5v2.6M354.7 433.5v2.6M365.5 433.5v2.6M376.4 433.5v2.6M387.2 433.5v2.6" stroke="#000" stroke-width="0.95" fill="none"/>
<text x="311.2" y="435.6" font-size="5.8" font-weight="bold" text-anchor="end">0</text>
<text x="311.2" y="419.6" font-size="5.8" font-weight="bold" text-anchor="end">20</text>
<text x="311.2" y="403.6" font-size="5.8" font-weight="bold" text-anchor="end">40</text>
<text x="311.2" y="387.7" font-size="5.8" font-weight="bold" text-anchor="end">60</text>
<text x="311.2" y="371.7" font-size="5.8" font-weight="bold" text-anchor="end">80</text>
<text x="311.2" y="355.7" font-size="5.8" font-weight="bold" text-anchor="end">100</text>
<text x="322.5" y="357.4" font-size="5.2" text-anchor="middle" fill="#0a1a40">1</text>
<text x="322.5" y="364.4" font-size="5.2" text-anchor="middle" fill="#0a1a40">16</text>
<text x="333.4" y="357.4" font-size="5.2" text-anchor="middle" fill="#0a1a40">1</text>
<text x="333.4" y="365.6" font-size="5.2" text-anchor="middle" fill="#0a1a40">12</text>
<text x="343.9" y="406.2" font-size="5.2" text-anchor="middle" fill="#0a1a40">2</text>
<text x="343.9" y="413.2" font-size="5.2" text-anchor="middle" fill="#0a1a40">1</text>
<text x="354.7" y="412.4" font-size="5.2" text-anchor="middle" fill="#0a1a40">16</text>
<text x="354.7" y="419.8" font-size="5.2" text-anchor="middle" fill="#0a1a40">5</text>
<text x="365.5" y="426.4" font-size="5.2" text-anchor="middle" fill="#0a1a40">20</text>
<text x="365.5" y="432.4" font-size="5.2" text-anchor="middle" fill="#0a1a40">1</text>
<text x="376.4" y="431.8" font-size="5.2" text-anchor="middle" fill="#0a1a40">6</text>
<text x="387.2" y="431.8" font-size="5.2" text-anchor="middle" fill="#0a1a40">70</text>
<text x="323.9" y="440.6" font-size="6.3" font-weight="bold" text-anchor="end" transform="rotate(-50 323.9 440.6)">European type</text>
<text x="334.8" y="440.6" font-size="6.3" font-weight="bold" text-anchor="end" transform="rotate(-50 334.8 440.6)">American type</text>
<text x="345.3" y="440.6" font-size="6.3" font-weight="bold" text-anchor="end" transform="rotate(-50 345.3 440.6)">Indian type</text>
<text x="356.1" y="440.6" font-size="6.3" font-weight="bold" text-anchor="end" transform="rotate(-50 356.1 440.6)">South China type</text>
<text x="366.9" y="440.6" font-size="6.3" font-weight="bold" text-anchor="end" transform="rotate(-50 366.9 440.6)">Eurasian type</text>
<text x="377.8" y="440.6" font-size="6.3" font-weight="bold" text-anchor="end" transform="rotate(-50 377.8 440.6)">Japan type</text>
<text x="388.6" y="440.6" font-size="6.3" font-weight="bold" text-anchor="end" transform="rotate(-50 388.6 440.6)">North China type</text>
<rect x="399.4" y="356.4" width="6.8" height="4" fill="#ff8a00" stroke="#222" stroke-width="0.5"/>
<rect x="399.4" y="372.4" width="6.8" height="4" fill="#55a8ff" stroke="#222" stroke-width="0.5"/>
<text x="408.4" y="361" font-size="7.2">Hap1</text>
<text x="399" y="367.2" font-size="5.7">TTCAAC</text>
<text x="408.4" y="377" font-size="7.2">Hap2</text>
<text x="399" y="382.8" font-size="5.7">ACTTGT</text>
</g>
<g>
<text x="436.5" y="348" font-size="13" font-weight="bold">g</text>
<text x="534.6" y="349.4" font-size="7.7" font-weight="bold" text-anchor="middle" font-style="italic">CsaV3_1G044080</text>
<rect x="475.4" y="399.6" width="5.4" height="39.8" fill="#cfe2f8"/>
<rect x="481.9" y="399.6" width="5.4" height="39.8" fill="#4a9af0"/>
<rect x="488.4" y="399.6" width="5.4" height="39.8" fill="#fbc88e"/>
<rect x="494.9" y="399.6" width="5.4" height="39.8" fill="#f58a1e"/>
<rect x="506.8" y="425.4" width="5.4" height="13.9" fill="#cfe2f8"/>
<rect x="513.3" y="424.2" width="5.4" height="15.1" fill="#4a9af0"/>
<rect x="519.8" y="384.4" width="5.4" height="54.9" fill="#fbc88e"/>
<rect x="526.3" y="395.6" width="5.4" height="43.7" fill="#f58a1e"/>
<rect x="537.5" y="422.2" width="5.4" height="17.1" fill="#cfe2f8"/>
<rect x="544" y="410.7" width="5.4" height="28.6" fill="#4a9af0"/>
<rect x="550.5" y="427.4" width="5.4" height="11.9" fill="#fbc88e"/>
<rect x="557" y="418.6" width="5.4" height="20.7" fill="#f58a1e"/>
<rect x="568.2" y="430.6" width="5.4" height="8.7" fill="#cfe2f8"/>
<rect x="574.8" y="420.2" width="5.4" height="19.1" fill="#4a9af0"/>
<rect x="581.2" y="434.1" width="5.4" height="5.2" fill="#fbc88e"/>
<rect x="587.8" y="437.3" width="5.4" height="2" fill="#f58a1e"/>
<path d="M478.5 410.7V388.4M477.1 388.4h2.8M477.1 410.7h2.8M484.5 419.4V378.5M483.1 378.5h2.8M483.1 419.4h2.8M491.5 420.6V376.5M490.1 376.5h2.8M490.1 420.6h2.8M497.5 412.3V386.8M496.1 386.8h2.8M496.1 412.3h2.8M509.5 432.9V420.6M508.1 420.6h2.8M508.1 432.9h2.8M516.5 428.2V421M515.1 421h2.8M515.1 428.2h2.8M522.5 397.6V368.9M521.1 368.9h2.8M521.1 397.6h2.8M529.5 408.3V383.7M528.1 383.7h2.8M528.1 408.3h2.8M540.5 424.6V420.2M539.1 420.2h2.8M539.1 424.6h2.8M546.5 414.7V407.5M545.1 407.5h2.8M545.1 414.7h2.8M553.5 432.1V419.4M552.1 419.4h2.8M552.1 432.1h2.8M559.5 427.4V409.5M558.1 409.5h2.8M558.1 427.4h2.8M570.5 436.1V424.2M569.1 424.2h2.8M569.1 436.1h2.8M577.5 424.2V416.6M576.1 416.6h2.8M576.1 424.2h2.8M583.5 439.3V425.4M582.1 425.4h2.8M582.1 439.3h2.8M590.5 439.3V435.3M589.1 435.3h2.8M589.1 439.3h2.8" stroke="#000" stroke-width="1" fill="none"/>
<circle cx="478.1" cy="400.3" r="1.25" fill="#fff" fill-opacity="0.6" stroke="#000" stroke-width="0.5"/>
<circle cx="478.1" cy="410.7" r="1.25" fill="#fff" fill-opacity="0.6" stroke="#000" stroke-width="0.5"/>
<circle cx="478.1" cy="388.4" r="1.25" fill="#fff" fill-opacity="0.6" stroke="#000" stroke-width="0.5"/>
<circle cx="484.6" cy="402.3" r="1.15" fill="#111"/>
<circle cx="484.6" cy="418.6" r="1.15" fill="#111"/>
<circle cx="484.6" cy="378.5" r="1.15" fill="#111"/>
<circle cx="491.1" cy="403.5" r="1.25" fill="#fff" fill-opacity="0.6" stroke="#000" stroke-width="0.5"/>
<circle cx="491.1" cy="420.2" r="1.25" fill="#fff" fill-opacity="0.6" stroke="#000" stroke-width="0.5"/>
<circle cx="491.1" cy="376.5" r="1.25" fill="#fff" fill-opacity="0.6" stroke="#000" stroke-width="0.5"/>
<path d="M497.6 398.9l1.3 2.3h-2.6z" fill="#111"/>
<path d="M497.6 410.1l1.3 2.3h-2.6z" fill="#111"/>
<path d="M497.6 385.4l1.3 2.3h-2.6z" fill="#111"/>
<circle cx="509.5" cy="422.2" r="1.25" fill="#fff" fill-opacity="0.6" stroke="#000" stroke-width="0.5"/>
<circle cx="509.5" cy="432.5" r="1.25" fill="#fff" fill-opacity="0.6" stroke="#000" stroke-width="0.5"/>
<circle cx="509.5" cy="421" r="1.25" fill="#fff" fill-opacity="0.6" stroke="#000" stroke-width="0.5"/>
<circle cx="516" cy="425.4" r="1.15" fill="#111"/>
<circle cx="516" cy="426.6" r="1.15" fill="#111"/>
<circle cx="516" cy="421.4" r="1.15" fill="#111"/>
<circle cx="522.5" cy="391.6" r="1.25" fill="#fff" fill-opacity="0.6" stroke="#000" stroke-width="0.5"/>
<circle cx="522.5" cy="395.6" r="1.25" fill="#fff" fill-opacity="0.6" stroke="#000" stroke-width="0.5"/>
<circle cx="522.5" cy="369.3" r="1.25" fill="#fff" fill-opacity="0.6" stroke="#000" stroke-width="0.5"/>
<path d="M529 396.2l1.3 2.3h-2.6z" fill="#111"/>
<path d="M529 406.1l1.3 2.3h-2.6z" fill="#111"/>
<path d="M529 382.3l1.3 2.3h-2.6z" fill="#111"/>
<circle cx="540.2" cy="422.6" r="1.25" fill="#fff" fill-opacity="0.6" stroke="#000" stroke-width="0.5"/>
<circle cx="540.2" cy="423.4" r="1.25" fill="#fff" fill-opacity="0.6" stroke="#000" stroke-width="0.5"/>
<circle cx="540.2" cy="420.6" r="1.25" fill="#fff" fill-opacity="0.6" stroke="#000" stroke-width="0.5"/>
<circle cx="546.8" cy="411.5" r="1.15" fill="#111"/>
<circle cx="546.8" cy="413.1" r="1.15" fill="#111"/>
<circle cx="546.8" cy="407.5" r="1.15" fill="#111"/>
<circle cx="553.2" cy="430.6" r="1.25" fill="#fff" fill-opacity="0.6" stroke="#000" stroke-width="0.5"/>
<circle cx="553.2" cy="431.4" r="1.25" fill="#fff" fill-opacity="0.6" stroke="#000" stroke-width="0.5"/>
<circle cx="553.2" cy="420.2" r="1.25" fill="#fff" fill-opacity="0.6" stroke="#000" stroke-width="0.5"/>
<path d="M559.8 421.2l1.3 2.3h-2.6z" fill="#111"/>
<path d="M559.8 422l1.3 2.3h-2.6z" fill="#111"/>
<path d="M559.8 408.5l1.3 2.3h-2.6z" fill="#111"/>
<circle cx="571" cy="432.1" r="1.25" fill="#fff" fill-opacity="0.6" stroke="#000" stroke-width="0.5"/>
<circle cx="571" cy="433.3" r="1.25" fill="#fff" fill-opacity="0.6" stroke="#000" stroke-width="0.5"/>
<circle cx="571" cy="424.2" r="1.25" fill="#fff" fill-opacity="0.6" stroke="#000" stroke-width="0.5"/>
<circle cx="577.5" cy="421.4" r="1.15" fill="#111"/>
<circle cx="577.5" cy="422.6" r="1.15" fill="#111"/>
<circle cx="577.5" cy="417" r="1.15" fill="#111"/>
<circle cx="584" cy="435.3" r="1.25" fill="#fff" fill-opacity="0.6" stroke="#000" stroke-width="0.5"/>
<circle cx="584" cy="437.3" r="1.25" fill="#fff" fill-opacity="0.6" stroke="#000" stroke-width="0.5"/>
<circle cx="584" cy="425.8" r="1.25" fill="#fff" fill-opacity="0.6" stroke="#000" stroke-width="0.5"/>
<path d="M590.5 435.9l1.3 2.3h-2.6z" fill="#111"/>
<path d="M590.5 436.7l1.3 2.3h-2.6z" fill="#111"/>
<path d="M590.5 434.3l1.3 2.3h-2.6z" fill="#111"/>
<path d="M472.6 359.8V439.3H594.6M472.6 439.3h-2.4M472.6 419.4h-2.4M472.6 399.6h-2.4M472.6 379.7h-2.4M472.6 359.8h-2.4M487.8 439.3v2.4M519.3 439.3v2.4M550 439.3v2.4M580.7 439.3v2.4" stroke="#000" stroke-width="0.95" fill="none"/>
<text x="469.4" y="441.3" font-size="5.8" font-weight="bold" text-anchor="end">0.0</text>
<text x="469.4" y="421.4" font-size="5.8" font-weight="bold" text-anchor="end">0.5</text>
<text x="469.4" y="401.6" font-size="5.8" font-weight="bold" text-anchor="end">1.0</text>
<text x="469.4" y="381.7" font-size="5.8" font-weight="bold" text-anchor="end">1.5</text>
<text x="469.4" y="361.8" font-size="5.8" font-weight="bold" text-anchor="end">2.0</text>
<text x="487.8" y="450.4" font-size="5.8" font-weight="bold" text-anchor="middle">0d</text>
<text x="519.3" y="450.4" font-size="5.8" font-weight="bold" text-anchor="middle">1d</text>
<text x="550" y="450.4" font-size="5.8" font-weight="bold" text-anchor="middle">3d</text>
<text x="580.7" y="450.4" font-size="5.8" font-weight="bold" text-anchor="middle">7d</text>
<text x="458.2" y="399.6" font-size="6.7" font-weight="bold" text-anchor="middle" transform="rotate(-90 458.2 399.6)">Relative expression level</text>
<path d="M513.2 413V364.3H527.6V369" stroke="#000" stroke-width="1.2" fill="none"/>
<text x="520.8" y="364.2" font-size="10.5" font-weight="bold" text-anchor="middle" letter-spacing="1">**</text>
<rect x="590.2" y="357.4" width="8" height="3.2" fill="#cfe2f8"/>
<text x="602.6" y="360.8" font-size="5" font-weight="bold">R13</text>
<rect x="590.2" y="364.3" width="8" height="3.2" fill="#4a9af0"/>
<text x="602.6" y="367.8" font-size="5" font-weight="bold">R42</text>
<rect x="590.2" y="371.3" width="8" height="3.2" fill="#fbc88e"/>
<text x="602.6" y="374.7" font-size="5" font-weight="bold">R99</text>
<rect x="590.2" y="378.2" width="8" height="3.2" fill="#f58a1e"/>
<text x="602.6" y="381.7" font-size="5" font-weight="bold">R152</text>
</g>
<g>
<text x="621.3" y="348.3" font-size="13" font-weight="bold">h</text>
<rect x="664" y="343.5" width="40.2" height="120.3" fill="#5050f2"/>
<rect x="703.9000000000001" y="343.5" width="40.7" height="15.1" fill="#6868f3"/>
<rect x="703.9000000000001" y="358.5" width="40.7" height="15.1" fill="#cfcffb"/>
<rect x="703.9000000000001" y="373.6" width="40.7" height="15.1" fill="#f6f6ff"/>
<rect x="703.9000000000001" y="388.6" width="40.7" height="15.1" fill="#bcbcf9"/>
<rect x="703.9000000000001" y="403.6" width="40.7" height="15.1" fill="#8282f4"/>
<rect x="703.9000000000001" y="418.7" width="40.7" height="15.1" fill="#0808f0"/>
<rect x="703.9000000000001" y="433.7" width="40.7" height="15.1" fill="#8c8cf5"/>
<rect x="703.9000000000001" y="448.8" width="40.7" height="15.1" fill="#ffffff"/>
<path d="M664 343.5H744.6V463.8H664ZM664 351h-2.6M664 366.1h-2.6M664 381.1h-2.6M664 396.1h-2.6M664 411.2h-2.6M664 426.2h-2.6M664 441.2h-2.6M664 456.3h-2.6M684 463.8v2.2M724.4 463.8v2.2" stroke="#222" stroke-width="0.95" fill="none"/>
<text x="660.6" y="353.1" font-size="6" font-weight="bold" text-anchor="end">R13</text>
<text x="660.6" y="368.2" font-size="6" font-weight="bold" text-anchor="end">R42</text>
<text x="660.6" y="383.2" font-size="6" font-weight="bold" text-anchor="end">R77</text>
<text x="660.6" y="398.2" font-size="6" font-weight="bold" text-anchor="end">R137</text>
<text x="660.6" y="413.3" font-size="6" font-weight="bold" text-anchor="end">R99</text>
<text x="660.6" y="428.3" font-size="6" font-weight="bold" text-anchor="end">R152</text>
<text x="660.6" y="443.3" font-size="6" font-weight="bold" text-anchor="end">R167</text>
<text x="660.6" y="458.4" font-size="6" font-weight="bold" text-anchor="end">R174</text>
<text x="684" y="473.8" font-size="5.8" font-weight="bold" text-anchor="middle">0d</text>
<text x="724.4" y="473.8" font-size="5.8" font-weight="bold" text-anchor="middle">3d</text>
<defs><linearGradient id="hb" x1="0" y1="0" x2="0" y2="1"><stop offset="0" stop-color="#0a0af2"/><stop offset="1" stop-color="#ffffff"/></linearGradient></defs>
<rect x="753.8" y="343.5" width="10" height="120.3" fill="url(#hb)" stroke="#222" stroke-width="0.9"/>
<path d="M763.8 382h1.6M763.8 428.4h1.6M753.8 382h1.2M753.8 428.4h1.2" stroke="#000" stroke-width="0.6"/>
<text x="768" y="384.3" font-size="6.5">1.0</text>
<text x="768" y="430.7" font-size="6.5">0.5</text>
</g>
</svg>
</body></html>
